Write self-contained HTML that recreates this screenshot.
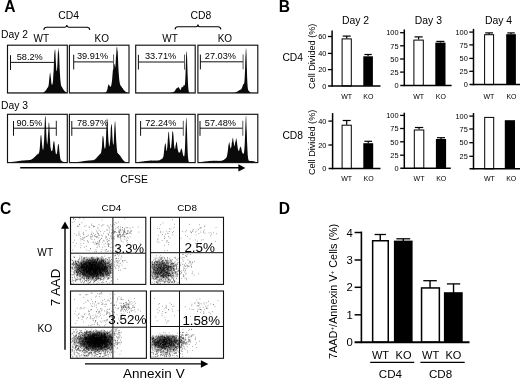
<!DOCTYPE html>
<html lang="en">
<head>
<meta charset="utf-8">
<title>Figure: CFSE proliferation and 7AAD / Annexin V staining of WT and KO CD4 and CD8 T cells</title>
<style>
html,body{margin:0;padding:0;background:#fff;}
body{width:520px;height:379px;overflow:hidden;}
svg{display:block;filter:blur(0.4px);}
svg text{font-family:"Liberation Sans", Arial, Helvetica, sans-serif;fill:#000;}
</style>
</head>
<body>
<svg width="520" height="379" viewBox="0 0 520 379">
<rect x="0" y="0" width="520" height="379" fill="#fff"/>
<text x="4.3" y="12" font-size="15.6" font-weight="bold">A</text>
<text x="58.2" y="18.9" font-size="10.4">CD4</text>
<text x="190.6" y="18.8" font-size="10.4">CD8</text>
<text x="1.1" y="38" font-size="10.3">Day 2</text>
<text x="1.1" y="108.5" font-size="10.3">Day 3</text>
<text x="33.6" y="41.6" font-size="10">WT</text>
<text x="94.5" y="41.6" font-size="10">KO</text>
<text x="162.3" y="41.5" font-size="10">WT</text>
<text x="217.7" y="41.5" font-size="10">KO</text>
<text x="120.2" y="182.6" font-size="10.4">CFSE</text>
<path d="M43.8 29.9 Q44.1 27.2 46.8 27.2 L65 27.2 Q66.5 27.2 66.8 25.2 Q67.1 27.2 68.6 27.2 L86.8 27.2 Q89.5 27.2 89.8 29.9" fill="none" stroke="#000" stroke-width="1.1"/>
<path d="M175 29.4 Q175.3 26.8 178 26.8 L196.15 26.8 Q197.65 26.8 197.95 24.5 Q198.25 26.8 199.75 26.8 L217.9 26.8 Q220.6 26.8 220.9 29.4" fill="none" stroke="#000" stroke-width="1.1"/>
<path d="M8.1 93L8.1 92.65L8.4 92.65L8.7 92.65L9 92.65L9.3 92.65L9.6 92.65L9.9 92.65L10.2 92.65L10.5 92.65L10.8 92.65L11.1 92.65L11.4 92.65L11.7 92.65L12 92.65L12.3 92.65L12.6 92.65L12.9 92.65L13.2 92.65L13.5 92.65L13.8 92.65L14.1 92.65L14.4 92.65L14.7 92.65L15 92.65L15.3 92.65L15.6 92.65L15.9 92.65L16.2 92.65L16.5 92.65L16.8 92.65L17.1 92.65L17.4 92.65L17.7 92.65L18 92.65L18.3 92.65L18.6 92.65L18.9 92.65L19.2 92.65L19.5 92.65L19.8 92.65L20.1 92.65L20.4 92.65L20.7 92.65L21 92.65L21.3 92.65L21.6 92.65L21.9 92.65L22.2 92.65L22.5 92.65L22.8 92.65L23.1 92.65L23.4 92.65L23.7 92.65L24 92.65L24.3 92.65L24.6 92.65L24.9 92.65L25.2 92.65L25.5 92.65L25.8 92.65L26.1 92.65L26.4 92.65L26.7 92.65L27 92.65L27.3 92.65L27.6 92.65L27.9 92.65L28.2 92.65L28.5 92.65L28.8 92.65L29.1 92.65L29.4 92.65L29.7 92.65L30 92.65L30.3 92.65L30.6 92.65L30.9 92.65L31.2 92.65L31.5 92.65L31.8 92.65L32.1 92.65L32.4 92.65L32.7 92.65L33 92.65L33.3 92.65L33.6 92.65L33.9 92.65L34.2 92.65L34.5 92.65L34.8 92.65L35.1 92.65L35.4 92.65L35.7 92.65L36 92.65L36.3 92.65L36.6 92.65L36.9 92.65L37.2 92.65L37.5 92.65L37.8 92.65L38.1 92.65L38.4 92.65L38.7 92.65L39 92.65L39.3 92.65L39.6 92.65L39.9 92.65L40.2 92.65L40.5 92.65L40.8 92.65L41.1 92.65L41.4 92.65L41.7 92.65L42 92.65L42.3 92.65L42.6 92.65L42.9 92.65L43.2 92.57L43.5 92.41L43.8 92.24L44.1 92.05L44.4 91.83L44.7 91.57L45 91.16L45.3 91L45.6 90.64L45.9 89.99L46.2 89.81L46.5 89.42L46.8 88.98L47.1 88.31L47.4 87.82L47.7 87.87L48 87.14L48.3 86.58L48.6 85.18L48.9 83.09L49.2 79.56L49.5 76.55L49.8 74.11L50.1 72.36L50.4 74.31L50.7 76.81L51 78.78L51.3 82.61L51.6 84.27L51.9 84.81L52.2 84.72L52.5 83.82L52.8 82.79L53.1 79.21L53.4 74.07L53.7 69.98L54 61.46L54.3 54.07L54.6 51.13L54.9 49.63L55.2 49.61L55.5 54.63L55.8 61.39L56.1 66.14L56.4 70.34L56.7 71.41L57 69.98L57.3 66.3L57.6 60.36L57.9 52.51L58.2 50.41L58.5 47.48L58.8 51.77L59.1 53.67L59.4 61.82L59.7 69.42L60 74.83L60.3 79.45L60.6 81.78L60.9 84.4L61.2 85.67L61.5 86.41L61.8 86.65L62.1 87.36L62.4 87.86L62.7 88.3L63 88.92L63.3 89.36L63.6 89.72L63.9 90.33L64.2 90.65L64.5 90.97L64.8 91.3L65.1 91.52L65.4 91.81L65.7 91.97L66 92.19L66.3 92.36L66.6 92.49L66.7 93Z" fill="#0a0a0a"/>
<rect x="7.5" y="45.2" width="59.8" height="47.8" fill="none" stroke="#111" stroke-width="1.15"/>
<line x1="10.5" y1="62.4" x2="54.5" y2="62.4" stroke="#111" stroke-width="1"/>
<line x1="10.5" y1="55.2" x2="10.5" y2="70" stroke="#111" stroke-width="1"/>
<text x="16.7" y="59.7" font-size="9.2" fill="#1a1a1a">58.2%</text>
<path d="M70 93L70 92.65L70.3 92.65L70.6 92.65L70.9 92.65L71.2 92.65L71.5 92.65L71.8 92.65L72.1 92.65L72.4 92.65L72.7 92.65L73 92.65L73.3 92.65L73.6 92.65L73.9 92.65L74.2 92.65L74.5 92.65L74.8 92.65L75.1 92.65L75.4 92.65L75.7 92.65L76 92.65L76.3 92.65L76.6 92.65L76.9 92.65L77.2 92.65L77.5 92.65L77.8 92.65L78.1 92.65L78.4 92.65L78.7 92.65L79 92.65L79.3 92.65L79.6 92.65L79.9 92.65L80.2 92.65L80.5 92.65L80.8 92.65L81.1 92.65L81.4 92.65L81.7 92.65L82 92.65L82.3 92.65L82.6 92.65L82.9 92.65L83.2 92.65L83.5 92.65L83.8 92.65L84.1 92.65L84.4 92.65L84.7 92.65L85 92.65L85.3 92.65L85.6 92.65L85.9 92.65L86.2 92.65L86.5 92.65L86.8 92.65L87.1 92.65L87.4 92.65L87.7 92.65L88 92.65L88.3 92.65L88.6 92.65L88.9 92.65L89.2 92.65L89.5 92.65L89.8 92.65L90.1 92.65L90.4 92.65L90.7 92.65L91 92.65L91.3 92.65L91.6 92.65L91.9 92.65L92.2 92.65L92.5 92.65L92.8 92.65L93.1 92.65L93.4 92.65L93.7 92.65L94 92.65L94.3 92.65L94.6 92.65L94.9 92.65L95.2 92.65L95.5 92.65L95.8 92.65L96.1 92.65L96.4 92.65L96.7 92.65L97 92.65L97.3 92.65L97.6 92.65L97.9 92.65L98.2 92.65L98.5 92.65L98.8 92.65L99.1 92.65L99.4 92.65L99.7 92.65L100 92.65L100.3 92.65L100.6 92.65L100.9 92.65L101.2 92.65L101.5 92.65L101.8 92.65L102.1 92.65L102.4 92.65L102.7 92.65L103 92.65L103.3 92.65L103.6 92.65L103.9 92.65L104.2 92.65L104.5 92.65L104.8 92.61L105.1 92.53L105.4 92.43L105.7 92.29L106 92.15L106.3 91.81L106.6 91.37L106.9 90.81L107.2 89.88L107.5 88.65L107.8 86.82L108.1 85.77L108.4 84.88L108.7 83.99L109 84.39L109.3 85.21L109.6 85.88L109.9 86.28L110.2 86.89L110.5 86.86L110.8 86.25L111.1 85.72L111.4 84.7L111.7 82.85L112 80.98L112.3 77.35L112.6 73.53L112.9 70.14L113.2 66.95L113.5 62.3L113.8 62.54L114.1 63.98L114.4 64.25L114.7 65.14L115 67.8L115.3 66.81L115.6 63.75L115.9 57.74L116.2 55.11L116.5 48.75L116.8 46.7L117.1 46.76L117.4 50.52L117.7 51.85L118 58.42L118.3 65.4L118.6 71.61L118.9 75.35L119.2 79.23L119.5 81.45L119.8 83.36L120.1 84.16L120.4 85.39L120.7 85.77L121 85.79L121.3 86.32L121.6 87.11L121.9 87.23L122.2 87.95L122.5 88.06L122.8 88.58L123.1 89.12L123.4 89.56L123.7 90L124 90.1L124.3 90.65L124.6 90.78L124.9 91.04L125.2 91.38L125.5 91.67L125.8 91.79L126.1 91.98L126.4 92.17L126.7 92.33L127 92.46L127.3 92.56L127.6 92.65L127.9 92.65L128.2 92.65L128.4 93Z" fill="#0a0a0a"/>
<rect x="69.4" y="45.2" width="59.6" height="47.8" fill="none" stroke="#111" stroke-width="1.15"/>
<line x1="73.7" y1="61.9" x2="113.6" y2="61.9" stroke="#111" stroke-width="1"/>
<line x1="73.7" y1="54.7" x2="73.7" y2="69.5" stroke="#111" stroke-width="1"/>
<line x1="113.6" y1="54.5" x2="113.6" y2="69.5" stroke="#5a5a5a" stroke-width="1"/>
<text x="76.9" y="59.2" font-size="9.2" fill="#1a1a1a">39.91%</text>
<path d="M136.3 93L136.3 92.65L136.6 92.65L136.9 92.65L137.2 92.65L137.5 92.65L137.8 92.65L138.1 92.65L138.4 92.65L138.7 92.65L139 92.65L139.3 92.65L139.6 92.65L139.9 92.65L140.2 92.65L140.5 92.65L140.8 92.65L141.1 92.65L141.4 92.65L141.7 92.65L142 92.65L142.3 92.65L142.6 92.65L142.9 92.65L143.2 92.65L143.5 92.65L143.8 92.65L144.1 92.65L144.4 92.65L144.7 92.65L145 92.65L145.3 92.65L145.6 92.65L145.9 92.65L146.2 92.65L146.5 92.65L146.8 92.65L147.1 92.65L147.4 92.65L147.7 92.65L148 92.65L148.3 92.65L148.6 92.65L148.9 92.65L149.2 92.65L149.5 92.65L149.8 92.65L150.1 92.65L150.4 92.65L150.7 92.65L151 92.65L151.3 92.65L151.6 92.65L151.9 92.65L152.2 92.65L152.5 92.65L152.8 92.65L153.1 92.65L153.4 92.65L153.7 92.65L154 92.65L154.3 92.65L154.6 92.65L154.9 92.65L155.2 92.65L155.5 92.65L155.8 92.65L156.1 92.65L156.4 92.65L156.7 92.65L157 92.65L157.3 92.65L157.6 92.65L157.9 92.65L158.2 92.65L158.5 92.65L158.8 92.65L159.1 92.65L159.4 92.65L159.7 92.65L160 92.65L160.3 92.65L160.6 92.65L160.9 92.65L161.2 92.65L161.5 92.65L161.8 92.65L162.1 92.65L162.4 92.65L162.7 92.65L163 92.65L163.3 92.65L163.6 92.65L163.9 92.65L164.2 92.65L164.5 92.65L164.8 92.65L165.1 92.65L165.4 92.65L165.7 92.65L166 92.65L166.3 92.65L166.6 92.65L166.9 92.65L167.2 92.65L167.5 92.65L167.8 92.65L168.1 92.65L168.4 92.65L168.7 92.65L169 92.65L169.3 92.65L169.6 92.65L169.9 92.65L170.2 92.65L170.5 92.63L170.8 92.6L171.1 92.51L171.4 92.49L171.7 92.45L172 92.37L172.3 92.29L172.6 92.21L172.9 92.19L173.2 92.09L173.5 92.03L173.8 91.87L174.1 91.67L174.4 91.45L174.7 91.1L175 90.7L175.3 90.15L175.6 89.62L175.9 89.16L176.2 88.81L176.5 88.3L176.8 88.27L177.1 88.23L177.4 87.89L177.7 87.4L178 87.52L178.3 87.05L178.6 87.16L178.9 87.38L179.2 88.12L179.5 88.41L179.8 89.35L180.1 89.7L180.4 89.94L180.7 89.86L181 89L181.3 88.19L181.6 87.23L181.9 86.65L182.2 86.6L182.5 87.13L182.8 87.23L183.1 87.16L183.4 86.08L183.7 85.16L184 84.65L184.3 85.45L184.6 85.53L184.9 84.77L185.2 81.09L185.5 74.59L185.8 65.33L186.1 56.54L186.4 52.28L186.7 50.71L187 54.97L187.3 65.02L187.6 73.97L187.9 81.23L188.2 86.96L188.5 89.89L188.8 91.59L189.1 92.27L189.4 92.53L189.7 92.64L190 92.65L190.3 92.65L190.6 92.65L190.9 92.65L191.2 92.65L191.5 92.65L191.8 92.65L192.1 92.65L192.4 92.65L192.7 92.65L193 92.65L193.3 92.65L193.6 92.65L193.9 92.65L194.2 92.65L194.5 92.65L194.6 93Z" fill="#0a0a0a"/>
<rect x="135.7" y="45.2" width="59.5" height="47.8" fill="none" stroke="#111" stroke-width="1.15"/>
<line x1="138.4" y1="62" x2="184.5" y2="62" stroke="#111" stroke-width="1"/>
<line x1="138.4" y1="54.8" x2="138.4" y2="69.6" stroke="#111" stroke-width="1"/>
<line x1="184.5" y1="54.6" x2="184.5" y2="69.6" stroke="#5a5a5a" stroke-width="1"/>
<text x="145" y="59.3" font-size="9.2" fill="#1a1a1a">33.71%</text>
<path d="M198.5 93L198.5 92.65L198.8 92.65L199.1 92.65L199.4 92.65L199.7 92.65L200 92.65L200.3 92.65L200.6 92.65L200.9 92.65L201.2 92.65L201.5 92.65L201.8 92.65L202.1 92.65L202.4 92.65L202.7 92.65L203 92.65L203.3 92.65L203.6 92.65L203.9 92.65L204.2 92.65L204.5 92.65L204.8 92.65L205.1 92.65L205.4 92.65L205.7 92.65L206 92.65L206.3 92.65L206.6 92.65L206.9 92.65L207.2 92.65L207.5 92.65L207.8 92.65L208.1 92.65L208.4 92.65L208.7 92.65L209 92.65L209.3 92.65L209.6 92.65L209.9 92.65L210.2 92.65L210.5 92.65L210.8 92.65L211.1 92.65L211.4 92.65L211.7 92.65L212 92.65L212.3 92.65L212.6 92.65L212.9 92.65L213.2 92.65L213.5 92.65L213.8 92.65L214.1 92.65L214.4 92.65L214.7 92.65L215 92.65L215.3 92.65L215.6 92.65L215.9 92.65L216.2 92.65L216.5 92.65L216.8 92.65L217.1 92.65L217.4 92.65L217.7 92.65L218 92.65L218.3 92.65L218.6 92.65L218.9 92.65L219.2 92.65L219.5 92.65L219.8 92.65L220.1 92.65L220.4 92.65L220.7 92.65L221 92.65L221.3 92.65L221.6 92.65L221.9 92.65L222.2 92.65L222.5 92.65L222.8 92.65L223.1 92.65L223.4 92.65L223.7 92.65L224 92.65L224.3 92.65L224.6 92.65L224.9 92.65L225.2 92.65L225.5 92.65L225.8 92.65L226.1 92.65L226.4 92.65L226.7 92.65L227 92.65L227.3 92.65L227.6 92.65L227.9 92.65L228.2 92.65L228.5 92.65L228.8 92.65L229.1 92.65L229.4 92.65L229.7 92.65L230 92.65L230.3 92.65L230.6 92.65L230.9 92.65L231.2 92.65L231.5 92.65L231.8 92.65L232.1 92.65L232.4 92.65L232.7 92.65L233 92.65L233.3 92.65L233.6 92.65L233.9 92.65L234.2 92.65L234.5 92.65L234.8 92.61L235.1 92.52L235.4 92.44L235.7 92.31L236 92.18L236.3 92.11L236.6 91.96L236.9 91.73L237.2 91.52L237.5 91.44L237.8 91.21L238.1 90.99L238.4 90.85L238.7 90.65L239 90.47L239.3 90.27L239.6 90.04L239.9 89.97L240.2 89.8L240.5 89.53L240.8 89.63L241.1 89.24L241.4 88.87L241.7 88.6L242 88.02L242.3 86.85L242.6 86.24L242.9 85.36L243.2 84.43L243.5 83.78L243.8 84.16L244.1 83.55L244.4 81.98L244.7 77.34L245 71.01L245.3 60.53L245.6 54.12L245.9 48.58L246.2 48.47L246.5 54.82L246.8 66.41L247.1 76.36L247.4 83.36L247.7 87.19L248 89.44L248.3 90.2L248.6 90.67L248.9 91.12L249.2 91.39L249.5 91.59L249.8 91.89L250.1 92.13L250.4 92.38L250.7 92.56L251 92.65L251.3 92.65L251.6 92.65L251.9 92.65L252.2 92.65L252.5 92.65L252.8 92.65L253.1 92.65L253.4 92.65L253.7 92.65L254 92.65L254.3 92.65L254.6 92.65L254.9 92.65L255.2 92.65L255.5 92.65L255.8 92.65L256.1 92.65L256.4 92.65L256.7 92.65L257 92.65L257.2 93Z" fill="#0a0a0a"/>
<rect x="197.9" y="45.2" width="59.9" height="47.8" fill="none" stroke="#111" stroke-width="1.15"/>
<line x1="200.4" y1="61.8" x2="243.1" y2="61.8" stroke="#111" stroke-width="1"/>
<line x1="200.4" y1="54.6" x2="200.4" y2="69.4" stroke="#111" stroke-width="1"/>
<line x1="243.1" y1="54.4" x2="243.1" y2="69.4" stroke="#5a5a5a" stroke-width="1"/>
<text x="204.8" y="59.1" font-size="9.2" fill="#1a1a1a">27.03%</text>
<path d="M8.1 162.6L8.1 162.25L8.4 162.25L8.7 162.22L9 162.22L9.3 162.17L9.6 162.14L9.9 162.13L10.2 162.12L10.5 162.08L10.8 162.06L11.1 162.04L11.4 161.97L11.7 161.93L12 161.96L12.3 161.88L12.6 161.86L12.9 161.84L13.2 161.81L13.5 161.75L13.8 161.73L14.1 161.67L14.4 161.63L14.7 161.65L15 161.54L15.3 161.48L15.6 161.44L15.9 161.43L16.2 161.46L16.5 161.42L16.8 161.37L17.1 161.22L17.4 161.26L17.7 161.21L18 161.09L18.3 161.13L18.6 161.05L18.9 161.02L19.2 161.04L19.5 160.91L19.8 160.83L20.1 160.9L20.4 160.85L20.7 160.78L21 160.81L21.3 160.68L21.6 160.58L21.9 160.58L22.2 160.56L22.5 160.46L22.8 160.58L23.1 160.46L23.4 160.47L23.7 160.39L24 160.47L24.3 160.3L24.6 160.42L24.9 160.39L25.2 160.22L25.5 160.16L25.8 160.27L26.1 160.25L26.4 160.28L26.7 160.25L27 160.16L27.3 160.25L27.6 160.25L27.9 160.15L28.2 160.2L28.5 160.06L28.8 159.99L29.1 159.97L29.4 160.01L29.7 160L30 159.92L30.3 159.98L30.6 159.7L30.9 159.72L31.2 159.62L31.5 159.57L31.8 159.3L32.1 159.09L32.4 158.97L32.7 158.58L33 158.42L33.3 158.36L33.6 157.97L33.9 157.49L34.2 157.38L34.5 157.03L34.8 157.02L35.1 156.45L35.4 156.15L35.7 155.88L36 155.56L36.3 155.14L36.6 154.9L36.9 154.67L37.2 154.69L37.5 154.24L37.8 153.58L38.1 153.86L38.4 153.97L38.7 153.67L39 152.53L39.3 151.86L39.6 149.76L39.9 146.65L40.2 142.05L40.5 136.73L40.8 135.22L41.1 134.74L41.4 136.61L41.7 139.89L42 143.84L42.3 146.61L42.6 148.52L42.9 149.7L43.2 149.79L43.5 147.9L43.8 144.09L44.1 140.22L44.4 132.95L44.7 123.83L45 117.21L45.3 115.8L45.6 117.35L45.9 122.41L46.2 131.28L46.5 137.27L46.8 141.73L47.1 144.67L47.4 143.06L47.7 139.97L48 134.23L48.3 131.02L48.6 123.38L48.9 122.2L49.2 123.44L49.5 128.43L49.8 136.64L50.1 141.34L50.4 146.48L50.7 148.37L51 149.39L51.3 150.96L51.6 151.01L51.9 151.24L52.2 150.64L52.5 149.63L52.8 148.19L53.1 144.58L53.4 142.46L53.7 141.65L54 140.58L54.3 141.67L54.6 144.17L54.9 147.05L55.2 149.37L55.5 151.66L55.8 153.42L56.1 154.17L56.4 154.22L56.7 153.87L57 153.17L57.3 150.87L57.6 147.94L57.9 145.22L58.2 143.63L58.5 144.24L58.8 144.78L59.1 147.94L59.4 151.19L59.7 154.11L60 156.52L60.3 158.19L60.6 159.39L60.9 160.16L61.2 160.49L61.5 160.83L61.8 161.06L62.1 161.29L62.4 161.44L62.7 161.61L63 161.71L63.3 161.86L63.6 161.97L63.9 162.06L64.2 162.15L64.5 162.21L64.8 162.25L65.1 162.25L65.4 162.25L65.7 162.25L66 162.25L66.3 162.25L66.6 162.25L66.7 162.6Z" fill="#0a0a0a"/>
<rect x="7.5" y="114.3" width="59.8" height="48.3" fill="none" stroke="#111" stroke-width="1.15"/>
<line x1="13.5" y1="128.2" x2="56.3" y2="128.2" stroke="#111" stroke-width="1"/>
<line x1="13.5" y1="121" x2="13.5" y2="135.8" stroke="#111" stroke-width="1"/>
<line x1="56.3" y1="120.8" x2="56.3" y2="135.8" stroke="#222" stroke-width="1"/>
<text x="16.4" y="125.5" font-size="9.2" fill="#1a1a1a">90.5%</text>
<path d="M70 162.6L70 162.25L70.3 162.25L70.6 162.25L70.9 162.25L71.2 162.25L71.5 162.25L71.8 162.25L72.1 162.25L72.4 162.25L72.7 162.25L73 162.25L73.3 162.25L73.6 162.25L73.9 162.25L74.2 162.25L74.5 162.25L74.8 162.23L75.1 162.21L75.4 162.19L75.7 162.17L76 162.16L76.3 162.14L76.6 162.09L76.9 162.09L77.2 162.05L77.5 162.01L77.8 162L78.1 161.93L78.4 161.9L78.7 161.84L79 161.82L79.3 161.78L79.6 161.75L79.9 161.69L80.2 161.67L80.5 161.65L80.8 161.54L81.1 161.49L81.4 161.46L81.7 161.43L82 161.44L82.3 161.4L82.6 161.35L82.9 161.34L83.2 161.2L83.5 161.21L83.8 161.1L84.1 161.12L84.4 160.99L84.7 160.96L85 161.06L85.3 160.98L85.6 160.82L85.9 160.86L86.2 160.73L86.5 160.79L86.8 160.82L87.1 160.68L87.4 160.61L87.7 160.68L88 160.69L88.3 160.61L88.6 160.45L88.9 160.46L89.2 160.57L89.5 160.52L89.8 160.53L90.1 160.52L90.4 160.34L90.7 160.46L91 160.35L91.3 160.36L91.6 160.4L91.9 160.25L92.2 160.36L92.5 160.2L92.8 160.29L93.1 160.16L93.4 160.15L93.7 160.05L94 159.76L94.3 159.68L94.6 159.67L94.9 159.32L95.2 159.33L95.5 159.03L95.8 158.58L96.1 158.36L96.4 158.27L96.7 157.49L97 157.51L97.3 157.11L97.6 156.42L97.9 156.31L98.2 155.96L98.5 155.78L98.8 155.45L99.1 154.79L99.4 154.8L99.7 154.29L100 154.28L100.3 154.02L100.6 153.31L100.9 153.25L101.2 152.21L101.5 150.09L101.8 148.17L102.1 144.53L102.4 138.79L102.7 135.55L103 135.68L103.3 136.82L103.6 138.37L103.9 141.8L104.2 146.56L104.5 147.71L104.8 148.83L105.1 148.83L105.4 147.24L105.7 144.23L106 139.02L106.3 129.41L106.6 124.95L106.9 118.24L107.2 119.2L107.5 119.85L107.8 126.72L108.1 134.28L108.4 140.08L108.7 142.75L109 146.01L109.3 146.4L109.6 145.36L109.9 143.04L110.2 140.16L110.5 136.19L110.8 128.58L111.1 126.05L111.4 124.26L111.7 124.08L112 127.43L112.3 134.36L112.6 139.55L112.9 143.18L113.2 144.6L113.5 144.65L113.8 141.05L114.1 134.53L114.4 127.96L114.7 123.72L115 120.83L115.3 122.13L115.6 127.97L115.9 134.29L116.2 140.56L116.5 144.21L116.8 148.54L117.1 150.67L117.4 152.99L117.7 153.07L118 153.62L118.3 153.7L118.6 154.33L118.9 154.06L119.2 155.11L119.5 155.08L119.8 155.32L120.1 155.61L120.4 156.14L120.7 156.6L121 157L121.3 157.4L121.6 158.12L121.9 158.41L122.2 158.76L122.5 159.2L122.8 159.73L123.1 160L123.4 160.33L123.7 160.7L124 160.97L124.3 161.26L124.6 161.45L124.9 161.64L125.2 161.85L125.5 161.95L125.8 162.06L126.1 162.17L126.4 162.25L126.7 162.25L127 162.25L127.3 162.25L127.6 162.25L127.9 162.25L128.2 162.25L128.4 162.6Z" fill="#0a0a0a"/>
<rect x="69.4" y="114.3" width="59.6" height="48.3" fill="none" stroke="#111" stroke-width="1.15"/>
<line x1="71.8" y1="128.2" x2="107" y2="128.2" stroke="#111" stroke-width="1"/>
<line x1="71.8" y1="121" x2="71.8" y2="135.8" stroke="#111" stroke-width="1"/>
<text x="76.9" y="125.5" font-size="9.2" fill="#1a1a1a">78.97%</text>
<path d="M136.3 162.6L136.3 162.16L136.6 162.13L136.9 162.1L137.2 162.1L137.5 162.08L137.8 162.03L138.1 162.01L138.4 161.94L138.7 161.92L139 161.89L139.3 161.86L139.6 161.81L139.9 161.82L140.2 161.76L140.5 161.75L140.8 161.64L141.1 161.68L141.4 161.57L141.7 161.61L142 161.5L142.3 161.5L142.6 161.45L142.9 161.36L143.2 161.42L143.5 161.38L143.8 161.22L144.1 161.24L144.4 161.26L144.7 161.09L145 161.06L145.3 161.14L145.6 161.06L145.9 161.07L146.2 161.01L146.5 160.92L146.8 160.96L147.1 160.84L147.4 160.92L147.7 160.87L148 160.73L148.3 160.78L148.6 160.75L148.9 160.7L149.2 160.7L149.5 160.69L149.8 160.75L150.1 160.59L150.4 160.53L150.7 160.52L151 160.57L151.3 160.62L151.6 160.62L151.9 160.54L152.2 160.54L152.5 160.66L152.8 160.63L153.1 160.6L153.4 160.58L153.7 160.52L154 160.58L154.3 160.68L154.6 160.52L154.9 160.6L155.2 160.59L155.5 160.65L155.8 160.6L156.1 160.61L156.4 160.52L156.7 160.64L157 160.54L157.3 160.59L157.6 160.46L157.9 160.56L158.2 160.47L158.5 160.4L158.8 160.28L159.1 160.35L159.4 160.17L159.7 160.14L160 160.02L160.3 159.84L160.6 159.57L160.9 159.56L161.2 159.24L161.5 159.32L161.8 158.85L162.1 158.83L162.4 158.64L162.7 158.05L163 157.41L163.3 157L163.6 155.37L163.9 152.64L164.2 150.09L164.5 147.04L164.8 144.88L165.1 143.63L165.4 142.98L165.7 144.26L166 146.81L166.3 149.62L166.6 151.23L166.9 150.49L167.2 147.86L167.5 144.13L167.8 139.79L168.1 136.21L168.4 132.14L168.7 131.53L169 133L169.3 137.72L169.6 140.41L169.9 144.26L170.2 147.85L170.5 148.78L170.8 148.03L171.1 147.88L171.4 144.59L171.7 141.86L172 137.02L172.3 132.59L172.6 131.22L172.9 130.63L173.2 132.99L173.5 135.95L173.8 140.66L174.1 145.66L174.4 147.06L174.7 148.99L175 149.27L175.3 148.04L175.6 145.47L175.9 144.21L176.2 142.54L176.5 141.43L176.8 142.15L177.1 144.4L177.4 147.23L177.7 149.05L178 150.24L178.3 151.38L178.6 152.16L178.9 152.66L179.2 152.74L179.5 152.33L179.8 152.28L180.1 152.41L180.4 150.96L180.7 149.85L181 149.14L181.3 148.46L181.6 148.45L181.9 149.58L182.2 150.43L182.5 152.34L182.8 154.03L183.1 155.07L183.4 156.07L183.7 156.32L184 156.61L184.3 155.98L184.6 153.67L184.9 149.78L185.2 142.01L185.5 132.25L185.8 124.1L186.1 118.7L186.4 117.26L186.7 122.66L187 130.42L187.3 141.86L187.6 150.22L187.9 155.79L188.2 159.08L188.5 160.86L188.8 161.68L189.1 162L189.4 162.19L189.7 162.25L190 162.25L190.3 162.25L190.6 162.25L190.9 162.25L191.2 162.25L191.5 162.25L191.8 162.25L192.1 162.25L192.4 162.25L192.7 162.25L193 162.25L193.3 162.25L193.6 162.25L193.9 162.25L194.2 162.25L194.5 162.25L194.6 162.6Z" fill="#0a0a0a"/>
<rect x="135.7" y="114.3" width="59.5" height="48.3" fill="none" stroke="#111" stroke-width="1.15"/>
<line x1="140.6" y1="128.2" x2="183.3" y2="128.2" stroke="#111" stroke-width="1"/>
<line x1="140.6" y1="121" x2="140.6" y2="135.8" stroke="#111" stroke-width="1"/>
<line x1="183.3" y1="120.8" x2="183.3" y2="135.8" stroke="#5a5a5a" stroke-width="1"/>
<text x="145.2" y="125.5" font-size="9.2" fill="#1a1a1a">72.24%</text>
<path d="M198.5 162.6L198.5 162.2L198.8 162.16L199.1 162.13L199.4 162.1L199.7 162.11L200 162.08L200.3 162.05L200.6 162.02L200.9 161.96L201.2 161.97L201.5 161.91L201.8 161.9L202.1 161.86L202.4 161.82L202.7 161.75L203 161.74L203.3 161.76L203.6 161.7L203.9 161.67L204.2 161.57L204.5 161.54L204.8 161.5L205.1 161.46L205.4 161.43L205.7 161.37L206 161.35L206.3 161.38L206.6 161.27L206.9 161.28L207.2 161.21L207.5 161.2L207.8 161.19L208.1 161.17L208.4 161.13L208.7 161.11L209 161.12L209.3 160.98L209.6 160.96L209.9 160.9L210.2 160.92L210.5 160.92L210.8 160.87L211.1 160.95L211.4 160.84L211.7 160.87L212 160.9L212.3 160.88L212.6 160.82L212.9 160.86L213.2 160.81L213.5 160.78L213.8 160.82L214.1 160.86L214.4 160.8L214.7 160.84L215 160.85L215.3 160.86L215.6 160.84L215.9 160.9L216.2 160.8L216.5 160.76L216.8 160.87L217.1 160.82L217.4 160.79L217.7 160.96L218 160.95L218.3 160.84L218.6 160.84L218.9 160.88L219.2 160.96L219.5 160.91L219.8 160.83L220.1 160.81L220.4 160.8L220.7 160.88L221 160.73L221.3 160.77L221.6 160.65L221.9 160.7L222.2 160.45L222.5 160.43L222.8 160.29L223.1 160.29L223.4 160.05L223.7 159.89L224 159.71L224.3 159.58L224.6 159.23L224.9 159.12L225.2 158.87L225.5 158.64L225.8 158.09L226.1 157.98L226.4 157.46L226.7 156.93L227 155.64L227.3 154.31L227.6 152.38L227.9 150.54L228.2 147.28L228.5 144.89L228.8 143.57L229.1 143.09L229.4 141.59L229.7 144.7L230 146.08L230.3 147.61L230.6 147.96L230.9 148.69L231.2 147.19L231.5 145.64L231.8 142.52L232.1 141.96L232.4 139.51L232.7 138.34L233 137.59L233.3 140.04L233.6 142L233.9 143.45L234.2 145.43L234.5 146.38L234.8 145.2L235.1 143.25L235.4 141.82L235.7 141.06L236 138.82L236.3 138.1L236.6 140.3L236.9 141.34L237.2 144.1L237.5 146.56L237.8 148.39L238.1 149.86L238.4 150.48L238.7 151.17L239 150.59L239.3 150.4L239.6 148.57L239.9 147.65L240.2 147.61L240.5 145.92L240.8 147.1L241.1 147.54L241.4 148.76L241.7 150.45L242 151.7L242.3 152.46L242.6 153.4L242.9 153.17L243.2 154.11L243.5 153.5L243.8 153.53L244.1 151.96L244.4 148.73L244.7 144.16L245 136.92L245.3 128.19L245.6 120.91L245.9 115.8L246.2 116.21L246.5 125.93L246.8 132.61L247.1 142.42L247.4 148.73L247.7 154.57L248 157.44L248.3 159.33L248.6 160.27L248.9 160.67L249.2 160.79L249.5 160.78L249.8 160.96L250.1 160.93L250.4 160.97L250.7 160.98L251 160.92L251.3 161.02L251.6 160.95L251.9 160.98L252.2 160.96L252.5 161.06L252.8 161.05L253.1 161.18L253.4 161.22L253.7 161.29L254 161.35L254.3 161.43L254.6 161.6L254.9 161.69L255.2 161.74L255.5 161.81L255.8 161.92L256.1 162.02L256.4 162.06L256.7 162.17L257 162.24L257.2 162.6Z" fill="#0a0a0a"/>
<rect x="197.9" y="114.3" width="59.9" height="48.3" fill="none" stroke="#111" stroke-width="1.15"/>
<line x1="200" y1="128.2" x2="242.8" y2="128.2" stroke="#111" stroke-width="1"/>
<line x1="200" y1="121" x2="200" y2="135.8" stroke="#111" stroke-width="1"/>
<line x1="242.8" y1="120.8" x2="242.8" y2="135.8" stroke="#5a5a5a" stroke-width="1"/>
<text x="204.8" y="125.5" font-size="9.2" fill="#1a1a1a">57.48%</text>
<line x1="20.2" y1="167.8" x2="239.5" y2="167.8" stroke="#000" stroke-width="1.4"/>
<path d="M245.4 167.9L238.4 164.3L238.4 171.6Z" fill="#000"/>
<text x="278.7" y="12" font-size="15.6" font-weight="bold">B</text>
<text x="342" y="23.5" font-size="10.4">Day 2</text>
<text x="414.8" y="23.5" font-size="10.4">Day 3</text>
<text x="485" y="23.5" font-size="10.4">Day 4</text>
<text x="282.4" y="61.3" font-size="10.3">CD4</text>
<text x="282.4" y="139.2" font-size="10.3">CD8</text>
<text x="314.7" y="89" font-size="8.8" transform="rotate(-90 314.7 89)" textLength="65.4" lengthAdjust="spacingAndGlyphs">Cell Divided (%)</text>
<text x="314.7" y="175.1" font-size="8.8" transform="rotate(-90 314.7 175.1)" textLength="65.4" lengthAdjust="spacingAndGlyphs">Cell Divided (%)</text>
<line x1="346.7" y1="36.1" x2="346.7" y2="38.4" stroke="#000" stroke-width="1.2"/>
<line x1="342.7" y1="36.1" x2="350.7" y2="36.1" stroke="#000" stroke-width="1.2"/>
<rect x="342.1" y="38.9" width="9.2" height="47" fill="#fff" stroke="#000" stroke-width="1"/>
<text x="341.2" y="98.6" font-size="7">WT</text>
<line x1="368.1" y1="54.5" x2="368.1" y2="56.3" stroke="#000" stroke-width="1.2"/>
<line x1="364.4" y1="54.5" x2="371.8" y2="54.5" stroke="#000" stroke-width="1.2"/>
<rect x="363.3" y="56.3" width="9.6" height="29.6" fill="#000" stroke="none" stroke-width="0"/>
<text x="363.3" y="98.6" font-size="7">KO</text>
<line x1="332.1" y1="30.4" x2="332.1" y2="86.6" stroke="#000" stroke-width="1.5"/>
<line x1="328.1" y1="85.9" x2="380.5" y2="85.9" stroke="#000" stroke-width="1.5"/>
<line x1="327.9" y1="36.5" x2="332.1" y2="36.5" stroke="#000" stroke-width="1.3"/>
<text x="326.4" y="39.2" font-size="7.4" text-anchor="end">60</text>
<line x1="327.9" y1="53.4" x2="332.1" y2="53.4" stroke="#000" stroke-width="1.3"/>
<text x="326.4" y="56.1" font-size="7.4" text-anchor="end">40</text>
<line x1="327.9" y1="69.6" x2="332.1" y2="69.6" stroke="#000" stroke-width="1.3"/>
<text x="326.4" y="72.3" font-size="7.4" text-anchor="end">20</text>
<text x="326.4" y="88.6" font-size="7.4" text-anchor="end">0</text>
<line x1="418.6" y1="36.9" x2="418.6" y2="39.6" stroke="#000" stroke-width="1.2"/>
<line x1="414.5" y1="36.9" x2="422.7" y2="36.9" stroke="#000" stroke-width="1.2"/>
<rect x="413.9" y="40.1" width="9.4" height="45.4" fill="#fff" stroke="#000" stroke-width="1"/>
<text x="413.2" y="98.6" font-size="7">WT</text>
<line x1="440.4" y1="41.4" x2="440.4" y2="42.6" stroke="#000" stroke-width="1.2"/>
<line x1="436.4" y1="41.4" x2="444.4" y2="41.4" stroke="#000" stroke-width="1.2"/>
<rect x="435.3" y="42.6" width="10.2" height="42.9" fill="#000" stroke="none" stroke-width="0"/>
<text x="435.8" y="98.6" font-size="7">KO</text>
<line x1="404.3" y1="29.5" x2="404.3" y2="86.2" stroke="#000" stroke-width="1.5"/>
<line x1="400.3" y1="85.5" x2="451.6" y2="85.5" stroke="#000" stroke-width="1.5"/>
<line x1="400.1" y1="32.7" x2="404.3" y2="32.7" stroke="#000" stroke-width="1.3"/>
<text x="398.6" y="35.4" font-size="7.4" text-anchor="end">100</text>
<line x1="400.1" y1="45.8" x2="404.3" y2="45.8" stroke="#000" stroke-width="1.3"/>
<text x="398.6" y="48.5" font-size="7.4" text-anchor="end">75</text>
<line x1="400.1" y1="59" x2="404.3" y2="59" stroke="#000" stroke-width="1.3"/>
<text x="398.6" y="61.7" font-size="7.4" text-anchor="end">50</text>
<line x1="400.1" y1="72.1" x2="404.3" y2="72.1" stroke="#000" stroke-width="1.3"/>
<text x="398.6" y="74.8" font-size="7.4" text-anchor="end">25</text>
<text x="398.6" y="88.2" font-size="7.4" text-anchor="end">0</text>
<line x1="489.1" y1="32.9" x2="489.1" y2="34.2" stroke="#000" stroke-width="1.2"/>
<line x1="485.2" y1="32.9" x2="493" y2="32.9" stroke="#000" stroke-width="1.2"/>
<rect x="484.6" y="34.7" width="9" height="49.9" fill="#fff" stroke="#000" stroke-width="1"/>
<text x="483.4" y="98.6" font-size="7">WT</text>
<line x1="511.05" y1="32.9" x2="511.05" y2="34.2" stroke="#000" stroke-width="1.2"/>
<line x1="507.3" y1="32.9" x2="514.8" y2="32.9" stroke="#000" stroke-width="1.2"/>
<rect x="506.2" y="34.2" width="9.7" height="50.4" fill="#000" stroke="none" stroke-width="0"/>
<text x="506.4" y="98.6" font-size="7">KO</text>
<line x1="473.5" y1="28.9" x2="473.5" y2="85.3" stroke="#000" stroke-width="1.5"/>
<line x1="469.5" y1="84.6" x2="520.5" y2="84.6" stroke="#000" stroke-width="1.5"/>
<line x1="469.3" y1="32.1" x2="473.5" y2="32.1" stroke="#000" stroke-width="1.3"/>
<text x="467.8" y="34.8" font-size="7.4" text-anchor="end">100</text>
<line x1="469.3" y1="44.9" x2="473.5" y2="44.9" stroke="#000" stroke-width="1.3"/>
<text x="467.8" y="47.6" font-size="7.4" text-anchor="end">75</text>
<line x1="469.3" y1="58.4" x2="473.5" y2="58.4" stroke="#000" stroke-width="1.3"/>
<text x="467.8" y="61.1" font-size="7.4" text-anchor="end">50</text>
<line x1="469.3" y1="71.3" x2="473.5" y2="71.3" stroke="#000" stroke-width="1.3"/>
<text x="467.8" y="74" font-size="7.4" text-anchor="end">25</text>
<text x="467.8" y="87.3" font-size="7.4" text-anchor="end">0</text>
<line x1="346.7" y1="120.5" x2="346.7" y2="124.7" stroke="#000" stroke-width="1.2"/>
<line x1="342.7" y1="120.5" x2="350.7" y2="120.5" stroke="#000" stroke-width="1.2"/>
<rect x="342.1" y="125.2" width="9.2" height="43.4" fill="#fff" stroke="#000" stroke-width="1"/>
<text x="341.2" y="181.1" font-size="7">WT</text>
<line x1="368.25" y1="141.3" x2="368.25" y2="143.2" stroke="#000" stroke-width="1.2"/>
<line x1="364.4" y1="141.3" x2="372.1" y2="141.3" stroke="#000" stroke-width="1.2"/>
<rect x="363.3" y="143.2" width="9.9" height="25.4" fill="#000" stroke="none" stroke-width="0"/>
<text x="363.6" y="181.1" font-size="7">KO</text>
<line x1="332.6" y1="113.1" x2="332.6" y2="169.3" stroke="#000" stroke-width="1.5"/>
<line x1="328.6" y1="168.6" x2="380.5" y2="168.6" stroke="#000" stroke-width="1.5"/>
<line x1="328.4" y1="121.1" x2="332.6" y2="121.1" stroke="#000" stroke-width="1.3"/>
<text x="326.4" y="123.8" font-size="7.4" text-anchor="end">40</text>
<line x1="328.4" y1="145" x2="332.6" y2="145" stroke="#000" stroke-width="1.3"/>
<text x="326.4" y="147.7" font-size="7.4" text-anchor="end">20</text>
<text x="326.4" y="171.3" font-size="7.4" text-anchor="end">0</text>
<line x1="419.05" y1="127.5" x2="419.05" y2="129.5" stroke="#000" stroke-width="1.2"/>
<line x1="414.9" y1="127.5" x2="423.2" y2="127.5" stroke="#000" stroke-width="1.2"/>
<rect x="414.3" y="130" width="9.5" height="38.3" fill="#fff" stroke="#000" stroke-width="1"/>
<text x="413.6" y="181.1" font-size="7">WT</text>
<line x1="441" y1="137.7" x2="441" y2="139" stroke="#000" stroke-width="1.2"/>
<line x1="437" y1="137.7" x2="445" y2="137.7" stroke="#000" stroke-width="1.2"/>
<rect x="435.9" y="139" width="10.2" height="29.3" fill="#000" stroke="none" stroke-width="0"/>
<text x="436.2" y="181.1" font-size="7">KO</text>
<line x1="404.3" y1="112.7" x2="404.3" y2="169" stroke="#000" stroke-width="1.5"/>
<line x1="400.3" y1="168.3" x2="450.8" y2="168.3" stroke="#000" stroke-width="1.5"/>
<line x1="400.1" y1="115.4" x2="404.3" y2="115.4" stroke="#000" stroke-width="1.3"/>
<text x="398.6" y="118.1" font-size="7.4" text-anchor="end">100</text>
<line x1="400.1" y1="128.5" x2="404.3" y2="128.5" stroke="#000" stroke-width="1.3"/>
<text x="398.6" y="131.2" font-size="7.4" text-anchor="end">75</text>
<line x1="400.1" y1="141.8" x2="404.3" y2="141.8" stroke="#000" stroke-width="1.3"/>
<text x="398.6" y="144.5" font-size="7.4" text-anchor="end">50</text>
<line x1="400.1" y1="155.2" x2="404.3" y2="155.2" stroke="#000" stroke-width="1.3"/>
<text x="398.6" y="157.9" font-size="7.4" text-anchor="end">25</text>
<text x="398.6" y="171" font-size="7.4" text-anchor="end">0</text>
<rect x="484.7" y="117.4" width="9" height="51.4" fill="#fff" stroke="#000" stroke-width="1"/>
<text x="484" y="181.1" font-size="7">WT</text>
<rect x="504.8" y="120.2" width="10.2" height="48.6" fill="#000" stroke="none" stroke-width="0"/>
<text x="506.2" y="181.1" font-size="7">KO</text>
<line x1="473.5" y1="113" x2="473.5" y2="169.5" stroke="#000" stroke-width="1.5"/>
<line x1="469.5" y1="168.8" x2="520.5" y2="168.8" stroke="#000" stroke-width="1.5"/>
<line x1="469.3" y1="116.1" x2="473.5" y2="116.1" stroke="#000" stroke-width="1.3"/>
<text x="467.8" y="118.8" font-size="7.4" text-anchor="end">100</text>
<line x1="469.3" y1="129" x2="473.5" y2="129" stroke="#000" stroke-width="1.3"/>
<text x="467.8" y="131.7" font-size="7.4" text-anchor="end">75</text>
<line x1="469.3" y1="142.7" x2="473.5" y2="142.7" stroke="#000" stroke-width="1.3"/>
<text x="467.8" y="145.4" font-size="7.4" text-anchor="end">50</text>
<line x1="469.3" y1="156.3" x2="473.5" y2="156.3" stroke="#000" stroke-width="1.3"/>
<text x="467.8" y="159" font-size="7.4" text-anchor="end">25</text>
<text x="-0.1" y="213.9" font-size="15.6" font-weight="bold">C</text>
<text x="101.5" y="210.6" font-size="9.9">CD4</text>
<text x="177.2" y="210.6" font-size="9.9">CD8</text>
<text x="37.3" y="255.5" font-size="10.2">WT</text>
<text x="37.5" y="331.8" font-size="10.2">KO</text>
<text x="59.9" y="306.2" font-size="13.2" transform="rotate(-90 59.9 306.2)">7 AAD</text>
<text x="123.1" y="378.3" font-size="13.5">Annexin V</text>
<line x1="65" y1="227.5" x2="65" y2="349.8" stroke="#000" stroke-width="1.4"/>
<path d="M65 221.4L61 228.8L69 228.8Z" fill="#000"/>
<line x1="85" y1="363.9" x2="202" y2="363.9" stroke="#000" stroke-width="1.4"/>
<path d="M208.4 363.9L200.9 360.2L200.9 367.7Z" fill="#000"/>
<defs><radialGradient id="g1"><stop offset="0" stop-color="#000" stop-opacity="0.7"/><stop offset="0.55" stop-color="#000" stop-opacity="0.59"/><stop offset="1" stop-color="#000" stop-opacity="0"/></radialGradient><clipPath id="cg1"><rect x="70.5" y="253.6" width="42.4" height="30.8"/></clipPath></defs>
<ellipse cx="93.5" cy="268.2" rx="21" ry="12" fill="url(#g1)" clip-path="url(#cg1)"/>
<path d="M81.4 270.3h.7M102.5 265.9h.7M80.4 268.1h.7M97.5 273.8h.7M81.4 262.1h.7M99.7 270.7h.7M107.6 273.2h.7M92.0 267.1h.7M85.5 262.8h.7M93.9 269.1h.7M89.7 268.1h.7M95.6 271.8h.7M103.4 269.4h.7M76.0 271.8h.7M79.5 267.6h.7M79.0 268.4h.7M85.6 269.4h.7M101.0 261.9h.7M90.3 271.6h.7M92.1 270.2h.7M94.0 263.5h.7M98.4 264.4h.7M110.8 265.9h.7M99.5 268.4h.7M102.0 265.4h.7M102.5 267.8h.7M105.0 271.5h.7M94.3 264.6h.7M100.3 270.7h.7M108.6 266.6h.7M98.3 270.9h.7M95.7 269.4h.7M94.7 265.5h.7M83.4 266.5h.7M98.6 275.8h.7M102.3 273.6h.7M100.4 271.8h.7M94.7 272.2h.7M109.8 266.8h.7M86.4 278.0h.7M95.3 273.2h.7M101.3 262.8h.7M94.7 272.1h.7M94.2 264.1h.7M91.9 270.2h.7M103.6 271.9h.7M93.6 275.0h.7M85.8 272.3h.7M103.6 267.0h.7M76.0 264.0h.7M95.3 271.0h.7M107.7 263.5h.7M93.0 271.6h.7M100.7 279.7h.7M102.5 263.9h.7M89.1 269.5h.7M94.1 276.0h.7M92.2 277.5h.7M86.5 266.1h.7M99.8 275.4h.7M99.2 269.9h.7M75.7 264.9h.7M87.2 265.8h.7M98.6 266.8h.7M100.5 268.8h.7M89.8 269.0h.7M97.1 272.6h.7M88.5 267.3h.7M80.0 276.3h.7M106.8 267.5h.7M88.5 262.3h.7M94.6 269.4h.7M106.4 269.3h.7M77.7 269.3h.7M103.6 271.2h.7M91.3 257.9h.7M91.8 260.8h.7M98.7 257.9h.7M84.4 274.4h.7M108.6 262.6h.7M78.4 272.7h.7M101.1 263.6h.7M86.4 265.0h.7M81.7 265.1h.7M104.9 271.8h.7M91.7 263.6h.7M91.8 262.0h.7M76.1 271.8h.7M106.7 272.5h.7M105.7 269.6h.7M86.2 268.8h.7M89.4 263.0h.7M76.9 261.1h.7M92.9 269.1h.7M88.5 275.4h.7M94.7 271.3h.7M104.6 264.4h.7M74.3 272.1h.7M86.5 274.8h.7M96.2 273.3h.7M100.3 258.2h.7M99.8 265.1h.7M85.8 266.3h.7M100.3 272.7h.7M102.6 260.3h.7M92.0 271.3h.7M85.7 269.6h.7M95.2 273.3h.7M85.2 264.3h.7M85.7 277.0h.7M103.4 267.8h.7M95.1 269.0h.7M94.9 267.4h.7M89.8 262.2h.7M86.9 276.5h.7M98.1 268.7h.7M91.0 268.7h.7M96.4 265.2h.7M94.9 269.6h.7M85.9 264.5h.7M83.5 263.2h.7M101.5 256.8h.7M90.5 265.4h.7M87.1 268.9h.7M103.7 268.8h.7M91.7 265.4h.7M91.8 272.9h.7M89.3 262.8h.7M81.0 263.0h.7M79.8 273.8h.7M96.4 267.2h.7M106.9 265.2h.7M100.2 272.3h.7M78.3 260.8h.7M84.2 272.8h.7M105.3 262.4h.7M103.0 266.5h.7M89.3 265.7h.7M89.9 259.5h.7M83.5 262.3h.7M97.7 278.6h.7M76.6 266.4h.7M84.1 278.1h.7M98.4 264.8h.7M101.9 271.0h.7M77.6 265.8h.7M90.7 268.5h.7M94.3 266.7h.7M94.8 265.5h.7M84.5 275.8h.7M96.4 270.5h.7M77.8 267.6h.7M100.8 262.1h.7M103.4 266.5h.7M96.8 267.7h.7M95.1 274.3h.7M89.2 276.1h.7M85.6 263.8h.7M99.8 263.2h.7M89.5 272.8h.7M104.5 259.7h.7M97.8 277.6h.7M104.4 267.2h.7M87.3 266.9h.7M82.0 267.1h.7M91.2 267.7h.7M104.2 267.3h.7M79.2 273.5h.7M82.8 266.2h.7M91.7 266.7h.7M83.5 267.2h.7M91.7 273.9h.7M100.1 272.1h.7M101.2 258.8h.7M84.8 269.0h.7M97.7 274.7h.7M97.5 267.2h.7M93.4 267.4h.7M95.3 271.7h.7M89.8 264.4h.7M84.9 273.8h.7M105.2 273.3h.7M101.1 272.5h.7M93.0 271.7h.7M83.0 267.4h.7M86.0 272.0h.7M87.5 267.9h.7M96.8 275.0h.7M85.5 263.8h.7M100.8 263.0h.7M97.3 265.6h.7M92.0 259.5h.7M99.8 265.9h.7M84.5 278.6h.7M96.9 266.7h.7M94.0 276.3h.7M92.7 270.6h.7M97.9 263.9h.7M94.2 265.9h.7M81.2 272.7h.7M99.3 268.8h.7M84.4 258.6h.7M97.6 267.9h.7M77.0 268.1h.7M78.5 268.3h.7M94.4 270.1h.7M95.1 269.2h.7M82.2 266.5h.7M88.1 267.2h.7M95.6 271.4h.7M96.8 267.4h.7M77.3 270.4h.7M88.1 273.3h.7M83.0 267.9h.7M91.8 267.9h.7M87.5 259.4h.7M97.4 273.3h.7M92.4 263.4h.7M94.9 271.2h.7M91.3 268.3h.7M106.4 262.9h.7M87.7 259.1h.7M86.4 264.8h.7M83.9 265.0h.7M110.1 267.4h.7M91.9 279.2h.7M92.4 259.9h.7M96.8 263.8h.7M108.6 262.3h.7M87.5 260.5h.7M93.9 263.4h.7M92.4 266.6h.7M87.2 273.0h.7M101.9 268.7h.7M84.4 263.2h.7M95.6 280.1h.7M88.7 264.6h.7M86.4 263.0h.7M83.8 267.4h.7M106.6 268.4h.7M88.1 260.5h.7M95.0 268.3h.7M81.3 263.1h.7M92.6 273.4h.7M99.0 269.4h.7M89.9 270.0h.7M92.9 279.0h.7M82.2 266.6h.7M105.0 267.1h.7M106.5 268.2h.7M94.4 266.6h.7M79.9 263.6h.7M98.8 273.1h.7M98.4 273.4h.7M90.5 267.3h.7M102.3 266.7h.7M80.4 267.3h.7M87.8 271.4h.7M86.2 263.2h.7M89.8 276.0h.7M92.5 269.2h.7M93.1 269.8h.7M101.8 275.2h.7M77.4 275.1h.7M93.0 266.8h.7M111.5 273.1h.7M83.2 270.8h.7M100.0 267.8h.7M91.2 263.0h.7M110.3 267.2h.7M89.3 266.9h.7M85.6 264.6h.7M93.9 269.9h.7M88.2 268.0h.7M79.8 271.0h.7M85.9 269.5h.7M84.4 265.9h.7M95.0 262.5h.7M92.3 264.8h.7M108.2 275.2h.7M95.8 261.7h.7M88.2 271.4h.7M88.1 262.6h.7M81.7 264.6h.7M93.1 265.2h.7M93.2 282.1h.7M109.8 263.3h.7M96.3 268.8h.7M91.7 273.5h.7M89.8 266.8h.7M89.4 267.9h.7M105.2 272.2h.7M80.3 266.2h.7M85.4 272.4h.7M95.1 272.8h.7M92.4 259.0h.7M97.3 269.5h.7M97.8 262.0h.7M93.8 265.0h.7M86.5 270.1h.7M96.3 264.0h.7M87.5 273.9h.7M92.5 257.4h.7M84.8 270.5h.7M108.9 274.1h.7M96.5 269.4h.7M82.9 266.2h.7M89.8 264.6h.7M93.6 266.5h.7M96.2 275.4h.7M100.0 270.4h.7M90.7 261.0h.7M91.9 271.1h.7M83.4 274.5h.7M89.8 270.2h.7M89.9 262.2h.7M101.7 265.7h.7M95.7 264.5h.7M89.0 272.9h.7M111.5 264.3h.7M93.1 273.0h.7M87.0 271.9h.7M85.5 271.4h.7M97.1 274.3h.7M96.5 262.6h.7M99.3 263.0h.7M100.1 275.8h.7M98.7 265.7h.7M104.3 269.2h.7M81.2 266.7h.7M106.5 266.9h.7M94.2 266.7h.7M77.0 265.9h.7M96.4 269.4h.7M91.3 257.9h.7M104.6 271.9h.7M102.7 274.8h.7M88.8 265.4h.7M96.0 276.6h.7M77.0 267.3h.7M86.2 271.1h.7M106.9 267.0h.7M81.2 268.6h.7M90.3 260.8h.7M101.4 265.8h.7M99.5 262.0h.7M103.4 261.3h.7M103.0 259.5h.7M106.1 266.6h.7M78.2 267.2h.7M96.2 263.5h.7M88.3 269.7h.7M88.9 270.5h.7M95.8 273.3h.7M86.4 280.9h.7M100.6 269.9h.7M103.3 273.1h.7M94.0 265.4h.7M102.7 270.5h.7M75.0 263.0h.7M97.4 268.9h.7M95.7 271.5h.7M94.4 276.2h.7M87.4 266.4h.7M96.1 272.1h.7M100.5 275.7h.7M88.5 274.1h.7M97.4 263.3h.7M91.7 278.6h.7M100.5 266.1h.7M86.3 268.8h.7M96.0 263.8h.7M81.7 267.4h.7M88.6 283.1h.7M89.2 265.4h.7M103.7 268.8h.7M81.3 274.7h.7M90.0 261.9h.7M96.1 270.8h.7M89.8 271.8h.7M100.8 264.1h.7M91.8 274.4h.7M102.5 275.2h.7M110.6 268.5h.7M103.0 260.9h.7M99.5 270.3h.7M92.1 266.2h.7M82.4 269.1h.7M105.1 266.6h.7M98.0 265.1h.7M95.4 263.5h.7M96.6 267.3h.7M96.0 265.4h.7M81.8 266.8h.7M102.8 276.1h.7M89.9 272.3h.7M100.2 270.3h.7M78.3 270.0h.7M83.8 274.2h.7M100.5 271.4h.7M99.6 262.1h.7M102.2 268.8h.7M91.3 264.9h.7M83.3 266.3h.7M95.0 265.2h.7M87.1 265.7h.7M84.6 272.7h.7M90.4 272.6h.7M82.0 273.0h.7M92.7 271.7h.7M92.0 264.0h.7M104.5 266.3h.7M91.6 264.1h.7M94.9 266.5h.7M95.7 270.1h.7M86.5 261.5h.7M97.1 272.9h.7M99.6 262.8h.7M98.7 270.3h.7M95.7 270.5h.7M89.9 269.5h.7M101.8 265.9h.7M79.3 267.9h.7M94.9 259.4h.7M86.6 271.3h.7M91.6 268.9h.7M81.0 272.8h.7M109.7 267.4h.7M86.0 262.7h.7M101.5 268.9h.7M85.5 274.3h.7M100.3 271.4h.7M76.3 267.9h.7M98.9 262.4h.7M101.8 275.4h.7M102.8 264.9h.7M86.3 273.0h.7M102.4 274.4h.7M104.4 267.9h.7M89.1 259.3h.7M100.4 279.6h.7M88.6 266.1h.7M99.2 270.2h.7M80.0 264.9h.7M82.6 278.3h.7M86.2 272.6h.7M111.2 277.7h.7M106.5 276.4h.7M81.3 266.7h.7M86.1 267.0h.7M98.3 262.3h.7M105.7 274.8h.7M88.1 278.5h.7M93.7 274.8h.7M96.0 265.7h.7M89.4 267.8h.7M98.9 269.0h.7M88.6 264.9h.7M85.6 261.3h.7M83.6 272.8h.7M93.6 267.6h.7M96.3 273.6h.7M98.8 272.2h.7M87.7 267.1h.7M85.6 267.9h.7M85.2 266.6h.7M91.3 267.3h.7M90.5 266.0h.7M105.4 266.7h.7M83.4 269.3h.7M82.7 263.1h.7M93.8 260.2h.7M102.8 260.2h.7M84.5 271.2h.7M74.1 264.1h.7M81.6 267.4h.7M74.3 272.8h.7M91.6 269.9h.7M89.9 258.0h.7M91.6 261.8h.7M93.1 264.2h.7M90.0 267.4h.7M100.3 272.2h.7M83.5 268.3h.7M106.9 270.8h.7M86.1 267.8h.7M89.7 273.0h.7M93.3 270.2h.7M83.4 259.9h.7M77.9 272.6h.7M95.8 276.4h.7M74.2 264.1h.7M106.7 273.4h.7M101.4 272.7h.7M93.3 268.3h.7M93.3 272.5h.7M91.5 270.0h.7M106.8 262.9h.7M85.9 271.2h.7M90.5 267.6h.7M89.0 273.8h.7M86.6 269.0h.7M87.0 279.0h.7M98.0 266.4h.7M97.7 264.5h.7M87.3 268.9h.7M97.0 275.0h.7M100.0 277.8h.7M97.3 269.1h.7M91.8 264.2h.7M108.5 262.6h.7M91.8 265.8h.7M85.5 257.5h.7M89.4 269.1h.7M94.4 272.5h.7M91.5 265.3h.7M95.9 271.7h.7M84.4 261.0h.7M83.3 273.6h.7M102.5 264.1h.7M94.1 272.5h.7M105.6 265.2h.7M90.7 275.3h.7M82.2 270.6h.7M90.2 268.1h.7M86.7 266.0h.7M92.9 277.2h.7M99.6 270.5h.7M93.3 264.7h.7M90.8 274.5h.7M100.9 278.0h.7M95.5 268.3h.7M77.6 270.3h.7M76.6 275.9h.7M87.0 268.4h.7M80.2 266.0h.7M84.2 273.9h.7M95.4 262.6h.7M74.7 268.1h.7M88.4 263.0h.7M98.6 267.5h.7M94.1 265.5h.7M87.6 266.1h.7M77.8 271.5h.7M96.8 260.0h.7M94.0 274.1h.7M95.2 274.7h.7M90.5 268.4h.7M80.7 264.0h.7M75.7 264.0h.7M95.3 270.9h.7M104.1 269.0h.7M83.6 270.5h.7M91.6 277.1h.7M111.6 273.1h.7M82.2 265.8h.7M94.8 264.9h.7M98.0 271.8h.7M101.0 269.5h.7M84.6 264.3h.7M91.8 274.9h.7M108.0 273.2h.7M96.4 271.7h.7M100.8 274.7h.7M101.1 260.9h.7M102.1 270.3h.7M88.6 271.0h.7M95.7 268.1h.7M77.0 268.9h.7M98.3 268.2h.7M77.9 270.6h.7M99.8 269.3h.7M97.0 266.7h.7M86.7 271.0h.7M89.6 269.3h.7M94.3 260.5h.7M93.9 272.1h.7M86.3 267.2h.7M71.6 271.1h.7M87.3 271.8h.7M106.0 267.6h.7M102.4 269.6h.7M91.1 267.0h.7M84.9 274.7h.7M101.4 263.5h.7M101.0 264.8h.7M78.7 274.3h.7M80.8 274.2h.7M94.9 272.8h.7M97.9 274.1h.7M96.3 271.2h.7M95.4 273.8h.7M89.3 273.4h.7M107.3 268.1h.7M97.2 265.9h.7M90.3 269.7h.7M89.8 264.1h.7M92.7 269.3h.7M96.1 271.9h.7M76.1 275.3h.7M91.4 264.6h.7M89.5 270.6h.7M101.3 266.6h.7M94.5 260.6h.7M94.6 267.9h.7M88.9 272.7h.7M110.0 273.5h.7M85.6 275.9h.7M89.8 268.2h.7M87.5 270.6h.7M98.3 269.1h.7M91.0 267.7h.7M89.2 273.2h.7M88.1 267.7h.7M91.0 264.7h.7M90.8 261.2h.7M96.9 271.0h.7M90.2 276.0h.7M85.2 271.1h.7M97.5 265.8h.7M90.7 272.8h.7M93.6 269.8h.7M106.2 269.5h.7M77.2 264.8h.7M100.9 267.8h.7M82.8 258.8h.7M96.1 275.7h.7M81.2 257.8h.7M97.7 265.8h.7M90.2 266.8h.7M84.5 270.5h.7M101.7 270.2h.7M87.7 273.5h.7M92.0 271.2h.7M84.2 271.6h.7M100.0 274.7h.7M93.3 270.6h.7M87.6 272.7h.7M100.3 273.7h.7M89.4 262.5h.7M92.4 267.4h.7M86.0 271.3h.7M101.9 270.3h.7M103.5 270.3h.7M83.8 265.6h.7M89.7 271.7h.7M101.7 269.1h.7M102.5 264.4h.7M91.9 275.7h.7M97.2 273.5h.7M75.3 260.3h.7M84.9 273.3h.7M108.3 265.4h.7M83.8 263.5h.7M84.7 271.1h.7M90.1 277.5h.7M99.8 265.1h.7M95.2 267.7h.7M100.4 272.8h.7M89.8 272.7h.7M98.4 268.0h.7M95.4 271.7h.7M90.0 265.2h.7M104.9 268.4h.7M87.5 270.6h.7M79.2 268.7h.7M80.3 266.4h.7M76.4 265.0h.7M101.4 267.5h.7M81.7 276.8h.7M87.2 275.6h.7M88.1 261.4h.7M110.3 266.3h.7M100.1 274.2h.7M80.8 268.8h.7M87.7 271.3h.7M92.9 262.3h.7M93.6 272.1h.7M90.3 271.1h.7M88.1 268.2h.7M96.3 269.1h.7M104.9 273.0h.7M100.9 271.9h.7M94.5 262.8h.7M103.0 276.8h.7M95.2 267.2h.7M92.7 274.2h.7M95.7 263.7h.7M91.5 264.8h.7M91.2 264.1h.7M84.9 275.5h.7M102.8 260.7h.7M84.0 266.3h.7M89.5 261.8h.7M101.3 260.7h.7M99.5 271.8h.7M89.7 265.3h.7M93.6 269.1h.7M73.6 262.4h.7M98.0 267.9h.7M89.2 263.7h.7M86.5 264.8h.7M107.3 270.7h.7M95.1 269.4h.7M89.5 276.1h.7M97.8 268.3h.7M91.9 269.4h.7M82.5 266.9h.7M87.3 271.4h.7M98.7 259.5h.7M91.0 273.2h.7M81.1 262.8h.7M102.4 267.8h.7M88.9 262.6h.7M94.7 265.8h.7M95.1 270.5h.7M99.6 266.9h.7M88.2 268.6h.7M92.2 269.3h.7M88.2 267.3h.7M87.6 265.6h.7M94.5 274.0h.7M88.1 271.2h.7M96.3 269.0h.7M99.4 265.8h.7M98.3 269.9h.7M98.6 277.8h.7M83.2 268.9h.7M96.3 263.8h.7M104.2 270.6h.7M85.7 262.7h.7M89.2 279.8h.7M76.1 271.6h.7M92.1 265.4h.7M98.7 268.9h.7M95.7 269.7h.7M82.9 274.8h.7M88.8 273.9h.7M99.5 268.6h.7M94.4 268.2h.7M75.9 266.9h.7M97.1 260.7h.7M79.2 273.6h.7M100.6 261.0h.7M97.4 268.2h.7M102.2 266.9h.7M91.0 264.8h.7M94.7 267.8h.7M87.0 266.8h.7M86.0 271.4h.7M83.4 260.9h.7M84.1 273.6h.7M88.3 271.5h.7M99.9 266.0h.7M100.1 270.9h.7M92.7 265.0h.7M92.5 262.2h.7M90.5 265.6h.7M97.2 270.1h.7M87.1 272.6h.7M104.2 268.7h.7M86.1 270.9h.7M98.5 278.1h.7M86.1 275.8h.7M94.8 273.3h.7M91.4 265.4h.7M90.9 275.7h.7M100.9 267.0h.7M96.6 272.6h.7M98.4 268.2h.7M86.9 264.8h.7M88.9 265.7h.7M78.2 261.6h.7M101.3 263.0h.7M80.7 268.2h.7M106.6 274.5h.7M89.1 263.4h.7M88.0 264.0h.7M87.9 270.7h.7M83.0 264.6h.7M90.6 268.3h.7M85.8 264.6h.7M82.4 264.8h.7M98.0 267.2h.7M92.4 264.2h.7M77.4 274.1h.7M86.1 268.6h.7M100.4 262.4h.7M109.5 264.9h.7M96.4 262.8h.7M96.5 268.3h.7M103.3 262.8h.7M92.9 277.3h.7M81.7 270.1h.7M97.2 266.0h.7M90.5 275.3h.7M103.8 271.2h.7M95.6 262.9h.7M93.9 277.2h.7M103.0 261.8h.7M73.3 265.2h.7M94.6 265.7h.7M90.1 270.1h.7M101.5 269.4h.7M104.9 261.4h.7M97.5 270.5h.7M78.9 274.5h.7M77.8 261.3h.7M96.6 275.0h.7M103.9 262.9h.7M97.6 275.3h.7M91.5 268.8h.7M88.6 272.0h.7M87.7 265.5h.7M81.3 263.8h.7M95.1 270.7h.7M89.3 263.2h.7M96.2 270.2h.7M105.2 266.0h.7M89.1 270.9h.7M107.6 268.2h.7M92.2 263.8h.7M89.4 273.1h.7M101.1 273.9h.7M77.3 272.5h.7M84.2 271.3h.7M84.6 274.7h.7M94.2 274.8h.7M88.8 278.1h.7M88.8 277.8h.7M88.3 263.6h.7M101.6 266.4h.7M92.5 261.8h.7M89.7 269.0h.7M86.3 270.3h.7M89.1 275.7h.7M89.7 265.2h.7M88.7 269.8h.7M98.7 266.1h.7M85.4 270.5h.7M100.9 259.8h.7M82.9 265.1h.7M109.4 274.5h.7M100.7 270.9h.7M82.3 274.0h.7M88.8 264.5h.7M111.6 261.2h.7M106.3 269.4h.7M84.2 269.3h.7M84.9 269.3h.7M86.8 262.5h.7M102.5 268.2h.7M99.5 262.2h.7M102.7 270.6h.7M81.7 272.6h.7M98.7 282.9h.7M95.3 273.0h.7M98.9 272.2h.7M92.8 266.4h.7M99.9 274.5h.7M81.8 262.8h.7M92.6 277.3h.7M91.0 260.0h.7M100.8 272.2h.7M111.7 269.4h.7M101.7 269.1h.7M81.6 267.0h.7M105.8 274.0h.7M89.4 273.9h.7M101.7 272.9h.7M95.8 269.9h.7M85.1 268.1h.7M94.2 264.8h.7M90.3 269.2h.7M95.1 273.7h.7M83.2 266.5h.7M95.6 266.5h.7M96.2 266.1h.7M104.4 267.3h.7M82.1 272.1h.7M109.1 258.9h.7M91.8 268.8h.7M103.0 275.8h.7M91.5 260.7h.7M99.5 273.4h.7M97.5 268.8h.7M85.2 280.5h.7M81.5 261.0h.7M102.4 269.9h.7M99.5 270.2h.7M109.3 275.5h.7M87.8 273.4h.7M81.8 260.0h.7M104.6 266.3h.7M72.4 268.3h.7M86.7 270.9h.7M92.5 264.6h.7M86.2 272.2h.7M84.1 269.1h.7M83.6 270.7h.7M110.2 271.3h.7M103.8 270.7h.7M83.8 266.9h.7M93.7 270.6h.7M87.3 271.5h.7M86.2 268.8h.7M93.0 262.7h.7M102.7 268.7h.7M94.1 268.3h.7M72.9 261.5h.7M84.5 273.3h.7M87.5 271.4h.7M83.2 264.3h.7M88.6 273.7h.7M77.2 267.6h.7M97.0 269.1h.7M92.9 272.3h.7M95.8 263.5h.7M99.1 264.6h.7M89.8 275.6h.7M97.2 264.6h.7M85.8 276.7h.7M96.2 261.6h.7M108.1 271.3h.7M105.7 270.4h.7M72.4 264.8h.7M91.7 267.6h.7M107.5 265.1h.7M92.1 268.2h.7M92.2 263.3h.7M96.2 267.4h.7M95.0 263.2h.7M93.1 263.6h.7M83.4 270.1h.7M99.2 271.3h.7M92.6 266.5h.7M106.4 274.6h.7M87.0 263.1h.7M96.6 270.0h.7M84.3 279.7h.7M73.0 264.3h.7M95.4 273.3h.7M75.3 266.3h.7M106.8 275.4h.7M90.6 268.6h.7M84.6 270.4h.7M83.0 258.4h.7M78.5 268.7h.7M80.4 273.9h.7M105.3 273.4h.7M99.3 274.0h.7M95.6 272.7h.7M97.5 272.3h.7M83.3 265.2h.7M83.5 272.5h.7M97.9 264.5h.7M83.6 265.6h.7M101.4 267.9h.7M90.8 265.0h.7M91.9 276.3h.7M86.5 266.7h.7M109.3 272.0h.7M82.2 273.8h.7M81.0 271.2h.7M101.8 265.5h.7M86.1 268.7h.7M93.1 266.1h.7M86.6 277.3h.7M107.4 270.1h.7M82.1 265.8h.7M90.3 270.8h.7M108.4 265.9h.7M94.5 266.3h.7M94.4 265.0h.7M96.7 274.2h.7M89.3 266.8h.7M94.2 262.0h.7M110.4 261.8h.7M89.6 264.1h.7M107.4 266.0h.7M88.2 277.8h.7M91.9 264.6h.7M93.0 269.4h.7M85.9 267.5h.7M91.1 272.0h.7M100.4 272.6h.7M91.9 272.4h.7M91.0 274.2h.7M96.9 266.3h.7M104.9 261.0h.7M83.8 264.5h.7M91.8 262.4h.7M81.6 259.1h.7M94.2 264.6h.7M82.1 274.9h.7M94.1 273.8h.7M82.5 274.2h.7M103.6 266.4h.7M84.9 266.6h.7M95.6 280.3h.7M110.4 275.8h.7M91.0 266.8h.7M96.6 267.1h.7M88.6 267.4h.7M101.2 268.1h.7M95.3 267.1h.7M91.2 266.8h.7M105.1 269.6h.7M107.4 267.6h.7M103.2 261.6h.7M89.2 268.1h.7M87.0 267.9h.7M84.2 267.6h.7M86.7 268.4h.7M90.2 263.5h.7M89.2 268.6h.7M80.9 268.9h.7M105.0 267.3h.7M98.3 271.5h.7M85.4 274.9h.7M107.0 259.5h.7M103.9 269.1h.7M80.8 264.4h.7M83.1 264.0h.7M96.7 267.6h.7M97.5 268.9h.7M109.2 259.4h.7M95.4 268.6h.7M100.0 261.8h.7M80.6 267.6h.7M93.8 259.5h.7M96.6 268.4h.7M97.9 264.1h.7M88.5 272.3h.7M109.2 269.2h.7M92.0 274.9h.7M84.5 267.7h.7M88.2 263.6h.7M94.9 278.5h.7M95.4 270.9h.7M92.8 274.0h.7M94.8 264.1h.7M94.0 275.5h.7M92.3 274.3h.7M92.4 278.4h.7M95.8 271.7h.7M90.3 272.6h.7M90.9 261.1h.7M96.0 262.5h.7M107.2 272.3h.7M93.2 271.8h.7M86.9 271.7h.7M89.1 270.1h.7M97.1 260.1h.7M84.2 275.8h.7M87.3 271.2h.7M80.0 263.9h.7M75.7 269.8h.7M104.1 268.9h.7M90.5 269.6h.7M97.5 267.0h.7M98.4 278.1h.7M81.0 277.9h.7M102.5 274.4h.7M98.9 267.3h.7M102.4 274.0h.7M104.3 263.1h.7M102.9 266.7h.7M89.7 270.2h.7M89.8 279.9h.7M98.5 269.8h.7M91.3 269.7h.7M90.9 271.3h.7M101.3 272.6h.7M81.1 266.8h.7M93.9 262.4h.7M96.7 267.7h.7M93.6 270.3h.7M87.1 276.1h.7M103.0 265.7h.7M97.5 272.1h.7M85.8 266.7h.7M80.5 270.1h.7M99.0 263.9h.7M101.3 279.4h.7M95.1 268.2h.7M93.8 263.5h.7M98.4 269.3h.7M100.2 275.5h.7M93.5 269.3h.7M96.2 277.0h.7M79.2 268.4h.7M87.1 269.1h.7M101.1 268.8h.7M100.1 269.4h.7M86.3 265.2h.7M79.9 269.6h.7M89.3 272.6h.7M102.3 264.1h.7M82.7 271.4h.7M84.7 269.5h.7M98.9 266.6h.7M110.1 264.6h.7M97.2 266.4h.7M91.6 271.3h.7M91.8 264.9h.7M88.2 267.0h.7M100.3 267.1h.7M104.9 272.7h.7M86.0 273.5h.7M71.5 268.6h.7M83.8 268.0h.7M104.1 268.5h.7M91.5 274.8h.7M85.8 264.4h.7M102.4 271.5h.7M79.5 269.2h.7M100.6 267.7h.7M89.3 269.1h.7M95.1 265.0h.7M101.1 260.7h.7M92.4 279.0h.7M83.0 268.3h.7M71.4 264.4h.7M82.1 268.8h.7M88.4 277.5h.7M84.3 268.3h.7M95.2 271.6h.7M101.6 260.8h.7M86.3 260.4h.7M88.9 259.7h.7M94.9 265.5h.7M96.2 264.6h.7M93.8 279.4h.7M104.3 269.2h.7M83.7 275.6h.7M76.9 261.5h.7M105.4 265.5h.7M106.0 271.3h.7M98.7 265.3h.7M98.7 275.3h.7M89.5 266.6h.7M92.5 266.7h.7M104.0 262.2h.7M97.3 258.7h.7M72.3 263.5h.7M85.9 264.0h.7M86.4 271.4h.7M98.6 268.8h.7M94.9 265.0h.7M83.7 261.4h.7M89.1 262.9h.7M89.9 272.0h.7M98.3 274.9h.7M84.2 257.6h.7M82.5 278.2h.7M99.7 266.3h.7M105.6 266.4h.7M108.9 266.4h.7M89.2 271.8h.7M82.1 267.6h.7M111.5 270.6h.7M82.5 267.2h.7M92.8 264.7h.7M96.9 274.5h.7M93.5 272.8h.7M95.8 269.1h.7M85.9 273.1h.7M105.9 266.2h.7M84.7 271.0h.7M94.0 273.9h.7M97.7 267.8h.7M79.8 271.4h.7M93.9 262.2h.7M78.8 259.4h.7M98.9 266.3h.7M86.9 267.8h.7M93.3 266.7h.7M100.0 273.4h.7M90.9 276.1h.7M91.8 264.1h.7M94.5 261.4h.7M90.1 263.2h.7M88.9 269.4h.7M95.5 267.3h.7M99.8 270.1h.7M89.5 263.5h.7M99.9 272.1h.7M78.9 264.8h.7M81.7 272.5h.7M87.5 262.2h.7M107.3 270.6h.7M95.2 269.6h.7M91.3 268.5h.7M101.5 270.6h.7M88.6 268.9h.7M110.8 265.7h.7M80.4 268.9h.7M82.1 281.3h.7M98.9 271.3h.7M96.5 278.1h.7M83.2 268.1h.7M77.0 274.5h.7M92.2 277.1h.7M90.3 263.2h.7M86.2 272.3h.7M85.1 269.6h.7M86.0 264.9h.7M87.6 276.4h.7M82.7 269.9h.7M100.6 264.7h.7M78.6 275.8h.7M109.5 267.1h.7M81.5 272.6h.7M92.5 264.3h.7M85.1 262.4h.7M80.3 271.2h.7M95.4 276.7h.7M84.8 274.9h.7M102.8 268.9h.7M93.8 264.6h.7M87.9 266.1h.7M99.9 278.6h.7M104.7 270.8h.7M100.8 260.0h.7M83.2 272.5h.7M89.2 260.3h.7M92.7 262.0h.7M92.9 276.1h.7M82.0 266.1h.7M98.1 268.2h.7M94.6 264.1h.7M91.1 274.7h.7M82.1 267.4h.7M99.6 274.4h.7M104.0 263.9h.7M88.8 277.0h.7M88.3 269.7h.7M84.7 265.0h.7M71.7 263.3h.7M83.4 275.0h.7M100.1 270.3h.7M87.8 261.4h.7M97.4 264.2h.7M91.7 273.0h.7M91.0 268.1h.7M83.2 273.5h.7M97.9 271.8h.7M108.4 260.2h.7M93.0 271.5h.7M96.0 269.8h.7M97.3 260.7h.7M92.0 274.1h.7M92.2 267.3h.7M100.9 259.6h.7M96.6 275.8h.7M90.3 264.2h.7M97.8 266.0h.7M84.9 269.1h.7M76.8 271.6h.7M81.2 265.5h.7M99.7 268.1h.7M95.3 275.1h.7M107.4 278.6h.7M87.5 272.8h.7M76.8 272.3h.7M105.3 264.7h.7M97.2 272.4h.7M91.2 265.1h.7M107.3 261.7h.7M94.3 273.0h.7M95.0 276.1h.7M107.0 270.6h.7M109.8 272.0h.7M80.9 266.7h.7M95.4 269.2h.7M76.4 279.7h.7M77.7 262.7h.7M97.1 269.3h.7M107.6 269.4h.7M96.4 271.9h.7M85.7 261.8h.7M88.3 273.3h.7M90.0 274.5h.7M87.5 272.0h.7M93.1 272.5h.7M92.9 269.3h.7M88.3 274.5h.7M92.5 270.8h.7M99.1 263.9h.7M84.8 268.1h.7M105.1 263.1h.7M83.0 263.4h.7M89.0 263.0h.7M84.9 270.9h.7M82.3 268.3h.7M81.5 267.3h.7M97.8 258.4h.7M93.3 269.4h.7M92.2 269.6h.7M96.8 261.9h.7M91.6 271.5h.7M105.3 261.6h.7M87.1 261.5h.7M92.6 263.0h.7M83.4 272.1h.7M108.6 263.8h.7M99.4 270.1h.7M104.7 267.3h.7M84.9 268.0h.7M100.4 263.9h.7M96.8 268.3h.7M94.6 268.4h.7M98.6 272.3h.7M90.1 266.6h.7M72.2 264.0h.7M78.2 271.7h.7M82.5 264.9h.7M97.9 273.2h.7M104.5 264.1h.7M95.1 273.6h.7M84.7 267.2h.7M81.1 265.1h.7M99.7 268.8h.7M89.3 265.6h.7M107.4 272.1h.7M81.0 279.1h.7M88.9 267.6h.7M88.2 265.5h.7M99.0 261.2h.7M93.2 266.7h.7M109.6 270.3h.7M97.0 270.9h.7M98.6 268.9h.7M89.8 271.8h.7M95.9 265.6h.7M84.3 263.3h.7M95.6 267.8h.7M84.4 266.5h.7M96.2 265.1h.7M91.7 265.3h.7M93.5 272.4h.7M105.4 264.8h.7M98.6 269.7h.7M93.6 272.4h.7M101.3 262.1h.7M107.0 267.5h.7M86.5 264.9h.7M90.7 262.8h.7M103.3 270.5h.7M84.3 272.4h.7M95.2 268.8h.7M102.1 267.9h.7M90.4 270.8h.7M75.4 262.4h.7M97.7 273.6h.7M76.8 268.4h.7M86.6 267.0h.7M98.6 275.7h.7M109.8 273.0h.7M99.0 269.1h.7M75.1 270.3h.7M81.5 262.9h.7M94.1 260.6h.7M109.8 271.3h.7M96.4 270.7h.7M95.2 268.7h.7M99.7 265.0h.7M95.5 269.2h.7M100.3 262.9h.7M95.3 267.7h.7M98.9 271.0h.7M94.7 270.6h.7M97.2 275.1h.7M95.8 271.0h.7M84.0 267.3h.7M100.3 273.5h.7M83.6 268.2h.7M90.3 268.6h.7M88.3 266.3h.7M92.3 269.0h.7M102.6 264.2h.7M83.8 272.2h.7M97.7 267.4h.7M81.9 273.5h.7M82.7 273.9h.7M95.3 267.6h.7M91.3 272.4h.7M93.0 259.8h.7M86.3 257.8h.7M96.7 272.9h.7M102.7 261.7h.7M91.9 258.6h.7M84.6 273.5h.7M75.3 263.6h.7M111.2 268.3h.7M79.5 258.1h.7M99.0 272.3h.7M88.4 267.4h.7M93.7 266.7h.7M87.7 265.5h.7M87.3 274.4h.7M96.7 273.4h.7M110.4 257.1h.7M92.3 273.1h.7M90.9 265.4h.7M96.7 265.8h.7M84.9 266.8h.7M93.4 268.4h.7M101.5 268.5h.7M88.4 283.3h.7M90.7 267.0h.7M91.5 264.9h.7M77.9 269.3h.7M106.8 259.4h.7M85.7 270.4h.7M86.4 270.9h.7M92.4 262.9h.7M90.8 265.8h.7M96.8 274.9h.7M94.3 269.5h.7M87.8 270.0h.7M91.5 262.1h.7M81.6 257.0h.7M97.0 269.2h.7M103.3 269.6h.7M99.5 261.8h.7M75.1 265.5h.7M89.8 270.1h.7M91.6 267.5h.7M93.3 269.6h.7M94.8 269.9h.7M88.1 267.9h.7M78.9 262.9h.7M90.3 270.5h.7M85.7 261.4h.7M102.0 264.3h.7M76.5 263.6h.7M89.2 276.6h.7M85.8 264.3h.7M103.8 268.8h.7M91.9 275.0h.7M81.7 268.1h.7M97.7 269.3h.7M81.7 263.8h.7M109.8 267.9h.7M90.4 273.6h.7M75.9 268.1h.7M76.1 275.2h.7M83.5 268.9h.7M84.1 269.0h.7M95.9 268.4h.7M89.9 269.6h.7M90.6 265.9h.7M98.9 272.5h.7M80.1 263.4h.7M85.5 269.8h.7M79.6 276.0h.7M93.3 269.1h.7M101.2 264.7h.7M96.5 270.4h.7M105.2 263.2h.7M106.1 271.3h.7M95.3 273.6h.7M90.6 267.4h.7M100.9 266.7h.7M103.2 275.1h.7M95.0 269.3h.7M86.8 263.9h.7M106.6 263.3h.7M93.8 269.8h.7M84.5 265.1h.7M86.3 278.8h.7M96.5 275.2h.7M105.5 266.2h.7M86.5 275.5h.7M106.9 263.4h.7M103.9 269.9h.7M100.6 273.1h.7M111.1 265.4h.7M93.1 274.6h.7M90.6 271.1h.7M92.4 260.1h.7M87.9 272.8h.7M87.9 260.9h.7M88.4 269.0h.7M97.8 270.1h.7M98.1 263.3h.7M87.4 264.7h.7M89.0 270.6h.7M105.8 267.3h.7M103.2 273.9h.7M82.3 264.5h.7M94.6 261.7h.7M110.9 259.3h.7M81.6 272.3h.7M86.1 272.0h.7M83.9 273.7h.7M87.7 272.0h.7M102.7 261.2h.7M84.8 260.0h.7M82.7 273.0h.7M92.9 272.7h.7M106.7 273.6h.7M100.1 266.4h.7M89.6 270.1h.7M101.5 273.8h.7M96.1 267.1h.7M92.5 276.7h.7M95.9 278.3h.7M86.5 272.8h.7M95.4 272.3h.7M86.2 270.2h.7M92.7 267.2h.7M82.0 261.6h.7M90.1 271.2h.7M95.8 269.7h.7M96.4 262.0h.7M103.4 268.9h.7M86.2 265.9h.7M102.7 269.5h.7M77.6 278.8h.7M79.3 277.0h.7M101.4 263.7h.7M105.1 274.7h.7M103.2 271.8h.7M96.4 269.6h.7M88.3 269.9h.7M105.5 268.1h.7M93.7 261.3h.7M76.8 269.8h.7M90.3 265.9h.7M83.4 267.5h.7M78.1 267.6h.7M88.4 262.5h.7M97.3 259.5h.7M97.4 269.9h.7M98.4 269.2h.7M100.9 267.3h.7M83.1 270.5h.7M85.9 266.8h.7M94.5 264.1h.7M102.7 261.1h.7M105.0 268.4h.7M109.4 274.0h.7M99.8 270.0h.7M94.5 261.9h.7M88.1 264.0h.7M86.6 268.0h.7M85.9 269.3h.7M91.0 266.3h.7M97.1 270.9h.7M80.7 267.1h.7M97.7 264.3h.7M102.6 276.1h.7M98.9 268.0h.7M93.7 259.4h.7M99.0 267.1h.7M97.1 270.4h.7M95.4 278.8h.7M102.1 265.4h.7M99.2 271.7h.7M93.8 275.5h.7M89.9 260.1h.7M83.3 270.5h.7M84.1 269.3h.7M79.1 270.5h.7M91.0 264.2h.7M88.1 267.3h.7M102.0 269.8h.7M91.5 269.4h.7M101.8 270.9h.7M109.9 265.1h.7M101.1 269.2h.7M87.4 271.5h.7M101.3 273.4h.7M97.9 264.3h.7M95.0 270.5h.7M109.1 269.2h.7M94.8 276.2h.7M94.0 266.4h.7M96.1 272.4h.7M94.8 260.4h.7M89.6 273.5h.7M86.4 272.8h.7M95.0 264.7h.7M100.9 258.2h.7M73.7 261.1h.7M98.4 267.3h.7M99.3 268.2h.7M94.6 266.1h.7M89.7 273.4h.7M100.6 262.1h.7M98.8 278.4h.7M100.5 264.0h.7M100.4 269.7h.7M90.4 273.3h.7M105.0 266.1h.7M94.5 266.7h.7M93.4 276.3h.7M89.3 271.4h.7M95.8 269.0h.7M82.8 271.6h.7M83.1 272.1h.7M92.6 269.3h.7M89.1 264.5h.7M83.8 268.7h.7M92.6 270.0h.7M90.7 272.3h.7M94.7 269.2h.7M91.1 268.5h.7M99.5 265.2h.7M82.1 270.5h.7M97.3 268.7h.7M95.7 262.3h.7M84.3 268.6h.7M93.1 262.6h.7M97.7 259.4h.7M105.0 263.5h.7M88.1 263.6h.7M80.8 267.1h.7M75.7 267.0h.7M95.0 267.2h.7M93.2 261.6h.7M76.1 262.2h.7M103.3 270.1h.7M76.6 276.8h.7M99.2 273.8h.7M102.8 274.9h.7M77.5 268.9h.7M86.1 277.9h.7M99.8 268.6h.7M91.0 258.4h.7M94.3 264.5h.7M106.0 272.2h.7M92.6 266.7h.7M103.7 266.0h.7M103.6 269.6h.7M90.7 270.4h.7M109.7 260.8h.7M100.3 272.1h.7M90.9 275.6h.7M99.6 271.2h.7M83.9 271.4h.7M81.3 271.0h.7M107.9 263.3h.7M94.0 272.0h.7M79.8 270.2h.7M86.1 265.6h.7M101.2 268.2h.7M97.1 268.7h.7M96.9 276.1h.7M94.5 267.2h.7M93.6 272.0h.7M97.6 258.2h.7M92.6 270.7h.7M90.8 263.0h.7M92.7 260.0h.7M85.5 268.2h.7M79.2 267.3h.7M86.9 274.6h.7M108.3 278.8h.7M94.6 271.8h.7M109.3 264.1h.7M103.2 261.0h.7M89.6 267.6h.7M90.9 259.1h.7M94.5 267.2h.7M107.3 271.4h.7M72.9 269.2h.7M103.3 268.1h.7M86.7 261.9h.7M89.8 264.0h.7M90.7 267.0h.7M105.3 263.8h.7M96.4 263.2h.7M95.9 273.6h.7M87.9 262.8h.7M93.6 268.7h.7M87.3 270.6h.7M94.0 271.8h.7M80.4 272.2h.7M105.2 264.6h.7M81.1 263.4h.7M86.3 265.4h.7M91.1 270.0h.7M91.4 267.0h.7M84.2 258.6h.7M86.6 262.6h.7M101.6 256.8h.7M91.4 268.6h.7M82.8 263.8h.7M101.5 263.3h.7M92.4 268.8h.7M99.5 262.4h.7M105.7 267.8h.7M102.8 261.7h.7M103.6 268.1h.7M100.6 265.4h.7M101.4 268.7h.7M75.4 280.7h.7M87.0 270.8h.7M91.4 266.3h.7M89.7 273.0h.7M102.1 273.1h.7M77.9 272.5h.7M79.1 279.8h.7M96.9 274.1h.7M93.2 269.2h.7M86.6 278.3h.7M90.2 273.9h.7M85.6 267.8h.7M89.6 268.0h.7M88.5 271.7h.7M99.5 260.7h.7M89.1 262.1h.7M103.4 262.4h.7M97.7 269.3h.7M92.8 259.0h.7M109.4 267.8h.7M99.7 273.7h.7M83.8 263.7h.7M109.6 278.0h.7M85.5 268.1h.7M102.3 267.8h.7M105.8 271.5h.7M92.6 271.8h.7M88.8 274.7h.7M87.0 275.0h.7M109.4 261.3h.7M92.6 277.5h.7M103.6 271.9h.7M96.9 269.4h.7M97.7 267.6h.7M90.6 262.5h.7M109.9 268.5h.7M111.4 272.2h.7M97.6 263.2h.7M90.9 268.8h.7M92.2 267.1h.7M71.6 266.6h.7M90.9 266.2h.7M90.3 260.9h.7M85.2 275.8h.7M84.4 266.0h.7M85.5 267.8h.7M88.4 278.4h.7M83.4 275.2h.7M88.9 270.8h.7M90.1 267.5h.7M94.6 269.7h.7M82.9 264.0h.7M100.7 267.3h.7M93.7 271.8h.7M94.4 269.3h.7M83.1 268.6h.7M77.2 277.3h.7M86.1 276.9h.7M88.7 267.9h.7M105.8 269.6h.7M95.1 267.3h.7M90.9 265.0h.7M86.1 259.8h.7M92.0 264.8h.7M106.8 279.0h.7M111.6 262.8h.7M90.0 268.0h.7M78.8 276.3h.7M100.3 270.1h.7M90.6 270.0h.7M89.0 271.0h.7M81.0 271.2h.7M90.7 266.6h.7M89.8 268.0h.7M76.9 271.6h.7M91.6 277.5h.7M93.4 273.3h.7M93.2 268.0h.7M81.9 266.4h.7M90.7 265.1h.7M96.4 273.7h.7M90.6 274.5h.7M105.4 272.4h.7M90.4 269.2h.7M109.1 276.3h.7M104.4 260.2h.7M71.9 277.4h.7M100.4 275.3h.7M99.1 267.2h.7M97.9 268.5h.7M107.8 272.8h.7M84.5 265.0h.7M103.2 273.0h.7M96.3 270.4h.7M81.7 264.5h.7M98.6 259.7h.7M98.3 271.6h.7M99.8 272.9h.7M85.8 260.3h.7M72.1 269.2h.7M102.1 260.5h.7M95.3 265.2h.7M91.2 269.8h.7M94.0 262.9h.7M100.8 268.1h.7M75.7 272.5h.7M108.7 266.8h.7M108.9 260.9h.7M91.2 275.1h.7M106.2 271.3h.7M103.8 266.7h.7M100.5 273.4h.7M102.7 270.6h.7M101.7 270.9h.7M99.4 261.1h.7M99.4 264.1h.7M90.0 269.0h.7M96.0 262.2h.7M88.5 269.9h.7M89.7 268.9h.7M95.8 269.8h.7M88.4 269.6h.7M99.1 262.5h.7M101.1 263.8h.7M97.1 271.7h.7M99.7 262.9h.7M84.8 262.9h.7M99.1 269.4h.7M76.4 272.3h.7M104.9 266.1h.7M92.8 269.9h.7M83.9 266.6h.7M98.9 267.0h.7M93.5 269.2h.7M110.0 270.0h.7M96.8 266.4h.7M105.4 269.0h.7M93.3 275.2h.7M106.4 264.1h.7M90.6 275.0h.7M89.1 276.4h.7M92.0 278.3h.7M84.3 259.1h.7M79.7 278.4h.7M86.6 266.5h.7M88.1 265.0h.7M95.0 269.3h.7M87.6 266.1h.7M106.3 273.4h.7M103.0 274.8h.7M91.7 273.0h.7M109.3 264.6h.7M75.3 261.5h.7M84.0 263.9h.7M88.8 272.7h.7M86.5 266.8h.7M81.1 260.8h.7M91.7 265.0h.7M101.9 269.2h.7M76.2 272.2h.7M82.0 266.7h.7M83.5 264.6h.7M87.7 262.8h.7M86.4 267.2h.7M100.3 272.1h.7M110.4 260.6h.7M89.7 274.6h.7M82.6 267.8h.7M100.3 276.2h.7M98.9 270.2h.7M91.9 271.6h.7M94.3 270.3h.7M87.2 268.0h.7M85.0 263.2h.7M85.3 264.4h.7M87.0 265.7h.7M78.9 270.1h.7M96.3 276.2h.7M84.1 264.3h.7M93.9 264.4h.7M86.0 272.1h.7M91.5 260.6h.7M102.3 279.6h.7M104.0 267.8h.7M106.2 268.2h.7M90.0 269.8h.7M105.6 269.1h.7M90.4 261.8h.7M95.1 263.3h.7M92.4 261.7h.7M85.0 263.8h.7M86.9 263.0h.7M105.0 272.4h.7M90.1 263.4h.7M103.7 267.3h.7M98.7 273.5h.7M89.4 270.7h.7M97.5 266.4h.7M91.6 265.5h.7M109.0 273.5h.7M103.8 266.3h.7M80.9 264.6h.7M97.8 276.1h.7M104.1 276.2h.7M73.5 272.1h.7M96.0 261.4h.7M81.9 267.3h.7M110.4 273.4h.7M79.5 271.0h.7M96.5 274.8h.7M77.5 273.3h.7M82.1 267.2h.7M79.4 265.1h.7M98.1 258.4h.7M78.9 268.7h.7M90.4 281.6h.7M71.4 274.6h.7M77.9 273.2h.7M76.0 266.5h.7M73.9 267.8h.7M95.6 270.7h.7M95.7 265.4h.7M99.6 271.3h.7M99.4 271.0h.7M95.6 270.7h.7M84.5 278.0h.7M110.8 268.5h.7M102.4 263.1h.7M108.7 264.9h.7M91.9 277.2h.7M84.3 270.9h.7M105.3 266.8h.7M96.0 278.2h.7M94.8 265.2h.7M85.8 268.9h.7M91.5 275.0h.7M94.0 281.1h.7M103.6 270.3h.7M106.4 270.3h.7M82.3 270.2h.7M108.4 275.6h.7M94.0 271.6h.7M106.1 274.9h.7M94.6 275.7h.7M92.6 262.9h.7M103.7 278.9h.7M110.5 270.2h.7M74.6 273.4h.7M83.2 257.7h.7M93.3 265.3h.7M92.2 267.3h.7M102.5 276.5h.7M98.2 278.7h.7M105.5 267.9h.7M92.9 262.4h.7M85.2 272.6h.7M73.8 257.2h.7M86.3 264.8h.7M78.0 269.5h.7M72.3 278.1h.7M107.0 270.8h.7M83.1 270.2h.7M89.8 265.2h.7M82.3 273.5h.7M78.8 266.2h.7M85.0 263.8h.7M94.7 261.8h.7M103.9 275.5h.7M90.8 276.4h.7M106.2 267.9h.7M90.4 266.4h.7M86.2 267.9h.7M92.3 274.1h.7M104.1 269.0h.7M88.8 268.7h.7M91.5 267.9h.7M93.6 282.6h.7M92.1 265.4h.7M77.4 265.3h.7M93.1 272.9h.7M97.5 278.4h.7M78.2 266.1h.7M79.2 263.7h.7M82.2 264.8h.7M100.4 263.3h.7M102.3 259.9h.7M84.5 262.2h.7M91.1 273.8h.7M85.4 266.0h.7M77.5 264.8h.7M79.4 265.9h.7M91.8 276.4h.7M81.4 256.7h.7M85.9 276.0h.7M77.0 272.9h.7M75.2 261.8h.7M93.8 257.8h.7M76.6 272.9h.7M83.9 265.6h.7M98.0 264.1h.7M75.1 267.5h.7M89.7 271.3h.7M88.2 278.3h.7M98.2 269.4h.7M93.9 265.0h.7M101.7 273.0h.7M110.4 266.6h.7M102.9 258.6h.7M98.2 278.0h.7M102.3 274.3h.7M85.9 280.6h.7M97.8 274.7h.7M108.2 273.8h.7M72.0 264.8h.7M87.9 261.6h.7M97.2 267.4h.7M86.4 279.1h.7M89.1 268.5h.7M105.8 267.8h.7M97.5 281.9h.7M72.0 260.6h.7M80.8 268.8h.7M75.6 271.9h.7M80.0 277.9h.7M97.3 274.8h.7M93.4 271.6h.7M75.1 264.0h.7M75.4 281.5h.7M87.4 266.5h.7M90.1 266.5h.7M80.7 275.0h.7M84.3 276.2h.7M98.5 276.5h.7M111.8 277.4h.7M77.6 279.3h.7M106.9 263.0h.7M107.8 257.5h.7M104.1 267.4h.7M86.6 269.0h.7M82.8 275.2h.7M89.8 269.9h.7M91.1 267.7h.7M76.7 274.3h.7M101.8 262.2h.7M103.4 278.8h.7M92.8 280.2h.7M80.4 272.3h.7M84.9 274.8h.7M96.3 269.5h.7M80.3 280.3h.7M88.2 267.8h.7M99.3 271.9h.7M88.0 274.7h.7M89.4 273.9h.7M107.8 271.9h.7M91.4 266.4h.7M109.8 276.8h.7M97.8 272.3h.7M79.3 270.8h.7M94.6 262.4h.7M77.6 269.5h.7M102.7 275.1h.7M83.1 269.5h.7M78.2 265.8h.7M100.5 279.3h.7M102.3 272.0h.7M109.0 278.2h.7M79.6 271.3h.7M94.3 262.2h.7M87.5 277.3h.7M95.9 270.5h.7M103.7 264.4h.7M107.2 267.3h.7M88.3 267.5h.7M73.3 274.2h.7M73.9 276.0h.7M79.7 279.0h.7M95.2 278.3h.7M75.6 274.2h.7M100.8 272.3h.7M89.2 266.4h.7M73.4 263.3h.7M80.3 275.1h.7M91.1 268.9h.7M80.1 271.6h.7M101.7 264.1h.7M89.0 267.8h.7M73.7 256.9h.7M78.8 265.1h.7M76.6 270.0h.7M95.0 274.7h.7M95.7 262.4h.7M109.8 272.8h.7M100.9 261.6h.7M97.9 278.1h.7M82.8 271.5h.7M90.0 275.0h.7M93.0 272.3h.7M78.3 262.3h.7M77.3 274.1h.7M109.2 266.0h.7M90.3 264.5h.7M111.6 275.3h.7M90.8 261.0h.7M108.1 278.3h.7M102.3 281.7h.7M76.6 263.6h.7M102.9 273.5h.7M90.3 267.1h.7M105.0 272.2h.7M102.9 262.6h.7M91.7 273.4h.7M105.0 259.0h.7M88.1 266.0h.7M91.0 269.5h.7M96.8 275.9h.7M94.6 270.0h.7M103.1 280.1h.7M91.9 265.0h.7M85.6 269.3h.7M89.7 260.4h.7M102.6 260.2h.7M76.2 272.3h.7M74.9 261.1h.7M100.3 266.0h.7M109.7 272.2h.7M91.5 266.3h.7M83.5 264.0h.7M93.4 276.0h.7M76.2 279.2h.7M79.3 268.5h.7M91.6 257.2h.7M92.1 268.0h.7M88.0 278.2h.7M83.4 283.0h.7M91.7 271.6h.7M86.7 271.2h.7M109.8 272.2h.7M77.1 265.2h.7M107.2 274.3h.7M79.2 269.6h.7M92.4 274.5h.7M77.7 271.2h.7M73.0 265.1h.7M87.9 279.9h.7M89.8 282.1h.7M96.4 279.5h.7M88.8 258.0h.7M84.0 274.8h.7M85.9 267.9h.7M93.8 273.3h.7M82.9 264.9h.7M78.5 269.2h.7M89.0 272.6h.7M90.5 271.4h.7M104.6 269.6h.7M93.4 262.9h.7M96.6 269.9h.7M79.9 279.5h.7M96.0 271.8h.7M85.0 269.9h.7M93.8 262.3h.7M95.0 260.8h.7M83.2 268.8h.7M94.6 272.8h.7M80.5 272.9h.7M95.2 269.9h.7M91.4 267.0h.7M94.6 279.7h.7M78.8 266.9h.7M86.5 273.6h.7M86.5 264.1h.7M104.1 273.9h.7M71.4 283.5h.7M84.3 267.3h.7M88.7 270.8h.7M85.7 270.3h.7M101.8 276.9h.7M81.6 269.4h.7M80.5 267.5h.7M89.7 268.3h.7M99.3 264.1h.7M96.4 275.6h.7M86.7 268.2h.7M99.4 267.9h.7M86.4 271.9h.7M94.4 274.5h.7M71.8 267.6h.7M97.1 274.4h.7M82.8 267.3h.7M108.2 261.2h.7M96.9 266.7h.7M84.0 279.3h.7M76.3 264.0h.7M81.3 268.8h.7M91.4 273.4h.7M108.3 273.8h.7M98.6 269.5h.7M110.1 268.4h.7M104.8 270.7h.7M83.3 275.1h.7M100.5 272.6h.7M106.2 271.3h.7M80.9 271.1h.7M76.8 279.8h.7M93.3 264.1h.7M90.2 264.0h.7M97.8 277.0h.7M107.8 277.8h.7M90.8 278.7h.7M97.8 261.7h.7M109.9 264.4h.7M82.9 259.7h.7M79.6 255.9h.7M73.9 264.7h.7M74.5 267.8h.7M102.0 268.4h.7M97.1 278.2h.7M82.6 280.8h.7M90.4 270.2h.7M96.0 279.9h.7M74.2 276.9h.7M84.3 271.1h.7M107.2 275.8h.7M76.4 264.2h.7M74.4 270.2h.7M78.5 259.5h.7M96.4 270.5h.7M93.4 275.4h.7M104.3 256.1h.7M93.4 278.5h.7M108.2 263.3h.7M96.4 269.1h.7M102.4 269.3h.7M73.4 262.8h.7M87.7 276.3h.7M111.5 263.6h.7M97.1 270.0h.7M74.9 262.3h.7M89.8 273.7h.7M96.0 275.3h.7M79.8 267.8h.7M94.5 272.9h.7M80.9 258.7h.7M103.0 276.4h.7M104.1 269.7h.7M94.5 259.2h.7M82.0 277.3h.7M95.6 269.6h.7M108.4 275.4h.7M98.6 269.3h.7M96.9 277.7h.7M95.4 261.8h.7M88.5 268.6h.7M96.8 279.3h.7M90.0 267.5h.7M101.2 273.8h.7M80.2 273.7h.7M93.6 272.9h.7M104.5 277.4h.7M73.1 280.7h.7M75.3 264.9h.7M100.8 276.2h.7M106.4 275.1h.7M94.5 281.2h.7M89.9 271.2h.7M96.6 268.1h.7M89.0 278.9h.7M89.5 267.1h.7M85.7 268.0h.7M84.9 269.9h.7M88.0 278.0h.7M71.4 267.7h.7M102.3 267.7h.7M85.4 274.4h.7M90.0 263.8h.7M93.2 274.9h.7M72.8 272.1h.7M90.5 277.7h.7M90.1 267.6h.7M80.8 272.0h.7M87.8 276.7h.7M96.9 279.2h.7M101.0 271.8h.7M90.2 274.9h.7M101.8 261.3h.7M96.7 268.1h.7M95.6 276.1h.7M105.1 258.5h.7M94.3 270.7h.7M83.3 276.8h.7M104.0 270.8h.7M110.8 280.7h.7M94.0 276.4h.7M103.4 282.6h.7M102.5 275.4h.7M92.9 275.7h.7M89.9 264.0h.7M84.4 266.7h.7M107.7 273.1h.7M88.0 269.2h.7M97.5 259.5h.7M89.4 269.2h.7M101.9 268.2h.7M93.4 261.9h.7M73.9 271.1h.7M96.9 276.3h.7M89.1 272.5h.7M90.3 270.8h.7M86.0 270.8h.7M89.0 282.5h.7M89.3 273.5h.7M74.5 274.6h.7M100.5 275.4h.7M90.2 282.2h.7M82.7 269.3h.7M102.5 257.2h.7M110.8 281.1h.7M103.7 268.8h.7M96.6 259.7h.7M78.3 267.7h.7M81.1 282.4h.7M107.5 274.3h.7M88.3 265.8h.7M95.3 259.6h.7M83.5 277.0h.7M93.4 267.6h.7M87.3 259.7h.7M71.3 259.8h.7M95.9 277.2h.7M86.7 278.4h.7M90.5 267.5h.7M77.4 275.0h.7M83.7 274.2h.7M106.1 274.8h.7M81.1 265.0h.7M93.4 272.4h.7M83.7 261.6h.7M74.4 270.8h.7M100.5 272.2h.7M94.3 264.6h.7M83.7 277.0h.7M84.3 281.8h.7M105.7 275.5h.7M88.2 264.2h.7M89.3 264.0h.7M86.3 268.2h.7M83.6 278.7h.7M79.0 265.5h.7M108.0 272.5h.7M98.4 266.3h.7M96.1 279.9h.7M91.7 273.7h.7M108.5 274.9h.7M108.7 262.4h.7M97.4 266.0h.7M109.7 267.0h.7M82.2 265.8h.7M101.5 273.9h.7M93.4 280.3h.7M79.9 262.3h.7M91.4 270.4h.7M92.8 273.6h.7M96.4 276.5h.7M94.5 264.9h.7M88.7 261.1h.7M89.1 269.1h.7M83.0 274.5h.7M109.7 270.5h.7M85.7 262.9h.7M81.1 265.6h.7M89.2 276.2h.7M94.1 281.2h.7M97.0 272.3h.7M95.1 260.3h.7M90.5 265.7h.7M88.4 270.4h.7M87.4 270.3h.7M96.3 272.9h.7M82.0 277.1h.7M92.1 273.3h.7M97.1 274.1h.7M92.8 269.6h.7M103.0 278.6h.7M97.8 265.4h.7M92.9 258.2h.7M86.6 263.5h.7M88.1 269.8h.7M86.9 262.7h.7M94.5 281.2h.7M92.1 269.9h.7M104.7 267.6h.7M92.3 269.6h.7M85.9 275.9h.7M95.1 280.5h.7M96.8 260.8h.7M96.8 268.7h.7M87.8 277.4h.7M97.1 259.5h.7M98.1 262.8h.7M79.2 258.1h.7M95.0 266.9h.7M94.6 266.3h.7M104.9 261.0h.7M95.2 274.0h.7M80.3 262.3h.7M107.4 283.4h.7M96.7 283.4h.7M97.7 269.3h.7M85.6 262.1h.7M104.1 266.7h.7M82.3 273.2h.7M98.0 265.4h.7M94.1 269.5h.7M93.1 269.6h.7M82.9 278.9h.7M86.6 271.8h.7M99.7 263.6h.7M92.2 268.7h.7M96.3 274.8h.7M92.2 269.1h.7M104.5 271.5h.7M97.5 266.5h.7M90.3 263.9h.7M93.1 260.3h.7M105.3 273.9h.7M77.2 274.1h.7M77.1 275.4h.7M100.9 261.1h.7M93.7 274.1h.7M75.3 279.0h.7M83.1 261.4h.7M98.9 278.7h.7M72.0 275.1h.7M92.4 265.8h.7M83.6 274.4h.7M106.8 268.6h.7M96.6 256.9h.7M83.7 270.4h.7M86.9 272.6h.7M78.6 275.0h.7M82.7 269.6h.7M100.1 280.0h.7M76.7 269.8h.7M76.6 270.8h.7M82.8 262.1h.7M106.6 273.0h.7M91.0 279.8h.7M78.7 264.9h.7M108.2 277.9h.7M95.5 277.0h.7M81.5 267.7h.7M102.5 263.8h.7M93.9 270.2h.7M78.9 271.9h.7M73.0 265.9h.7M78.5 272.9h.7M91.0 261.6h.7M91.8 273.2h.7M106.8 260.3h.7M78.1 265.1h.7M88.9 274.6h.7M96.4 262.2h.7M78.8 266.6h.7M85.2 264.6h.7M90.5 263.2h.7M85.3 262.7h.7M103.4 265.4h.7M74.2 277.7h.7M87.9 267.8h.7M79.7 270.2h.7M85.9 267.1h.7M87.8 275.6h.7M87.6 279.4h.7M104.1 262.9h.7M76.6 261.1h.7M79.5 275.2h.7M85.5 266.6h.7M94.8 268.8h.7M99.6 268.0h.7M104.3 277.6h.7M86.0 274.1h.7M77.5 265.0h.7M74.7 268.6h.7M73.0 262.4h.7M87.0 259.7h.7M98.4 263.5h.7M86.6 267.9h.7M104.4 274.3h.7M86.7 265.9h.7M102.2 269.0h.7M75.3 270.9h.7M99.0 269.8h.7M90.8 280.4h.7M82.7 275.4h.7M73.8 273.8h.7M108.0 277.2h.7M106.8 274.0h.7M101.1 271.4h.7M104.4 269.9h.7M73.0 263.9h.7M86.0 270.9h.7M86.8 265.0h.7M90.5 269.4h.7M78.8 270.7h.7M94.6 272.1h.7M101.1 269.0h.7M80.0 281.9h.7M76.2 265.0h.7M88.2 267.9h.7M79.9 279.7h.7M83.6 271.4h.7M95.9 260.4h.7M88.7 260.5h.7M93.2 276.3h.7M105.7 281.8h.7M76.0 269.1h.7M98.2 266.9h.7M109.3 270.1h.7M106.3 258.8h.7M87.0 275.4h.7M105.0 270.1h.7M105.8 277.1h.7M88.0 275.7h.7M92.2 260.0h.7M107.5 279.3h.7M107.2 263.2h.7M102.6 258.0h.7M91.5 265.0h.7M91.7 267.1h.7M93.5 268.5h.7M101.9 274.4h.7M82.6 262.2h.7M81.0 265.6h.7M88.5 270.3h.7M102.1 282.9h.7M81.9 264.8h.7M92.2 257.2h.7M96.9 258.0h.7M95.3 272.5h.7M86.8 283.2h.7M84.0 257.5h.7M75.8 263.3h.7M101.0 276.5h.7M85.7 280.3h.7M78.0 263.0h.7M94.3 271.1h.7M103.1 265.2h.7M107.6 273.7h.7M99.1 272.2h.7M80.0 271.9h.7M109.2 257.4h.7M84.7 265.1h.7M81.7 277.4h.7M97.4 260.5h.7M99.7 280.2h.7M74.1 257.5h.7M95.6 280.3h.7M93.5 270.4h.7M87.8 272.0h.7M108.0 272.8h.7M101.3 269.3h.7M106.8 277.3h.7M91.8 265.0h.7M83.5 282.8h.7M97.1 258.9h.7M92.3 268.3h.7M95.4 264.5h.7M107.7 269.7h.7M104.6 263.9h.7M107.0 271.4h.7M93.3 268.5h.7M109.2 271.9h.7M92.9 266.6h.7M89.8 264.1h.7M89.3 264.0h.7M74.6 266.6h.7M72.6 274.5h.7M75.3 280.9h.7M84.2 264.2h.7M93.5 264.7h.7M100.4 265.0h.7M108.3 258.1h.7M73.8 280.3h.7M99.0 264.0h.7M97.2 266.5h.7M91.8 264.3h.7M93.1 274.1h.7M105.3 263.8h.7M94.3 272.0h.7M106.5 269.7h.7M106.1 281.4h.7M87.8 267.7h.7M110.3 272.3h.7M92.7 277.5h.7M95.7 270.7h.7M97.8 263.9h.7M86.6 257.2h.7M100.3 278.7h.7M100.9 282.6h.7M101.7 259.8h.7M84.4 281.3h.7M75.8 280.2h.7M103.4 260.9h.7M79.9 276.3h.7M97.6 257.8h.7M92.7 262.0h.7M105.8 271.1h.7M72.0 267.4h.7M71.9 280.9h.7M107.0 276.0h.7M71.6 281.8h.7M82.1 274.2h.7M102.0 271.8h.7M76.1 263.5h.7M100.7 260.3h.7M86.6 281.6h.7M87.9 261.0h.7M97.5 266.2h.7M103.1 266.6h.7M104.7 278.8h.7M78.6 271.4h.7M89.3 260.2h.7M108.0 266.0h.7M96.0 258.6h.7M109.5 282.9h.7M98.9 260.4h.7M98.0 269.4h.7M90.4 262.8h.7M77.6 279.3h.7M95.7 276.7h.7M101.1 267.6h.7M93.5 265.0h.7M97.7 268.4h.7M102.9 264.7h.7M86.8 259.2h.7M73.1 262.7h.7M72.2 268.2h.7M86.7 280.3h.7M73.2 283.0h.7M75.3 278.9h.7M85.8 263.5h.7M95.9 266.4h.7M72.1 260.4h.7M98.7 276.0h.7M111.2 263.7h.7M102.3 266.0h.7M92.1 264.4h.7M88.0 281.1h.7M81.6 268.2h.7M107.8 268.9h.7M104.0 271.1h.7M85.5 276.0h.7M97.6 267.0h.7M111.4 259.4h.7M105.5 276.0h.7M99.9 269.5h.7M101.5 258.2h.7M98.3 279.9h.7M87.8 276.5h.7M99.3 270.2h.7M102.3 269.8h.7M76.3 270.8h.7M101.6 261.3h.7M90.0 279.0h.7M72.0 279.8h.7M85.5 266.6h.7M99.4 272.1h.7M83.0 261.1h.7M88.3 280.5h.7M129.5 232.3h.7M118.0 228.2h.7M123.6 231.6h.7M127.3 237.1h.7M127.4 233.0h.7M110.7 236.3h.7M118.0 231.0h.7M126.5 233.8h.7M115.0 231.4h.7M119.1 232.0h.7M114.2 236.9h.7M119.9 234.4h.7M126.4 238.9h.7M124.6 230.3h.7M118.3 235.0h.7M129.7 228.1h.7M131.2 230.8h.7M119.6 231.1h.7M123.9 231.9h.7M120.5 229.7h.7M128.6 233.5h.7M120.4 238.8h.7M124.2 236.5h.7M119.2 232.9h.7M119.9 235.0h.7M122.3 227.4h.7M123.8 231.8h.7M122.1 235.3h.7M119.2 234.3h.7M120.8 232.2h.7M117.9 232.1h.7M119.0 234.8h.7M108.2 234.2h.7M120.3 229.3h.7M125.0 232.4h.7M123.8 236.4h.7M121.9 227.7h.7M112.0 232.3h.7M114.1 238.8h.7M120.2 227.1h.7M108.9 230.8h.7M107.5 233.9h.7M108.1 235.1h.7M118.1 235.8h.7M114.3 231.1h.7M126.7 227.7h.7M124.4 236.8h.7M115.3 232.0h.7M129.8 236.9h.7M129.6 232.2h.7M118.7 232.0h.7M118.7 234.9h.7M125.4 234.0h.7M117.0 234.8h.7M123.5 233.2h.7M127.5 231.4h.7M121.4 235.8h.7M116.7 235.1h.7M124.8 236.9h.7M127.9 230.8h.7M130.6 231.1h.7M114.3 231.7h.7M118.9 229.8h.7M126.2 234.0h.7M124.2 228.4h.7M130.8 233.9h.7M127.2 233.6h.7M122.8 234.8h.7M121.7 236.6h.7M118.0 226.5h.7M118.9 232.5h.7M123.1 232.8h.7M123.2 233.8h.7M119.9 234.1h.7M123.9 230.2h.7M111.2 233.2h.7M123.5 235.7h.7M126.9 233.4h.7M127.2 230.8h.7M118.3 236.5h.7M114.3 232.5h.7M115.1 228.9h.7M132.5 227.3h.7M130.5 231.2h.7M116.8 227.6h.7M122.1 234.4h.7M124.0 229.8h.7M129.8 233.1h.7M123.7 234.3h.7M123.9 231.6h.7M122.8 230.4h.7M122.3 229.7h.7M113.1 230.8h.7M120.0 230.5h.7M119.2 230.9h.7M100.9 251.7h.7M109.5 244.2h.7M116.0 244.4h.7M106.8 244.2h.7M117.2 235.8h.7M95.9 237.0h.7M99.4 241.0h.7M93.2 233.6h.7M103.9 241.2h.7M98.6 224.7h.7M96.4 244.1h.7M96.7 247.6h.7M92.3 235.1h.7M112.8 246.8h.7M95.6 249.4h.7M103.3 240.4h.7M128.6 244.1h.7M96.9 236.6h.7M86.0 246.4h.7M119.5 237.3h.7M90.8 234.5h.7M120.0 236.1h.7M118.3 247.4h.7M123.8 239.3h.7M111.6 226.6h.7M105.8 237.4h.7M115.0 222.6h.7M103.0 233.3h.7M102.0 236.1h.7M95.1 242.2h.7M104.7 246.7h.7M139.8 243.3h.7M106.0 249.5h.7M82.6 233.3h.7M101.3 226.1h.7M90.6 238.6h.7M106.9 225.6h.7M74.3 240.1h.7M107.8 243.9h.7M91.6 232.2h.7M84.4 226.3h.7M96.3 251.5h.7M111.4 229.8h.7M78.6 232.0h.7M100.0 239.6h.7M108.1 246.4h.7M79.4 224.3h.7M98.9 242.1h.7M91.6 239.5h.7M99.0 246.8h.7M97.0 233.3h.7M108.3 245.5h.7M90.1 236.3h.7M89.0 227.7h.7M138.6 232.1h.7M95.2 234.4h.7M87.4 236.1h.7M98.9 240.3h.7M91.5 225.4h.7M98.2 243.1h.7M120.3 236.5h.7M96.1 231.0h.7M123.8 232.2h.7M92.2 236.8h.7M96.7 237.7h.7M106.9 251.4h.7M108.3 240.7h.7M108.5 244.6h.7M95.2 236.5h.7M94.4 235.7h.7M94.0 243.8h.7M117.2 236.8h.7M95.7 244.2h.7M97.1 241.8h.7M90.1 248.9h.7M93.1 241.9h.7M127.3 240.6h.7M96.2 243.4h.7M124.4 218.7h.7M94.2 236.0h.7M114.0 224.6h.7M113.1 237.8h.7M109.3 228.7h.7M102.4 242.2h.7M99.1 235.4h.7M111.0 237.8h.7M79.4 218.5h.7M117.8 245.4h.7M98.2 235.1h.7M111.4 232.8h.7M80.0 247.7h.7M78.4 233.8h.7M120.9 241.2h.7M117.6 249.8h.7M103.5 224.8h.7M73.2 218.6h.7M112.1 225.2h.7M98.4 238.0h.7M105.8 237.0h.7M120.7 240.1h.7M117.3 236.6h.7M100.8 238.6h.7M108.0 243.8h.7M92.6 242.5h.7M110.5 236.2h.7M96.9 232.2h.7M81.7 239.4h.7M88.8 250.6h.7M105.5 252.0h.7M102.3 225.1h.7M107.2 239.0h.7M101.6 249.6h.7M101.6 219.9h.7M107.1 241.3h.7M122.7 242.0h.7M84.4 247.2h.7M111.6 247.4h.7M97.6 246.0h.7M110.1 250.9h.7M109.5 238.6h.7M97.8 233.7h.7M118.1 222.0h.7M104.8 250.1h.7M73.8 218.1h.7M84.7 237.2h.7M109.1 232.4h.7M113.0 232.8h.7M74.6 245.9h.7M100.4 231.6h.7M83.4 243.4h.7M85.8 225.7h.7M87.9 242.3h.7M109.9 247.7h.7M86.4 250.1h.7M126.0 240.9h.7M117.2 251.5h.7M106.6 229.8h.7M108.9 240.4h.7M101.2 235.2h.7M120.4 237.6h.7M80.5 240.0h.7M116.5 223.4h.7M82.6 239.4h.7M106.9 242.1h.7M105.1 243.4h.7M88.1 235.2h.7M99.1 241.1h.7M131.9 244.9h.7M83.7 240.5h.7M127.9 238.2h.7M112.7 238.9h.7M82.4 237.8h.7M94.1 226.4h.7M98.2 234.0h.7M96.6 243.6h.7M83.4 238.0h.7M106.5 239.8h.7M105.0 238.1h.7M75.2 219.5h.7M91.2 233.9h.7M85.7 230.6h.7M94.0 252.0h.7M98.9 244.2h.7M111.4 238.8h.7M116.2 232.5h.7M97.6 227.2h.7M98.6 244.9h.7M86.3 236.6h.7M96.4 236.8h.7M94.0 239.7h.7M80.5 238.4h.7M127.5 227.8h.7M113.6 231.3h.7M111.5 242.7h.7M127.1 242.9h.7M111.9 251.9h.7M93.5 226.9h.7M72.8 242.3h.7M113.7 233.3h.7M83.5 234.8h.7M125.6 227.3h.7M87.6 241.8h.7M90.3 248.5h.7M88.7 226.8h.7M76.3 235.3h.7M118.2 237.4h.7M91.0 224.1h.7M104.5 231.4h.7M137.8 227.0h.7M78.4 226.2h.7M79.3 224.6h.7M80.1 236.3h.7M106.8 230.1h.7M108.4 246.3h.7M73.3 219.3h.7M110.9 235.1h.7M102.3 247.3h.7M83.5 218.8h.7M105.7 249.7h.7M87.3 240.6h.7M72.0 250.0h.7M95.6 251.3h.7M98.7 230.4h.7M78.6 235.6h.7M105.6 236.3h.7M92.8 225.7h.7M77.3 226.3h.7M83.5 234.2h.7M108.7 227.5h.7M80.5 243.3h.7M108.5 226.2h.7M83.3 232.3h.7M73.9 221.4h.7M93.3 226.6h.7M80.7 245.4h.7M90.5 237.3h.7M97.4 243.3h.7M107.9 251.0h.7M75.9 243.3h.7M72.5 222.3h.7M81.6 222.7h.7M77.5 226.2h.7M103.6 244.8h.7M91.3 236.8h.7M101.0 238.2h.7M74.5 233.8h.7M79.5 234.2h.7M110.1 224.9h.7M84.2 237.9h.7M97.5 228.6h.7M114.3 266.3h.7M118.5 261.2h.7M120.9 257.1h.7M120.5 259.0h.7M117.1 260.9h.7M118.4 270.6h.7M115.5 268.4h.7M122.0 261.2h.7M115.3 255.2h.7M117.4 279.5h.7M116.9 262.9h.7M114.3 264.8h.7M118.5 268.1h.7M125.0 268.3h.7M114.6 261.4h.7M120.3 270.0h.7M123.9 260.6h.7M120.3 263.3h.7M122.7 262.1h.7M121.5 256.0h.7M115.2 255.6h.7M117.0 254.5h.7M118.1 258.7h.7M121.6 265.2h.7M118.8 260.7h.7M114.4 255.8h.7M115.0 258.7h.7M118.8 254.8h.7M117.5 262.2h.7M118.6 263.7h.7M116.1 261.9h.7M114.9 267.3h.7M117.3 265.2h.7M115.9 260.6h.7M119.2 266.0h.7M118.0 266.4h.7M122.0 260.5h.7M116.1 258.2h.7M124.8 260.6h.7M126.7 262.3h.7M116.0 258.5h.7M114.6 262.8h.7M118.0 256.0h.7M123.8 268.5h.7M116.4 265.2h.7" stroke="#000" stroke-width="0.7" stroke-opacity="0.66" fill="none"/>
<rect x="70.5" y="217.3" width="75.3" height="67.1" fill="none" stroke="#111" stroke-width="1.1"/>
<line x1="112.9" y1="217.3" x2="112.9" y2="284.4" stroke="#111" stroke-width="1"/>
<line x1="70.5" y1="253.2" x2="145.8" y2="253.2" stroke="#111" stroke-width="1"/>
<text x="114.4" y="252.8" font-size="13.6" textLength="29.6" lengthAdjust="spacingAndGlyphs">3.3%</text>
<defs><radialGradient id="g2"><stop offset="0" stop-color="#000" stop-opacity="0.3"/><stop offset="0.55" stop-color="#000" stop-opacity="0.26"/><stop offset="1" stop-color="#000" stop-opacity="0"/></radialGradient><clipPath id="cg2"><rect x="150.5" y="253.2" width="29" height="31.2"/></clipPath></defs>
<ellipse cx="161" cy="269.5" rx="15" ry="11" fill="url(#g2)" clip-path="url(#cg2)"/>
<path d="M159.4 266.7h.7M168.8 269.9h.7M159.4 280.0h.7M157.7 262.2h.7M166.5 274.4h.7M170.2 280.2h.7M174.6 273.4h.7M171.8 273.5h.7M157.5 274.5h.7M162.3 268.6h.7M177.2 274.3h.7M158.2 269.4h.7M167.6 273.5h.7M165.8 273.3h.7M158.2 267.1h.7M160.7 267.7h.7M168.1 278.9h.7M155.1 273.0h.7M154.4 265.8h.7M160.1 270.5h.7M172.6 268.2h.7M157.0 273.8h.7M157.3 261.4h.7M165.7 272.3h.7M155.6 274.8h.7M164.8 263.2h.7M175.4 271.4h.7M153.2 272.5h.7M162.9 275.5h.7M151.5 275.9h.7M169.2 273.9h.7M166.6 277.6h.7M167.5 270.6h.7M155.5 276.4h.7M169.5 271.6h.7M163.1 274.1h.7M170.0 280.9h.7M158.3 272.3h.7M167.5 269.7h.7M162.4 264.2h.7M161.6 270.3h.7M171.7 271.5h.7M159.8 269.5h.7M155.6 278.7h.7M166.8 262.3h.7M162.7 276.5h.7M160.0 283.5h.7M165.1 267.4h.7M157.5 280.9h.7M158.3 283.2h.7M160.0 265.6h.7M160.2 273.8h.7M156.7 261.3h.7M172.2 278.4h.7M156.5 271.6h.7M151.6 266.5h.7M178.5 262.3h.7M162.0 263.5h.7M163.9 262.1h.7M157.3 274.1h.7M160.6 262.1h.7M173.4 270.5h.7M172.7 263.6h.7M174.9 261.8h.7M159.0 271.3h.7M157.5 273.5h.7M172.1 265.9h.7M168.2 274.6h.7M159.2 264.0h.7M161.7 275.4h.7M156.3 277.4h.7M163.6 271.5h.7M157.0 277.8h.7M162.2 261.0h.7M168.1 267.3h.7M170.1 270.7h.7M157.0 270.8h.7M158.1 264.9h.7M162.0 274.7h.7M162.4 269.3h.7M157.6 273.1h.7M163.9 275.4h.7M164.7 282.3h.7M165.9 275.0h.7M161.5 275.9h.7M170.3 260.8h.7M162.8 276.6h.7M162.0 263.7h.7M156.3 261.9h.7M171.0 268.2h.7M158.5 264.6h.7M160.8 264.4h.7M154.3 269.5h.7M160.1 272.4h.7M163.0 276.7h.7M161.5 271.3h.7M163.6 265.0h.7M171.0 266.4h.7M166.8 266.4h.7M169.2 275.4h.7M167.2 262.9h.7M163.2 263.7h.7M157.1 266.4h.7M155.3 272.6h.7M155.8 273.4h.7M163.1 266.2h.7M163.1 273.8h.7M170.6 268.2h.7M175.1 273.1h.7M171.4 261.8h.7M153.7 276.8h.7M160.1 272.5h.7M171.0 261.3h.7M165.3 281.1h.7M167.9 270.3h.7M166.1 269.8h.7M167.8 277.4h.7M160.1 273.1h.7M164.1 274.1h.7M168.2 263.5h.7M170.7 274.8h.7M153.4 268.1h.7M164.3 263.0h.7M155.9 264.6h.7M156.5 265.2h.7M153.6 273.1h.7M160.2 264.9h.7M169.4 266.4h.7M168.7 262.5h.7M172.6 267.1h.7M154.5 272.1h.7M151.6 263.4h.7M163.6 266.9h.7M164.9 270.6h.7M163.7 270.5h.7M167.3 269.7h.7M170.3 275.3h.7M173.7 267.1h.7M163.2 269.1h.7M163.9 282.6h.7M156.4 270.1h.7M161.8 263.4h.7M155.1 268.1h.7M161.7 272.0h.7M174.4 268.7h.7M168.1 267.3h.7M156.4 282.1h.7M152.4 264.4h.7M167.0 269.8h.7M167.4 260.8h.7M157.5 274.3h.7M156.5 269.9h.7M154.8 264.4h.7M157.9 272.7h.7M153.6 274.8h.7M168.1 274.7h.7M173.5 266.7h.7M161.4 275.5h.7M171.4 275.2h.7M158.3 266.9h.7M151.7 267.2h.7M154.9 266.9h.7M158.9 274.6h.7M168.3 269.4h.7M153.1 269.4h.7M165.1 274.7h.7M163.4 274.4h.7M156.8 273.5h.7M167.4 267.6h.7M156.0 276.9h.7M154.2 273.7h.7M159.7 267.7h.7M159.8 267.1h.7M161.5 280.1h.7M172.9 268.9h.7M165.4 275.0h.7M158.5 280.4h.7M162.0 273.3h.7M154.5 263.2h.7M154.2 266.0h.7M169.6 267.9h.7M168.5 267.3h.7M154.5 270.7h.7M158.7 260.1h.7M162.1 276.6h.7M160.2 262.7h.7M156.0 262.7h.7M159.9 264.2h.7M160.9 270.7h.7M171.9 263.0h.7M165.1 267.6h.7M165.6 264.3h.7M159.2 273.6h.7M159.4 270.5h.7M165.1 270.4h.7M159.9 272.7h.7M171.8 277.1h.7M155.1 274.1h.7M164.8 272.8h.7M172.2 259.7h.7M170.0 266.5h.7M158.2 272.3h.7M172.5 264.2h.7M160.9 276.6h.7M164.5 268.0h.7M157.9 267.0h.7M169.1 260.1h.7M156.5 264.6h.7M170.3 270.4h.7M156.6 274.0h.7M176.6 275.6h.7M151.8 268.5h.7M170.4 259.2h.7M152.4 267.3h.7M165.7 264.9h.7M162.9 268.7h.7M164.2 262.7h.7M163.0 275.3h.7M165.4 260.4h.7M154.7 259.0h.7M157.3 265.0h.7M160.8 271.8h.7M163.1 270.7h.7M165.6 269.0h.7M158.2 267.6h.7M170.7 268.0h.7M167.8 279.2h.7M174.9 257.2h.7M162.8 275.3h.7M158.2 265.5h.7M161.6 258.7h.7M161.5 264.7h.7M161.8 263.3h.7M162.3 270.5h.7M156.4 265.7h.7M168.8 273.2h.7M155.7 272.1h.7M152.9 266.6h.7M166.8 266.7h.7M166.1 265.9h.7M163.9 268.7h.7M154.2 281.7h.7M155.2 261.8h.7M162.6 272.3h.7M164.2 269.0h.7M165.1 275.0h.7M166.3 261.6h.7M174.7 269.4h.7M160.5 271.2h.7M176.7 266.5h.7M156.9 263.9h.7M163.0 273.4h.7M164.6 270.6h.7M169.8 266.6h.7M157.6 263.7h.7M163.4 260.5h.7M176.1 268.4h.7M157.1 262.5h.7M165.7 275.2h.7M157.3 270.6h.7M163.8 275.2h.7M166.3 276.7h.7M157.8 263.1h.7M154.6 271.8h.7M170.9 265.2h.7M159.0 266.9h.7M157.1 268.6h.7M157.0 276.4h.7M164.2 273.2h.7M160.4 262.9h.7M164.9 267.3h.7M176.7 276.7h.7M152.4 263.9h.7M157.5 268.4h.7M170.3 268.6h.7M165.1 267.7h.7M160.0 276.7h.7M161.7 281.0h.7M161.3 271.8h.7M164.6 273.4h.7M176.3 265.7h.7M157.6 264.1h.7M175.4 272.3h.7M165.1 272.3h.7M162.6 271.4h.7M162.3 269.1h.7M161.1 266.3h.7M159.9 273.3h.7M166.5 263.4h.7M165.5 271.4h.7M157.7 279.4h.7M163.0 268.8h.7M151.8 282.2h.7M163.3 271.4h.7M159.9 281.6h.7M160.5 278.7h.7M169.7 275.3h.7M166.5 276.3h.7M160.8 257.6h.7M166.3 272.4h.7M156.2 258.1h.7M160.9 279.4h.7M160.8 269.6h.7M162.3 269.9h.7M163.9 282.9h.7M155.0 259.1h.7M168.1 266.6h.7M157.8 261.5h.7M160.3 267.1h.7M164.9 267.3h.7M161.0 258.7h.7M159.1 274.0h.7M161.2 267.7h.7M166.1 265.9h.7M156.4 272.6h.7M160.4 266.0h.7M163.4 271.1h.7M168.7 275.4h.7M162.3 269.5h.7M154.6 270.8h.7M158.9 274.4h.7M167.7 273.3h.7M161.2 271.5h.7M173.0 279.5h.7M166.4 260.8h.7M162.0 272.3h.7M173.0 268.6h.7M160.8 266.3h.7M163.9 262.6h.7M165.9 271.6h.7M171.9 267.9h.7M164.1 270.8h.7M161.5 264.1h.7M157.4 269.9h.7M165.4 275.6h.7M157.1 271.1h.7M166.3 274.6h.7M163.6 270.9h.7M159.1 269.8h.7M160.2 259.6h.7M165.5 274.7h.7M159.0 270.6h.7M162.9 268.2h.7M172.8 268.6h.7M164.2 269.3h.7M176.9 260.2h.7M163.3 262.0h.7M156.3 264.2h.7M167.5 263.4h.7M154.1 267.8h.7M154.5 263.9h.7M173.7 265.8h.7M155.7 277.6h.7M162.4 276.1h.7M165.3 270.9h.7M165.8 276.9h.7M166.2 276.0h.7M167.4 265.4h.7M163.2 277.2h.7M154.6 272.8h.7M166.5 277.4h.7M178.8 271.3h.7M176.3 278.1h.7M162.9 265.2h.7M159.4 262.2h.7M151.3 271.9h.7M161.2 268.9h.7M153.9 262.5h.7M167.8 264.2h.7M157.4 268.7h.7M166.9 281.1h.7M176.6 274.2h.7M166.8 273.5h.7M160.2 268.5h.7M158.0 271.9h.7M178.7 274.7h.7M170.5 274.8h.7M157.5 265.9h.7M163.0 273.7h.7M166.1 267.7h.7M153.2 270.0h.7M164.1 258.2h.7M162.4 261.4h.7M158.3 268.9h.7M154.3 266.7h.7M161.8 263.9h.7M166.9 273.5h.7M165.8 263.6h.7M160.2 267.8h.7M162.6 274.0h.7M157.7 269.8h.7M167.9 267.8h.7M167.1 269.5h.7M162.8 267.2h.7M176.2 267.4h.7M160.0 272.6h.7M167.9 265.5h.7M154.6 265.6h.7M160.2 267.0h.7M161.6 265.9h.7M152.6 265.1h.7M167.6 263.0h.7M167.6 279.1h.7M154.6 274.8h.7M168.1 273.4h.7M155.7 279.8h.7M163.6 263.7h.7M162.5 260.8h.7M166.2 272.8h.7M170.9 277.8h.7M156.4 272.5h.7M168.9 276.4h.7M163.3 279.7h.7M161.2 259.6h.7M158.1 268.0h.7M163.7 267.2h.7M160.5 276.1h.7M156.6 262.0h.7M158.0 274.9h.7M171.1 263.9h.7M166.8 277.3h.7M167.7 263.2h.7M166.2 266.7h.7M157.8 280.8h.7M161.3 272.5h.7M170.9 279.1h.7M163.7 266.0h.7M161.2 265.7h.7M160.7 268.9h.7M167.7 273.8h.7M163.0 264.0h.7M161.1 261.7h.7M165.9 260.6h.7M156.7 279.6h.7M164.8 263.9h.7M160.0 263.6h.7M155.5 267.1h.7M155.2 270.7h.7M169.8 264.6h.7M154.5 264.9h.7M156.9 270.3h.7M156.5 264.5h.7M156.4 275.3h.7M169.0 275.6h.7M163.0 264.1h.7M172.0 282.4h.7M156.6 266.0h.7M169.9 273.6h.7M164.6 281.7h.7M160.2 264.9h.7M158.8 270.9h.7M163.0 276.8h.7M167.4 265.4h.7M167.2 268.5h.7M173.1 276.2h.7M157.1 272.8h.7M151.7 272.2h.7M162.2 272.2h.7M152.4 264.6h.7M157.3 268.2h.7M166.7 264.8h.7M167.4 274.6h.7M151.9 273.3h.7M162.4 273.8h.7M162.9 276.8h.7M156.1 282.1h.7M169.9 262.7h.7M165.2 268.7h.7M162.7 257.0h.7M155.7 272.5h.7M177.4 271.9h.7M161.8 270.2h.7M169.3 273.2h.7M154.7 258.0h.7M159.7 267.2h.7M175.4 264.5h.7M167.2 257.8h.7M167.4 261.9h.7M161.7 268.3h.7M162.2 269.5h.7M152.7 272.9h.7M154.6 269.2h.7M154.9 269.2h.7M160.5 268.3h.7M155.3 276.5h.7M160.0 269.8h.7M151.7 261.9h.7M177.7 268.6h.7M167.6 266.5h.7M153.0 279.9h.7M166.2 262.6h.7M160.4 269.2h.7M159.0 268.8h.7M156.2 268.8h.7M158.0 267.4h.7M155.4 278.3h.7M157.9 268.0h.7M163.1 269.4h.7M151.9 265.4h.7M164.3 268.0h.7M155.7 269.3h.7M154.6 265.7h.7M152.1 261.9h.7M153.5 269.4h.7M157.2 268.3h.7M168.0 266.5h.7M159.1 262.6h.7M160.7 268.9h.7M152.5 278.0h.7M160.7 257.4h.7M158.6 277.7h.7M155.1 267.5h.7M160.5 271.9h.7M164.6 265.5h.7M158.2 273.2h.7M153.2 267.1h.7M163.6 267.7h.7M153.5 278.7h.7M162.3 267.5h.7M168.1 268.8h.7M161.2 264.3h.7M176.4 274.4h.7M178.2 282.3h.7M161.4 265.9h.7M166.1 270.0h.7M158.6 267.8h.7M168.2 272.0h.7M167.6 271.1h.7M157.8 266.5h.7M163.0 265.1h.7M156.4 273.9h.7M162.9 268.0h.7M162.8 267.1h.7M171.0 268.1h.7M161.5 262.5h.7M155.9 261.7h.7M164.5 272.5h.7M166.0 267.3h.7M161.6 271.4h.7M158.4 259.6h.7M176.2 272.2h.7M168.2 274.0h.7M155.7 269.1h.7M157.5 275.5h.7M162.7 265.2h.7M161.2 272.2h.7M177.3 264.0h.7M163.6 276.4h.7M166.2 265.8h.7M161.1 270.0h.7M168.6 275.3h.7M155.8 271.1h.7M158.2 271.5h.7M165.5 276.5h.7M173.2 269.4h.7M157.0 277.1h.7M164.3 271.3h.7M165.8 261.0h.7M154.6 264.3h.7M152.9 278.4h.7M160.8 264.3h.7M164.3 264.6h.7M171.6 267.1h.7M162.9 272.8h.7M164.7 265.1h.7M167.6 275.6h.7M165.4 275.8h.7M166.0 268.5h.7M155.7 273.2h.7M164.4 271.9h.7M157.7 276.2h.7M168.5 275.7h.7M157.0 273.0h.7M168.9 261.8h.7M156.0 271.0h.7M162.2 261.0h.7M166.0 269.5h.7M171.1 269.3h.7M157.8 269.3h.7M164.7 258.9h.7M159.3 273.8h.7M167.3 271.7h.7M153.3 269.0h.7M164.9 269.6h.7M162.8 280.4h.7M176.3 267.0h.7M154.3 269.7h.7M171.6 263.6h.7M154.3 262.3h.7M170.1 266.8h.7M161.1 278.9h.7M166.4 267.7h.7M151.9 276.0h.7M162.3 267.7h.7M163.5 265.4h.7M163.2 270.8h.7M153.4 271.0h.7M166.2 277.9h.7M168.4 281.7h.7M168.3 269.5h.7M164.4 269.8h.7M154.6 268.3h.7M162.9 263.6h.7M161.3 272.9h.7M174.4 269.0h.7M159.2 265.8h.7M157.8 265.8h.7M153.3 278.1h.7M171.8 272.3h.7M159.0 262.8h.7M155.8 278.1h.7M159.4 260.1h.7M172.2 273.2h.7M158.7 271.7h.7M166.5 267.0h.7M155.1 270.6h.7M166.3 272.6h.7M153.3 264.1h.7M161.4 266.2h.7M159.4 280.3h.7M153.8 270.9h.7M175.8 271.8h.7M171.5 264.3h.7M163.8 277.5h.7M158.9 265.2h.7M160.7 277.4h.7M163.1 269.9h.7M167.7 270.8h.7M170.5 266.2h.7M157.2 269.8h.7M157.8 268.4h.7M167.8 271.6h.7M160.9 279.6h.7M151.5 266.2h.7M160.2 275.2h.7M166.2 272.6h.7M172.8 269.1h.7M156.0 276.5h.7M173.3 263.9h.7M157.1 269.0h.7M164.3 270.2h.7M167.2 260.4h.7M157.8 260.7h.7M167.9 275.4h.7M163.4 269.6h.7M160.8 269.0h.7M155.4 272.3h.7M166.3 265.6h.7M164.7 277.9h.7M173.5 282.8h.7M158.0 267.0h.7M165.1 278.3h.7M164.0 276.8h.7M165.3 265.7h.7M163.6 266.7h.7M160.4 268.0h.7M161.6 271.7h.7M164.5 276.2h.7M166.8 259.7h.7M166.4 267.2h.7M168.9 267.2h.7M155.4 261.5h.7M160.6 274.2h.7M155.1 271.6h.7M159.5 258.0h.7M160.2 267.9h.7M165.3 260.0h.7M166.4 269.1h.7M168.5 267.1h.7M156.7 268.2h.7M161.4 275.6h.7M156.1 267.8h.7M153.9 267.5h.7M163.6 277.7h.7M160.6 270.9h.7M161.9 275.6h.7M159.4 268.0h.7M163.9 268.0h.7M163.2 269.0h.7M159.1 274.4h.7M160.0 267.3h.7M165.2 279.9h.7M163.7 268.5h.7M167.1 272.6h.7M154.1 276.2h.7M171.6 266.6h.7M158.8 273.1h.7M164.1 270.3h.7M171.4 260.7h.7M157.8 272.5h.7M165.1 266.3h.7M168.5 270.3h.7M164.1 275.5h.7M179.1 263.7h.7M161.8 258.3h.7M152.6 276.2h.7M159.4 257.0h.7M151.8 278.0h.7M165.2 276.6h.7M173.4 266.4h.7M161.7 265.8h.7M154.7 274.9h.7M163.4 265.5h.7M159.3 265.4h.7M167.3 272.7h.7M164.9 276.5h.7M159.2 269.2h.7M177.0 264.5h.7M163.6 273.8h.7M163.4 269.1h.7M165.4 274.2h.7M163.0 267.8h.7M155.8 265.0h.7M154.5 262.1h.7M155.5 270.0h.7M152.2 261.8h.7M170.4 274.3h.7M157.6 271.2h.7M160.1 271.4h.7M165.8 262.8h.7M165.1 264.4h.7M171.4 271.1h.7M162.6 277.4h.7M172.5 275.6h.7M164.4 266.6h.7M162.9 267.2h.7M167.6 275.4h.7M162.0 275.3h.7M152.7 276.7h.7M164.0 257.6h.7M161.9 274.0h.7M165.3 264.4h.7M168.3 274.0h.7M162.3 277.7h.7M157.8 271.4h.7M161.6 257.3h.7M164.5 272.8h.7M157.0 269.5h.7M169.4 268.0h.7M166.0 271.2h.7M162.7 273.8h.7M153.9 273.9h.7M170.1 267.7h.7M158.1 264.1h.7M163.8 265.5h.7M166.0 272.0h.7M154.1 279.4h.7M161.4 271.8h.7M172.1 276.1h.7M159.4 272.3h.7M171.9 281.6h.7M176.0 268.4h.7M181.4 278.4h.7M174.7 264.8h.7M163.7 272.1h.7M175.8 268.9h.7M154.0 283.3h.7M173.9 266.8h.7M153.2 270.1h.7M170.0 269.6h.7M163.0 266.5h.7M157.2 281.9h.7M184.7 278.2h.7M160.5 255.3h.7M172.7 263.3h.7M161.3 272.8h.7M179.8 264.6h.7M161.5 276.2h.7M173.7 269.7h.7M168.4 275.5h.7M160.2 258.7h.7M163.3 281.5h.7M153.0 265.0h.7M174.1 281.4h.7M168.8 273.0h.7M157.7 258.2h.7M174.1 262.8h.7M167.9 267.6h.7M162.4 278.4h.7M154.3 268.7h.7M176.1 264.6h.7M172.9 272.5h.7M169.6 270.7h.7M160.5 273.9h.7M159.4 264.3h.7M182.6 257.5h.7M171.4 267.0h.7M155.5 274.5h.7M178.0 270.4h.7M177.8 271.6h.7M166.9 272.4h.7M177.1 262.9h.7M165.6 273.2h.7M175.8 273.8h.7M164.3 281.3h.7M176.2 269.5h.7M167.5 268.0h.7M163.8 266.3h.7M172.8 264.1h.7M158.7 276.4h.7M167.0 282.1h.7M159.5 271.3h.7M163.2 277.7h.7M163.9 275.1h.7M180.3 271.3h.7M168.8 278.8h.7M168.0 265.6h.7M167.3 268.5h.7M164.8 271.4h.7M173.6 279.9h.7M180.3 265.6h.7M167.7 280.4h.7M159.6 266.8h.7M183.3 276.5h.7M173.3 268.3h.7M179.1 278.7h.7M166.1 273.1h.7M171.7 270.7h.7M166.0 281.2h.7M162.3 261.1h.7M160.4 274.5h.7M166.8 266.1h.7M158.1 273.5h.7M155.8 273.0h.7M161.5 269.9h.7M166.6 274.4h.7M168.5 275.9h.7M172.4 272.6h.7M177.2 274.8h.7M174.5 265.1h.7M151.6 278.9h.7M152.1 264.6h.7M163.8 265.6h.7M172.6 273.6h.7M169.2 282.1h.7M167.0 268.9h.7M154.0 266.9h.7M158.0 272.7h.7M182.9 270.6h.7M167.2 258.0h.7M183.7 264.3h.7M168.0 260.8h.7M173.7 272.1h.7M156.4 281.5h.7M180.8 273.2h.7M160.9 272.5h.7M159.3 274.9h.7M161.3 266.2h.7M171.3 276.1h.7M168.4 275.7h.7M163.1 273.2h.7M169.3 266.0h.7M161.0 281.2h.7M177.3 270.9h.7M157.8 270.6h.7M173.6 273.6h.7M167.9 279.5h.7M170.2 275.0h.7M164.7 272.6h.7M167.7 264.7h.7M160.7 260.1h.7M162.7 262.7h.7M169.5 280.1h.7M160.9 275.7h.7M175.3 258.4h.7M177.8 258.7h.7M167.1 275.2h.7M173.4 274.9h.7M177.9 270.1h.7M161.9 280.8h.7M159.2 279.6h.7M163.0 260.0h.7M156.2 267.3h.7M166.9 273.7h.7M172.6 274.9h.7M176.4 259.4h.7M170.4 281.7h.7M158.4 276.0h.7M175.8 265.6h.7M163.0 276.7h.7M171.3 274.8h.7M164.1 268.5h.7M159.2 270.9h.7M161.8 270.9h.7M158.8 264.4h.7M169.8 267.1h.7M172.9 278.4h.7M153.0 260.0h.7M152.7 264.4h.7M164.9 279.5h.7M168.5 281.0h.7M151.8 264.5h.7M166.0 265.7h.7M158.8 261.2h.7M160.5 275.9h.7M169.6 272.8h.7M160.5 275.6h.7M167.8 277.7h.7M172.9 275.6h.7M171.0 272.9h.7M173.3 263.7h.7M156.4 264.9h.7M160.3 268.6h.7M177.4 273.3h.7M165.3 272.2h.7M173.5 263.4h.7M165.4 265.2h.7M171.1 282.2h.7M168.2 276.3h.7M179.0 267.7h.7M169.1 258.3h.7M168.8 273.2h.7M168.8 269.0h.7M161.7 270.6h.7M157.6 272.8h.7M171.6 282.2h.7M162.6 270.8h.7M166.0 273.9h.7M159.6 272.1h.7M160.4 273.3h.7M181.4 270.9h.7M180.2 273.8h.7M178.8 278.7h.7M154.5 278.2h.7M164.3 274.8h.7M156.1 255.8h.7M159.6 267.7h.7M166.7 275.7h.7M155.7 273.2h.7M159.9 279.8h.7M158.6 272.6h.7M177.1 276.1h.7M173.4 278.9h.7M172.6 275.5h.7M156.9 283.5h.7M176.8 283.0h.7M162.0 275.4h.7M159.4 269.0h.7M171.1 269.2h.7M170.6 260.0h.7M155.9 262.7h.7M174.0 257.8h.7M157.0 282.6h.7M152.5 266.9h.7M155.7 278.0h.7M158.3 273.0h.7M159.4 267.7h.7M163.9 268.0h.7M169.2 270.2h.7M165.4 272.8h.7M172.5 267.1h.7M153.4 267.9h.7M167.2 267.5h.7M152.1 268.4h.7M167.1 278.0h.7M174.2 281.9h.7M164.7 265.7h.7M159.7 280.8h.7M167.0 273.2h.7M170.9 269.0h.7M161.3 273.5h.7M155.3 278.8h.7M170.2 266.9h.7M167.9 268.2h.7M155.5 260.6h.7M159.4 268.0h.7M171.8 273.5h.7M174.4 277.1h.7M158.4 270.1h.7M172.9 265.6h.7M155.7 264.6h.7M168.6 282.8h.7M173.0 280.3h.7M158.1 281.8h.7M160.1 267.8h.7M159.5 281.4h.7M159.5 278.8h.7M157.5 277.4h.7M174.2 271.1h.7M168.3 279.4h.7M157.2 274.8h.7M158.9 261.6h.7M153.4 272.8h.7M154.2 270.0h.7M167.3 268.8h.7M170.1 264.8h.7M170.3 276.2h.7M156.5 270.5h.7M151.7 275.2h.7M156.4 282.4h.7M152.7 274.3h.7M161.5 269.6h.7M171.5 270.0h.7M168.5 280.1h.7M172.6 277.5h.7M175.6 281.4h.7M162.5 263.0h.7M154.5 263.5h.7M167.8 272.3h.7M163.5 263.7h.7M161.3 266.4h.7M152.9 271.4h.7M156.5 267.8h.7M162.1 269.5h.7M156.8 277.5h.7M174.9 274.3h.7M174.1 280.9h.7M152.2 276.7h.7M175.6 266.3h.7M169.4 273.3h.7M175.4 271.9h.7M173.0 270.7h.7M152.9 272.2h.7M161.0 261.5h.7M159.0 264.5h.7M173.6 280.9h.7M164.7 281.2h.7M161.3 275.4h.7M168.2 282.8h.7M168.6 266.6h.7M164.5 278.7h.7M170.7 265.8h.7M174.8 272.4h.7M171.5 282.2h.7M171.9 263.9h.7M162.5 262.4h.7M156.8 262.4h.7M157.5 262.3h.7M169.2 282.5h.7M169.1 279.9h.7M167.0 271.5h.7M162.4 260.7h.7M169.9 263.2h.7M173.3 266.1h.7M163.0 274.6h.7M162.5 270.2h.7M175.9 278.9h.7M155.4 275.5h.7M169.6 266.8h.7M154.3 272.7h.7M161.0 270.1h.7M167.6 262.1h.7M165.8 279.8h.7M171.1 276.7h.7M155.8 267.4h.7M159.5 283.0h.7M172.4 273.1h.7M157.1 276.4h.7M174.2 282.6h.7M173.7 265.8h.7M175.6 276.5h.7M171.1 263.5h.7M174.4 281.1h.7M168.2 275.9h.7M165.4 268.0h.7M171.4 277.0h.7M168.7 273.7h.7M171.4 270.4h.7M170.4 276.5h.7M173.9 269.8h.7M174.8 265.1h.7M164.2 271.8h.7M174.7 275.6h.7M159.4 263.9h.7M163.4 268.8h.7M159.7 268.9h.7M166.7 276.0h.7M154.1 262.6h.7M169.6 270.6h.7M171.5 264.0h.7M172.8 276.9h.7M166.8 281.8h.7M155.6 273.7h.7M175.7 263.3h.7M157.6 277.3h.7M157.7 277.4h.7M151.5 262.6h.7M166.6 267.0h.7M169.8 275.5h.7M165.2 261.0h.7M161.6 262.5h.7M162.2 267.2h.7M156.6 266.5h.7M174.7 265.9h.7M171.8 262.5h.7M167.3 269.7h.7M161.4 263.9h.7M168.4 266.8h.7M161.3 267.7h.7M164.1 264.9h.7M155.8 278.9h.7M166.9 278.3h.7M169.4 266.8h.7M174.8 272.9h.7M151.5 274.4h.7M170.1 261.0h.7M168.2 268.9h.7M156.0 271.5h.7M169.5 279.2h.7M174.3 270.7h.7M191.8 273.5h.7M180.7 263.0h.7M180.6 258.0h.7M192.1 262.8h.7M181.2 272.6h.7M190.5 265.2h.7M187.9 266.2h.7M183.4 267.0h.7M185.2 274.0h.7M186.2 256.4h.7M184.0 272.0h.7M198.2 273.9h.7M190.4 262.9h.7M194.3 261.5h.7M186.9 254.5h.7M183.7 257.7h.7M185.8 273.2h.7M182.8 274.7h.7M186.1 279.8h.7M184.3 268.4h.7M183.0 261.2h.7M187.6 267.0h.7M193.7 275.1h.7M191.1 267.2h.7M185.9 278.3h.7M183.1 269.1h.7M187.4 265.9h.7M192.2 271.9h.7M189.5 262.1h.7M184.9 270.0h.7M185.4 266.4h.7M183.3 275.3h.7M183.7 276.2h.7M191.2 264.2h.7M187.1 265.9h.7M185.8 268.6h.7M187.6 259.8h.7M185.1 270.7h.7M186.0 265.1h.7M185.4 263.2h.7M192.3 261.9h.7M184.6 266.3h.7M191.1 266.6h.7M185.1 255.6h.7M182.3 264.4h.7M186.5 256.2h.7M188.6 263.3h.7M182.8 254.4h.7M182.4 259.8h.7M184.0 265.3h.7M182.4 254.4h.7M189.1 261.2h.7M190.2 261.7h.7M190.1 254.5h.7M188.8 266.3h.7M213.2 232.9h.7M208.7 232.9h.7M210.6 232.7h.7M201.2 240.1h.7M215.7 227.6h.7M195.4 232.0h.7M200.4 244.4h.7M203.1 232.4h.7M210.3 235.9h.7M196.6 230.9h.7M182.4 231.6h.7M216.0 233.7h.7M185.0 235.4h.7M180.7 238.3h.7M200.4 232.1h.7M201.1 227.6h.7M191.1 232.7h.7M195.4 243.3h.7M200.0 227.8h.7M192.8 229.5h.7M199.1 224.8h.7M203.9 230.0h.7M202.7 239.7h.7M204.0 226.7h.7M189.3 224.4h.7M190.3 231.3h.7M204.7 233.3h.7M198.3 229.4h.7M184.9 231.7h.7M186.2 230.3h.7M189.7 238.8h.7M190.7 244.8h.7M203.0 231.2h.7M197.2 241.3h.7M211.2 234.4h.7M198.4 233.6h.7M204.6 225.8h.7M195.1 239.9h.7M199.6 228.3h.7M192.0 231.2h.7M215.0 241.4h.7M190.8 232.4h.7M195.6 235.0h.7M192.7 231.0h.7M187.3 236.5h.7M172.6 234.9h.7M164.1 245.3h.7M162.1 234.6h.7M166.9 233.2h.7M157.6 238.8h.7M169.1 228.7h.7M164.3 236.2h.7M168.0 236.6h.7M157.0 228.6h.7M166.5 240.4h.7M160.3 232.7h.7M161.8 240.6h.7M174.2 224.2h.7M170.6 229.0h.7M156.8 241.8h.7M167.2 250.4h.7M162.7 232.0h.7M173.7 227.3h.7M166.4 242.1h.7M172.0 219.6h.7M157.5 239.8h.7M159.4 228.5h.7M167.8 233.5h.7M164.5 237.9h.7M164.2 238.5h.7M173.2 231.4h.7M168.4 242.5h.7M160.2 231.3h.7M169.7 237.8h.7M158.0 235.4h.7M158.6 242.4h.7M168.9 231.5h.7M168.1 244.7h.7M160.4 224.8h.7M164.0 250.8h.7M166.9 241.1h.7M172.3 232.6h.7M166.4 231.2h.7M162.6 222.8h.7M165.1 234.1h.7" stroke="#000" stroke-width="0.7" stroke-opacity="0.66" fill="none"/>
<rect x="150.5" y="217.3" width="73" height="67.1" fill="none" stroke="#111" stroke-width="1.1"/>
<line x1="179.5" y1="217.3" x2="179.5" y2="284.4" stroke="#111" stroke-width="1"/>
<line x1="150.5" y1="252.7" x2="223.5" y2="252.7" stroke="#111" stroke-width="1"/>
<text x="184.4" y="251.6" font-size="13.6" textLength="30.6" lengthAdjust="spacingAndGlyphs">2.5%</text>
<defs><radialGradient id="g3"><stop offset="0" stop-color="#000" stop-opacity="0.7"/><stop offset="0.55" stop-color="#000" stop-opacity="0.59"/><stop offset="1" stop-color="#000" stop-opacity="0"/></radialGradient><clipPath id="cg3"><rect x="70.5" y="327.6" width="42.4" height="30.7"/></clipPath></defs>
<ellipse cx="97.5" cy="340.8" rx="21" ry="11.5" fill="url(#g3)" clip-path="url(#cg3)"/>
<path d="M96.2 348.1h.7M89.6 332.3h.7M99.7 344.0h.7M101.1 343.5h.7M96.5 338.3h.7M90.5 340.1h.7M94.2 345.7h.7M103.8 335.2h.7M104.6 341.1h.7M108.6 348.5h.7M103.3 332.7h.7M104.2 333.8h.7M96.2 350.1h.7M81.1 341.5h.7M87.7 338.8h.7M90.4 344.6h.7M95.1 343.0h.7M104.2 333.0h.7M111.5 340.1h.7M82.1 338.1h.7M106.5 346.2h.7M91.4 341.8h.7M100.4 346.4h.7M96.8 346.1h.7M89.5 337.8h.7M104.5 344.9h.7M97.6 344.3h.7M100.1 345.1h.7M109.4 343.9h.7M106.0 339.4h.7M102.1 341.5h.7M103.3 332.2h.7M93.4 338.6h.7M80.6 345.8h.7M109.9 335.1h.7M102.4 349.8h.7M86.4 346.2h.7M84.9 336.1h.7M100.1 347.3h.7M85.9 337.7h.7M87.3 346.8h.7M92.7 344.2h.7M104.4 347.1h.7M102.2 343.0h.7M109.4 343.7h.7M85.8 338.7h.7M106.9 342.0h.7M94.7 342.6h.7M102.8 343.6h.7M95.5 347.2h.7M106.5 343.3h.7M84.9 347.6h.7M105.6 341.0h.7M71.9 341.1h.7M86.3 340.2h.7M93.1 337.3h.7M108.0 341.9h.7M110.2 336.6h.7M96.2 348.1h.7M101.3 337.8h.7M89.4 338.4h.7M97.3 344.7h.7M99.5 345.1h.7M106.3 341.9h.7M110.7 345.0h.7M96.3 340.5h.7M97.9 337.7h.7M85.0 341.5h.7M93.1 344.2h.7M92.3 341.8h.7M100.0 339.0h.7M100.0 337.8h.7M93.9 345.3h.7M101.9 341.3h.7M90.4 344.8h.7M108.3 342.4h.7M108.8 347.1h.7M88.1 349.9h.7M92.3 340.1h.7M104.2 340.9h.7M100.7 338.8h.7M87.9 341.4h.7M87.4 347.9h.7M100.4 348.2h.7M85.9 331.1h.7M75.8 339.5h.7M85.5 343.1h.7M83.8 334.5h.7M100.8 339.4h.7M104.6 345.3h.7M101.5 335.3h.7M89.6 352.5h.7M95.8 342.8h.7M99.2 341.2h.7M96.3 338.5h.7M93.0 331.4h.7M85.2 343.9h.7M104.5 334.2h.7M93.0 348.7h.7M103.3 343.4h.7M107.7 340.7h.7M95.1 349.2h.7M96.2 340.9h.7M104.2 341.5h.7M86.0 350.6h.7M97.3 350.1h.7M103.0 336.8h.7M89.6 341.2h.7M77.1 343.3h.7M90.9 340.1h.7M89.3 344.6h.7M101.5 346.6h.7M98.9 342.8h.7M90.1 338.6h.7M105.4 337.1h.7M79.1 339.6h.7M100.5 348.5h.7M91.0 336.7h.7M98.9 340.5h.7M100.4 338.8h.7M99.9 338.5h.7M107.6 342.7h.7M103.5 339.1h.7M84.0 341.4h.7M97.5 346.7h.7M107.4 341.1h.7M97.5 336.4h.7M97.6 342.3h.7M93.9 336.0h.7M110.4 336.7h.7M104.0 334.5h.7M94.4 333.8h.7M90.8 338.8h.7M107.2 346.5h.7M94.3 339.9h.7M88.8 335.7h.7M80.6 340.2h.7M103.6 337.5h.7M101.4 335.6h.7M88.2 338.6h.7M106.4 338.7h.7M105.2 339.5h.7M87.2 331.4h.7M93.3 336.5h.7M106.6 343.4h.7M82.0 345.3h.7M87.8 342.4h.7M82.5 337.7h.7M102.8 342.4h.7M102.1 344.2h.7M89.3 352.8h.7M102.8 351.6h.7M95.2 343.9h.7M101.1 340.5h.7M100.8 342.4h.7M105.6 342.7h.7M98.3 343.5h.7M111.6 341.5h.7M103.6 341.9h.7M78.9 336.8h.7M89.0 334.4h.7M91.8 332.6h.7M100.3 338.6h.7M109.5 343.0h.7M85.6 340.1h.7M98.2 337.9h.7M94.3 335.9h.7M90.7 342.5h.7M94.5 347.0h.7M77.5 337.3h.7M94.2 348.3h.7M108.3 344.8h.7M107.0 348.8h.7M104.1 340.0h.7M99.4 337.6h.7M95.5 342.9h.7M92.8 341.6h.7M93.5 334.8h.7M83.9 344.4h.7M97.9 345.1h.7M96.6 341.0h.7M100.1 339.5h.7M110.7 345.9h.7M101.3 336.0h.7M92.4 342.0h.7M108.5 340.8h.7M97.2 343.5h.7M98.6 340.3h.7M86.7 346.9h.7M96.9 338.5h.7M96.4 334.6h.7M81.4 332.4h.7M100.9 334.6h.7M98.4 335.3h.7M80.4 338.0h.7M90.2 337.6h.7M91.6 345.1h.7M94.2 346.7h.7M82.4 346.1h.7M86.9 337.4h.7M99.1 335.7h.7M81.6 339.0h.7M94.3 333.0h.7M106.4 336.9h.7M91.2 339.7h.7M97.6 345.9h.7M76.6 340.9h.7M105.5 342.0h.7M96.3 335.5h.7M100.2 338.5h.7M98.3 335.7h.7M94.0 340.1h.7M83.0 345.8h.7M95.9 334.6h.7M94.6 341.4h.7M93.8 335.8h.7M94.9 334.3h.7M81.2 346.4h.7M88.2 338.1h.7M107.5 338.5h.7M93.7 340.7h.7M101.0 334.3h.7M97.3 343.2h.7M77.5 346.2h.7M104.3 336.9h.7M101.6 348.2h.7M72.5 340.8h.7M107.1 347.6h.7M96.7 339.9h.7M89.7 339.2h.7M91.4 336.0h.7M91.3 338.6h.7M92.4 341.3h.7M96.4 339.1h.7M91.1 340.3h.7M94.0 340.2h.7M110.1 342.0h.7M93.2 330.9h.7M105.3 346.1h.7M93.1 338.5h.7M101.5 343.5h.7M80.5 339.6h.7M94.0 334.7h.7M110.4 344.4h.7M91.2 340.6h.7M91.7 338.4h.7M93.2 345.7h.7M97.0 338.5h.7M90.5 342.0h.7M88.7 333.0h.7M95.7 348.4h.7M90.5 341.6h.7M95.1 346.7h.7M101.5 334.7h.7M88.3 338.4h.7M97.6 346.0h.7M94.3 337.2h.7M109.6 348.3h.7M93.6 341.5h.7M100.5 339.3h.7M88.3 345.8h.7M86.6 332.0h.7M102.5 346.4h.7M104.7 337.1h.7M94.7 335.6h.7M88.7 347.4h.7M85.8 349.1h.7M98.6 331.4h.7M106.0 336.2h.7M102.3 339.9h.7M93.7 340.0h.7M84.5 337.1h.7M93.2 349.4h.7M91.5 342.4h.7M101.3 346.7h.7M94.8 341.8h.7M88.2 353.0h.7M82.8 342.1h.7M93.7 341.6h.7M92.0 338.7h.7M106.5 345.4h.7M96.4 340.2h.7M98.8 340.5h.7M101.3 344.5h.7M101.6 333.2h.7M96.6 335.7h.7M101.3 339.4h.7M100.0 340.4h.7M106.0 347.4h.7M98.8 333.7h.7M97.2 350.4h.7M90.6 340.5h.7M103.3 342.0h.7M84.5 348.8h.7M105.9 332.7h.7M96.0 340.3h.7M96.5 337.7h.7M111.1 343.9h.7M97.2 343.1h.7M104.3 337.1h.7M93.6 346.7h.7M106.2 342.8h.7M85.8 333.1h.7M111.4 347.9h.7M102.1 342.8h.7M94.1 343.3h.7M108.7 344.6h.7M92.0 342.6h.7M92.1 340.6h.7M87.3 341.8h.7M89.7 343.5h.7M91.9 342.4h.7M92.8 347.8h.7M93.5 341.0h.7M108.1 348.1h.7M86.2 348.0h.7M87.1 336.3h.7M89.3 345.8h.7M87.1 343.7h.7M101.3 340.0h.7M101.7 350.9h.7M99.8 339.1h.7M96.0 338.4h.7M102.5 336.9h.7M85.5 341.2h.7M100.4 346.8h.7M103.7 336.8h.7M88.6 342.5h.7M99.8 344.5h.7M91.5 343.6h.7M87.1 349.0h.7M96.5 343.8h.7M95.4 342.7h.7M101.2 343.6h.7M84.3 331.8h.7M96.6 344.8h.7M95.0 340.2h.7M107.5 344.1h.7M88.4 341.8h.7M95.4 341.3h.7M96.6 343.8h.7M97.3 342.6h.7M97.7 340.0h.7M92.0 342.3h.7M101.6 348.6h.7M91.2 346.0h.7M93.5 341.6h.7M85.4 343.9h.7M83.6 345.8h.7M89.5 342.1h.7M106.8 337.0h.7M96.3 351.2h.7M84.2 341.6h.7M78.6 342.7h.7M95.8 335.6h.7M86.2 347.0h.7M103.7 335.2h.7M105.1 336.6h.7M89.9 342.9h.7M96.3 343.5h.7M107.7 338.0h.7M102.6 342.4h.7M81.7 344.8h.7M106.9 334.4h.7M94.3 345.7h.7M105.9 339.3h.7M95.2 339.6h.7M85.8 341.5h.7M97.1 336.5h.7M111.7 333.1h.7M105.9 343.1h.7M89.3 339.5h.7M98.0 349.2h.7M100.0 346.7h.7M107.5 341.5h.7M97.8 340.7h.7M106.7 337.9h.7M94.8 344.7h.7M95.7 334.5h.7M83.3 343.2h.7M104.7 343.6h.7M80.5 341.5h.7M105.6 336.9h.7M99.8 342.6h.7M92.9 336.9h.7M94.2 340.6h.7M104.3 339.5h.7M88.2 335.8h.7M93.0 343.4h.7M89.2 339.2h.7M102.2 342.2h.7M103.2 351.1h.7M79.5 332.6h.7M89.8 341.5h.7M108.4 344.2h.7M92.2 334.0h.7M100.6 339.6h.7M87.9 334.9h.7M103.7 339.5h.7M99.0 340.3h.7M89.8 338.5h.7M91.2 340.5h.7M90.4 343.7h.7M87.6 341.9h.7M98.1 343.7h.7M100.1 338.6h.7M93.4 338.8h.7M82.7 354.9h.7M94.7 342.7h.7M85.3 338.4h.7M74.0 340.0h.7M88.0 340.4h.7M100.2 346.9h.7M96.6 335.1h.7M91.4 343.1h.7M84.1 336.9h.7M94.5 343.3h.7M109.3 343.1h.7M109.6 337.1h.7M88.2 332.4h.7M88.4 343.5h.7M95.8 349.8h.7M92.8 335.4h.7M103.4 341.8h.7M82.3 342.3h.7M97.5 346.0h.7M92.9 337.4h.7M95.4 339.3h.7M85.4 344.4h.7M104.4 336.5h.7M89.8 334.7h.7M90.8 336.6h.7M95.0 343.1h.7M109.5 335.4h.7M87.8 334.3h.7M94.7 343.6h.7M86.6 339.7h.7M85.5 333.0h.7M89.8 343.7h.7M91.5 331.3h.7M85.3 338.2h.7M107.0 344.2h.7M97.3 342.2h.7M107.1 339.4h.7M87.3 342.1h.7M96.6 342.0h.7M90.8 339.6h.7M105.1 340.4h.7M94.5 342.9h.7M92.3 338.9h.7M111.8 348.4h.7M78.4 337.2h.7M98.3 343.7h.7M84.1 337.3h.7M101.9 345.9h.7M86.7 338.7h.7M92.9 345.6h.7M100.3 342.2h.7M97.0 348.0h.7M111.8 347.4h.7M76.7 338.7h.7M98.2 340.3h.7M103.8 341.9h.7M105.8 346.5h.7M110.9 338.3h.7M110.7 340.6h.7M77.4 349.1h.7M99.5 346.8h.7M86.7 343.9h.7M89.9 352.4h.7M111.7 340.4h.7M73.7 341.0h.7M99.8 340.3h.7M100.4 339.3h.7M103.0 342.8h.7M89.5 344.8h.7M102.2 340.0h.7M90.2 336.3h.7M104.6 338.6h.7M104.1 337.0h.7M86.9 331.0h.7M91.2 337.3h.7M107.1 342.5h.7M90.3 339.0h.7M95.5 340.4h.7M96.8 346.3h.7M82.2 341.6h.7M97.9 344.7h.7M96.2 336.9h.7M104.8 346.2h.7M89.6 346.0h.7M99.4 336.4h.7M101.5 339.8h.7M99.9 346.3h.7M106.2 345.4h.7M90.8 339.9h.7M96.8 338.8h.7M89.4 341.1h.7M101.9 339.8h.7M86.0 346.0h.7M91.2 349.3h.7M99.9 342.0h.7M109.1 341.3h.7M85.3 341.6h.7M77.8 342.5h.7M98.1 343.4h.7M97.2 349.9h.7M98.7 338.6h.7M104.5 340.0h.7M94.1 340.5h.7M91.2 340.6h.7M94.7 338.3h.7M89.2 339.1h.7M73.9 342.1h.7M71.5 338.9h.7M95.7 337.4h.7M96.7 349.6h.7M97.9 338.2h.7M99.9 337.0h.7M78.7 336.7h.7M102.1 339.3h.7M101.7 343.8h.7M77.6 333.1h.7M87.8 334.1h.7M101.7 335.9h.7M84.9 346.8h.7M82.7 333.9h.7M107.6 340.7h.7M94.2 342.9h.7M89.9 338.7h.7M92.5 346.0h.7M95.1 333.6h.7M83.6 342.5h.7M82.4 333.2h.7M89.5 332.3h.7M98.1 350.2h.7M110.0 341.4h.7M96.1 343.6h.7M96.8 338.2h.7M95.3 339.0h.7M99.5 345.5h.7M84.4 337.8h.7M84.9 348.2h.7M103.1 341.4h.7M86.8 344.9h.7M85.8 332.5h.7M89.0 346.4h.7M94.9 338.2h.7M90.1 344.6h.7M87.6 337.3h.7M101.1 343.3h.7M95.1 342.6h.7M96.3 337.4h.7M94.9 340.2h.7M98.8 344.4h.7M86.7 337.1h.7M91.6 340.1h.7M81.2 340.7h.7M103.4 337.5h.7M78.8 343.9h.7M109.4 342.6h.7M110.7 346.0h.7M95.4 339.1h.7M92.6 346.7h.7M88.8 338.5h.7M109.4 345.3h.7M91.9 345.2h.7M95.1 345.0h.7M98.6 335.6h.7M104.2 337.9h.7M104.3 342.1h.7M107.0 337.0h.7M94.5 338.1h.7M95.3 341.3h.7M93.6 343.7h.7M102.1 339.7h.7M95.8 341.7h.7M105.4 346.9h.7M87.7 344.0h.7M103.3 334.1h.7M100.7 348.5h.7M91.9 334.9h.7M75.9 340.7h.7M94.3 339.8h.7M104.4 334.8h.7M95.3 349.0h.7M111.0 337.5h.7M79.4 342.1h.7M99.7 341.6h.7M87.5 344.1h.7M88.3 335.3h.7M87.9 340.3h.7M95.7 334.7h.7M100.3 346.9h.7M80.7 343.0h.7M98.0 335.1h.7M93.2 337.3h.7M104.3 344.3h.7M83.4 344.0h.7M102.3 347.6h.7M109.0 344.2h.7M96.9 334.7h.7M95.9 345.3h.7M105.2 337.5h.7M75.1 336.2h.7M79.7 341.7h.7M82.5 335.5h.7M93.4 339.0h.7M98.1 344.6h.7M99.3 347.1h.7M89.1 343.1h.7M90.5 341.1h.7M94.8 339.0h.7M110.8 349.9h.7M92.5 336.9h.7M107.2 346.5h.7M97.5 345.1h.7M94.5 347.4h.7M97.1 342.4h.7M103.8 336.0h.7M99.4 342.0h.7M106.6 337.8h.7M77.6 337.6h.7M101.5 341.1h.7M100.9 348.0h.7M106.2 344.8h.7M99.6 336.1h.7M95.6 339.6h.7M87.9 341.3h.7M92.7 336.5h.7M86.2 332.1h.7M95.3 341.2h.7M100.0 336.5h.7M85.2 350.9h.7M92.9 342.3h.7M97.6 340.6h.7M111.0 343.2h.7M104.1 347.6h.7M104.9 340.9h.7M86.4 344.9h.7M96.5 333.6h.7M103.4 349.6h.7M106.6 342.5h.7M86.9 341.7h.7M103.5 339.4h.7M88.7 334.7h.7M111.7 344.4h.7M88.7 347.3h.7M97.2 336.5h.7M89.3 343.8h.7M106.9 344.5h.7M85.8 342.9h.7M86.7 334.5h.7M85.8 342.9h.7M102.6 345.8h.7M88.1 340.5h.7M100.4 337.1h.7M80.6 336.2h.7M87.2 344.8h.7M105.0 351.5h.7M87.7 338.5h.7M101.8 337.8h.7M87.4 339.8h.7M105.9 337.4h.7M106.6 344.9h.7M91.5 341.0h.7M109.5 334.6h.7M107.8 339.8h.7M105.5 346.3h.7M101.0 337.6h.7M97.6 335.3h.7M76.5 349.8h.7M99.8 331.9h.7M100.7 348.5h.7M110.2 345.6h.7M93.4 336.3h.7M75.8 334.7h.7M93.8 337.1h.7M93.8 345.5h.7M91.3 345.1h.7M101.9 336.8h.7M104.6 339.4h.7M92.1 344.0h.7M98.1 338.6h.7M106.5 348.1h.7M96.8 338.0h.7M94.1 341.6h.7M107.9 332.7h.7M97.5 354.5h.7M110.1 350.3h.7M93.6 346.7h.7M80.9 338.2h.7M87.0 347.5h.7M101.3 334.1h.7M106.8 342.5h.7M102.8 356.3h.7M79.8 345.6h.7M90.6 342.6h.7M102.5 347.9h.7M105.7 344.0h.7M73.8 338.6h.7M98.8 339.2h.7M90.7 344.8h.7M97.7 338.6h.7M94.3 337.1h.7M89.9 338.0h.7M105.9 349.1h.7M101.8 337.0h.7M92.5 343.2h.7M91.2 344.8h.7M90.1 342.1h.7M96.6 343.6h.7M87.3 341.6h.7M99.3 336.7h.7M98.3 343.7h.7M95.6 338.1h.7M99.3 342.4h.7M88.8 339.6h.7M96.7 336.2h.7M101.0 337.8h.7M85.1 346.5h.7M108.7 334.4h.7M92.3 335.8h.7M77.6 345.7h.7M92.0 345.1h.7M92.3 335.3h.7M104.1 338.4h.7M104.3 333.8h.7M110.7 348.9h.7M77.7 339.3h.7M77.2 338.5h.7M99.0 337.8h.7M101.2 338.9h.7M88.3 340.5h.7M89.8 342.2h.7M91.7 348.2h.7M87.8 344.2h.7M100.3 343.1h.7M93.5 336.2h.7M78.0 336.5h.7M103.2 342.8h.7M105.1 334.7h.7M98.8 338.2h.7M80.2 344.8h.7M111.7 339.3h.7M105.5 339.9h.7M86.0 331.1h.7M103.8 346.4h.7M92.4 346.2h.7M104.4 337.3h.7M105.2 344.8h.7M90.5 338.8h.7M99.7 337.0h.7M85.0 341.7h.7M91.6 338.0h.7M110.9 336.6h.7M87.8 337.6h.7M94.5 337.6h.7M95.0 341.1h.7M109.1 343.0h.7M78.9 339.1h.7M86.9 334.8h.7M92.4 336.6h.7M96.2 337.8h.7M109.9 339.5h.7M83.8 343.5h.7M89.5 342.3h.7M80.3 331.6h.7M80.1 335.5h.7M78.4 348.4h.7M111.4 337.2h.7M87.3 338.7h.7M102.1 335.0h.7M103.0 335.4h.7M107.2 350.9h.7M99.2 346.5h.7M97.5 342.6h.7M87.3 340.9h.7M111.1 346.4h.7M85.1 338.3h.7M101.9 344.5h.7M96.2 334.2h.7M90.3 343.5h.7M106.0 337.7h.7M100.5 347.8h.7M87.5 335.0h.7M95.7 346.1h.7M95.4 342.0h.7M83.5 341.7h.7M76.4 340.8h.7M92.3 347.8h.7M103.5 333.8h.7M110.7 351.4h.7M98.0 342.0h.7M90.4 338.6h.7M94.2 343.2h.7M97.9 339.6h.7M84.6 353.9h.7M107.3 346.1h.7M91.0 337.4h.7M93.0 338.8h.7M105.9 332.7h.7M96.1 339.6h.7M94.4 343.3h.7M98.6 340.7h.7M103.1 339.3h.7M100.5 339.1h.7M82.6 344.0h.7M90.6 342.0h.7M89.8 337.7h.7M106.9 333.4h.7M98.5 344.0h.7M79.2 336.3h.7M91.0 338.8h.7M83.1 340.2h.7M103.5 343.5h.7M98.0 333.9h.7M101.6 341.9h.7M101.9 340.4h.7M108.4 335.4h.7M95.0 344.5h.7M93.3 342.5h.7M107.7 354.3h.7M78.9 340.9h.7M98.9 337.6h.7M96.6 332.0h.7M104.7 343.0h.7M87.7 344.7h.7M87.2 338.9h.7M77.4 342.5h.7M98.8 351.3h.7M111.6 343.0h.7M84.6 337.0h.7M93.0 347.5h.7M90.5 341.7h.7M84.1 343.6h.7M93.4 335.7h.7M94.7 337.5h.7M85.2 347.4h.7M95.5 342.3h.7M99.3 341.2h.7M96.4 339.2h.7M101.4 336.1h.7M87.8 340.4h.7M96.9 333.0h.7M90.2 335.8h.7M95.6 346.9h.7M86.4 342.8h.7M108.8 339.7h.7M101.3 335.8h.7M79.6 345.0h.7M97.6 349.0h.7M95.9 337.3h.7M105.6 349.5h.7M105.6 337.8h.7M99.5 343.8h.7M90.6 339.4h.7M109.9 343.2h.7M99.9 339.6h.7M99.4 340.3h.7M98.4 343.3h.7M89.1 341.7h.7M90.4 341.1h.7M82.1 340.2h.7M92.7 343.3h.7M93.1 333.5h.7M89.4 345.9h.7M88.6 338.3h.7M87.3 342.4h.7M89.0 344.0h.7M100.1 334.2h.7M94.2 344.1h.7M76.5 339.1h.7M103.1 344.3h.7M92.7 340.9h.7M109.6 333.9h.7M89.7 348.4h.7M98.2 343.1h.7M91.6 337.5h.7M84.8 347.1h.7M97.4 333.9h.7M102.7 337.7h.7M107.2 333.6h.7M90.3 339.2h.7M81.2 343.1h.7M104.6 339.1h.7M85.1 332.3h.7M102.3 339.7h.7M91.0 341.2h.7M99.7 332.7h.7M106.1 338.8h.7M96.5 339.7h.7M98.9 346.1h.7M86.1 339.3h.7M85.8 338.3h.7M95.5 339.5h.7M97.8 339.5h.7M109.8 341.4h.7M88.5 345.0h.7M108.3 336.8h.7M97.8 337.5h.7M88.7 343.0h.7M98.9 345.9h.7M91.1 344.4h.7M108.2 341.5h.7M92.0 343.4h.7M106.0 335.1h.7M99.0 350.4h.7M98.0 339.2h.7M100.3 341.7h.7M110.1 336.9h.7M84.2 338.7h.7M108.3 339.8h.7M103.3 341.5h.7M97.4 347.4h.7M95.1 347.6h.7M100.9 342.9h.7M97.1 340.0h.7M107.1 344.8h.7M97.3 340.6h.7M105.4 345.9h.7M92.2 348.9h.7M93.8 344.3h.7M95.8 339.8h.7M101.7 338.9h.7M95.2 331.6h.7M104.0 335.3h.7M104.9 343.7h.7M102.8 347.8h.7M102.8 341.0h.7M92.2 334.6h.7M106.6 334.2h.7M104.7 336.4h.7M81.2 346.0h.7M98.7 341.9h.7M94.1 351.0h.7M91.2 343.5h.7M104.1 348.1h.7M97.1 343.9h.7M93.0 333.5h.7M93.1 348.9h.7M91.8 336.2h.7M109.6 337.7h.7M99.2 341.3h.7M93.8 334.4h.7M111.8 346.8h.7M100.8 342.7h.7M94.2 347.4h.7M96.8 342.1h.7M99.3 343.5h.7M102.5 336.8h.7M87.2 343.7h.7M100.6 339.5h.7M92.3 343.1h.7M98.8 351.3h.7M104.0 343.5h.7M93.9 336.3h.7M82.7 341.0h.7M79.5 333.4h.7M87.4 343.3h.7M108.5 333.2h.7M102.2 334.9h.7M107.9 342.7h.7M98.0 335.4h.7M82.8 335.6h.7M96.3 346.7h.7M98.3 340.3h.7M86.3 335.7h.7M106.6 332.2h.7M87.2 341.4h.7M96.8 331.3h.7M92.4 343.7h.7M89.8 347.0h.7M97.0 341.0h.7M88.9 342.5h.7M86.8 338.5h.7M102.3 340.7h.7M91.0 335.9h.7M85.9 351.9h.7M76.4 341.8h.7M93.6 339.1h.7M88.0 341.1h.7M93.1 342.2h.7M89.4 342.1h.7M96.8 349.5h.7M93.0 345.6h.7M100.7 342.8h.7M99.9 340.5h.7M92.6 339.0h.7M81.5 338.2h.7M84.6 336.8h.7M74.4 339.3h.7M89.9 342.2h.7M91.0 350.7h.7M93.9 333.0h.7M89.9 334.7h.7M92.8 350.9h.7M104.9 335.2h.7M109.6 349.6h.7M89.2 331.6h.7M94.8 341.0h.7M91.6 347.0h.7M98.8 341.8h.7M104.7 339.5h.7M93.3 338.0h.7M101.7 349.0h.7M97.8 346.9h.7M88.9 342.1h.7M90.1 338.2h.7M111.5 343.7h.7M102.0 344.1h.7M99.3 332.8h.7M101.2 347.1h.7M89.3 339.4h.7M111.1 337.1h.7M99.7 341.7h.7M90.1 338.3h.7M83.1 336.6h.7M83.1 340.6h.7M111.4 337.5h.7M83.1 343.5h.7M108.1 340.5h.7M99.7 335.1h.7M110.2 344.7h.7M109.9 349.3h.7M104.5 334.8h.7M99.7 340.5h.7M95.1 345.5h.7M111.4 343.5h.7M110.7 341.6h.7M83.0 339.6h.7M88.3 331.8h.7M106.8 343.8h.7M92.9 350.4h.7M77.7 336.7h.7M91.4 343.9h.7M105.0 335.6h.7M89.4 335.5h.7M100.9 336.7h.7M94.5 339.6h.7M89.1 339.5h.7M96.5 332.2h.7M104.3 335.7h.7M94.1 336.0h.7M101.5 343.7h.7M74.7 337.4h.7M107.1 345.0h.7M102.6 337.0h.7M82.2 344.1h.7M96.3 341.1h.7M95.5 342.2h.7M106.2 338.9h.7M100.7 338.9h.7M87.8 346.5h.7M103.9 344.4h.7M95.3 341.2h.7M85.1 352.2h.7M93.5 341.4h.7M93.6 336.8h.7M78.5 343.0h.7M98.9 342.9h.7M89.4 345.0h.7M86.9 340.8h.7M109.6 335.4h.7M100.3 333.1h.7M89.2 344.8h.7M88.3 342.7h.7M97.7 336.6h.7M92.9 342.2h.7M99.1 345.6h.7M102.3 338.4h.7M90.0 336.3h.7M99.5 340.9h.7M90.1 347.1h.7M100.6 342.7h.7M98.4 345.9h.7M111.8 344.3h.7M79.9 344.4h.7M86.7 342.1h.7M97.4 340.0h.7M90.6 348.9h.7M95.8 340.6h.7M104.3 342.6h.7M86.1 331.7h.7M97.0 339.5h.7M88.6 336.8h.7M88.7 342.1h.7M104.2 335.0h.7M102.9 340.1h.7M93.7 342.9h.7M97.8 343.6h.7M92.3 337.3h.7M101.6 334.3h.7M102.1 344.6h.7M104.6 333.8h.7M76.1 345.7h.7M85.2 336.3h.7M94.5 343.4h.7M96.8 335.9h.7M84.3 342.7h.7M101.0 339.3h.7M100.6 342.4h.7M84.9 334.8h.7M107.7 342.2h.7M101.9 340.0h.7M92.6 342.1h.7M96.4 341.1h.7M99.2 337.9h.7M103.2 340.0h.7M88.4 340.5h.7M95.0 342.7h.7M92.9 338.9h.7M104.6 340.3h.7M90.1 337.6h.7M98.8 345.7h.7M105.9 343.3h.7M106.4 342.0h.7M109.5 346.6h.7M96.7 342.8h.7M111.6 333.4h.7M93.7 341.3h.7M94.7 340.1h.7M106.9 351.9h.7M85.8 341.4h.7M85.3 338.8h.7M89.7 337.5h.7M106.4 341.4h.7M86.9 347.6h.7M80.7 350.8h.7M104.2 345.8h.7M110.5 338.7h.7M107.1 341.3h.7M102.3 339.2h.7M95.5 350.5h.7M99.0 337.0h.7M92.3 335.6h.7M98.8 339.9h.7M103.4 336.7h.7M95.9 340.0h.7M92.9 343.2h.7M101.1 346.1h.7M99.2 339.4h.7M95.7 338.1h.7M88.7 336.1h.7M94.6 341.4h.7M81.6 346.4h.7M103.4 347.7h.7M102.4 337.3h.7M104.1 342.7h.7M92.3 335.2h.7M92.6 339.2h.7M87.9 346.7h.7M92.0 337.0h.7M96.2 342.1h.7M101.4 346.0h.7M94.7 343.8h.7M104.5 337.5h.7M98.7 345.0h.7M104.3 338.5h.7M106.6 340.9h.7M89.9 337.1h.7M100.0 346.2h.7M93.3 344.3h.7M101.9 342.8h.7M106.1 346.9h.7M90.0 347.1h.7M91.6 346.0h.7M97.4 333.3h.7M105.6 340.6h.7M83.0 342.9h.7M102.3 348.4h.7M104.9 337.1h.7M100.0 345.3h.7M93.0 337.2h.7M97.6 338.0h.7M93.6 346.3h.7M90.7 337.2h.7M97.4 334.6h.7M98.3 339.3h.7M87.7 341.7h.7M83.0 346.7h.7M93.3 337.6h.7M91.1 339.4h.7M102.6 340.6h.7M99.4 342.2h.7M100.3 343.9h.7M108.3 342.0h.7M102.4 350.6h.7M91.9 340.5h.7M80.6 347.2h.7M108.5 339.2h.7M106.8 335.6h.7M91.8 340.3h.7M94.4 344.4h.7M95.7 333.1h.7M97.6 336.4h.7M91.1 346.1h.7M94.5 339.4h.7M107.3 330.9h.7M101.8 344.5h.7M82.7 344.0h.7M104.4 335.3h.7M95.4 351.1h.7M98.5 339.3h.7M107.9 338.3h.7M91.9 337.5h.7M74.4 344.5h.7M97.0 335.3h.7M104.9 350.6h.7M111.5 331.2h.7M105.9 346.6h.7M107.6 340.4h.7M107.8 337.2h.7M92.3 335.9h.7M80.2 342.1h.7M84.5 334.5h.7M97.8 343.2h.7M99.1 339.9h.7M101.5 345.6h.7M98.0 339.3h.7M95.0 347.2h.7M105.2 338.9h.7M102.1 345.5h.7M98.4 345.3h.7M104.3 339.4h.7M98.9 341.1h.7M92.8 341.5h.7M99.7 333.4h.7M79.7 338.3h.7M89.8 340.1h.7M88.3 335.1h.7M100.0 342.9h.7M96.2 342.1h.7M82.3 342.6h.7M97.5 339.5h.7M104.7 338.4h.7M103.3 338.4h.7M94.3 344.4h.7M96.1 341.2h.7M105.7 344.6h.7M95.1 337.3h.7M104.7 340.8h.7M100.3 354.9h.7M95.5 337.2h.7M99.1 339.9h.7M102.0 340.9h.7M85.9 345.8h.7M88.0 338.2h.7M101.3 334.3h.7M110.3 343.4h.7M110.2 342.7h.7M86.1 342.8h.7M85.8 339.0h.7M100.8 344.9h.7M96.4 341.8h.7M85.2 333.4h.7M98.9 337.6h.7M84.8 335.5h.7M91.4 339.6h.7M94.7 339.8h.7M85.5 337.7h.7M102.7 347.9h.7M108.9 336.9h.7M104.4 342.0h.7M90.8 340.7h.7M100.4 348.4h.7M91.3 334.9h.7M111.7 338.6h.7M87.3 349.1h.7M90.2 343.2h.7M94.3 343.6h.7M107.6 346.4h.7M86.8 339.8h.7M88.9 339.8h.7M90.5 335.5h.7M109.3 336.9h.7M88.0 337.1h.7M97.1 345.3h.7M96.3 342.4h.7M91.0 350.4h.7M94.2 344.7h.7M100.9 343.2h.7M93.7 339.4h.7M111.0 344.6h.7M85.8 338.8h.7M93.7 344.3h.7M98.8 342.8h.7M91.4 337.5h.7M83.7 352.2h.7M97.3 343.4h.7M100.9 331.8h.7M99.1 342.7h.7M98.4 341.6h.7M96.8 346.7h.7M104.5 331.4h.7M105.1 341.6h.7M89.1 345.8h.7M103.9 335.6h.7M88.7 339.7h.7M97.5 339.0h.7M88.4 335.6h.7M99.8 341.4h.7M104.2 349.3h.7M92.9 339.8h.7M103.2 338.9h.7M103.9 340.2h.7M100.5 332.0h.7M104.7 342.2h.7M97.5 343.5h.7M109.9 340.6h.7M97.7 344.0h.7M110.4 346.1h.7M97.7 337.6h.7M97.5 345.2h.7M102.3 347.3h.7M84.8 342.6h.7M103.8 339.7h.7M101.0 345.6h.7M92.6 336.9h.7M89.4 338.2h.7M94.0 340.9h.7M85.4 339.6h.7M111.0 342.1h.7M102.8 340.4h.7M96.9 347.3h.7M111.1 338.8h.7M88.0 341.6h.7M85.6 339.8h.7M107.8 348.5h.7M100.2 337.5h.7M90.6 335.5h.7M95.7 337.4h.7M96.3 343.9h.7M82.6 340.8h.7M94.7 338.5h.7M82.6 338.7h.7M88.0 344.7h.7M109.8 339.6h.7M100.2 341.3h.7M104.9 341.3h.7M85.0 337.1h.7M105.7 338.0h.7M74.8 344.9h.7M88.8 339.9h.7M92.8 345.2h.7M90.2 333.0h.7M101.5 347.7h.7M105.5 339.7h.7M97.5 343.8h.7M97.0 343.0h.7M87.3 333.8h.7M102.9 345.1h.7M108.8 339.6h.7M89.3 334.9h.7M102.5 341.8h.7M100.4 343.2h.7M97.4 349.8h.7M81.8 345.1h.7M84.4 338.5h.7M105.6 355.1h.7M105.0 336.9h.7M98.1 348.5h.7M87.3 339.2h.7M80.3 337.8h.7M102.2 350.3h.7M89.7 330.9h.7M97.8 342.6h.7M92.5 340.3h.7M107.3 334.8h.7M107.5 348.6h.7M87.8 342.7h.7M91.0 336.8h.7M87.8 338.1h.7M103.4 337.3h.7M87.2 343.6h.7M87.4 341.6h.7M100.0 343.7h.7M99.6 351.4h.7M99.3 338.5h.7M96.0 341.7h.7M86.5 346.9h.7M89.6 345.7h.7M96.3 337.6h.7M97.0 343.3h.7M102.3 342.7h.7M89.3 343.3h.7M92.7 339.4h.7M111.2 348.9h.7M103.3 342.5h.7M87.6 332.5h.7M101.5 337.5h.7M99.9 335.5h.7M105.4 336.7h.7M111.0 348.1h.7M95.2 334.8h.7M93.0 345.1h.7M105.8 345.9h.7M105.0 343.1h.7M111.9 344.7h.7M99.0 348.4h.7M97.0 335.4h.7M93.8 335.1h.7M87.9 341.1h.7M91.8 345.6h.7M71.7 339.3h.7M111.8 339.1h.7M99.3 346.0h.7M97.8 338.1h.7M99.3 338.8h.7M102.1 343.0h.7M109.3 332.8h.7M90.3 341.5h.7M110.6 337.5h.7M105.3 340.0h.7M91.9 335.3h.7M85.0 340.9h.7M80.9 342.9h.7M84.1 342.4h.7M111.1 336.1h.7M98.7 349.3h.7M85.8 345.5h.7M106.8 340.8h.7M92.4 345.4h.7M93.5 337.9h.7M103.3 338.7h.7M99.0 340.9h.7M100.8 337.6h.7M96.9 337.8h.7M91.8 338.8h.7M98.1 347.3h.7M101.7 342.4h.7M94.4 345.7h.7M102.2 343.9h.7M97.3 345.2h.7M100.6 339.5h.7M106.4 345.1h.7M106.4 341.7h.7M81.6 339.5h.7M98.5 334.9h.7M101.0 336.0h.7M105.1 334.6h.7M81.8 338.7h.7M93.4 341.9h.7M108.8 341.6h.7M111.2 344.1h.7M98.7 343.4h.7M100.5 341.3h.7M89.5 338.2h.7M97.8 344.5h.7M107.5 333.5h.7M111.2 343.7h.7M88.2 344.8h.7M95.3 347.8h.7M88.9 340.1h.7M95.0 335.7h.7M100.9 343.0h.7M109.1 338.2h.7M101.7 337.2h.7M87.6 343.3h.7M91.7 341.5h.7M102.2 335.7h.7M105.5 340.3h.7M97.9 341.7h.7M93.9 350.8h.7M86.1 334.2h.7M82.0 340.5h.7M96.5 343.9h.7M108.9 344.8h.7M88.9 344.3h.7M101.1 346.8h.7M86.3 337.5h.7M109.3 347.5h.7M90.1 339.8h.7M96.2 340.4h.7M101.1 338.2h.7M103.6 342.1h.7M83.4 348.1h.7M92.2 344.9h.7M108.6 340.4h.7M100.9 340.0h.7M107.5 335.6h.7M92.6 343.2h.7M92.4 340.1h.7M104.9 344.5h.7M85.8 338.0h.7M84.2 344.6h.7M97.6 344.3h.7M89.9 333.7h.7M80.2 337.1h.7M78.9 340.7h.7M101.7 342.4h.7M104.5 344.1h.7M87.5 344.5h.7M99.8 349.0h.7M101.2 342.2h.7M100.8 340.3h.7M99.4 353.3h.7M107.5 348.0h.7M103.5 342.4h.7M78.5 336.9h.7M103.6 341.4h.7M99.1 337.6h.7M102.0 341.7h.7M100.9 337.2h.7M85.6 342.3h.7M92.1 336.9h.7M109.8 345.5h.7M107.1 339.4h.7M99.8 348.8h.7M99.1 339.5h.7M107.3 339.1h.7M90.5 344.1h.7M98.5 348.8h.7M102.9 341.2h.7M90.9 339.4h.7M98.9 338.4h.7M92.9 347.1h.7M96.1 335.6h.7M109.0 331.8h.7M98.0 347.6h.7M91.2 353.0h.7M89.1 341.5h.7M111.4 337.6h.7M87.9 342.4h.7M96.1 343.9h.7M93.5 343.7h.7M97.9 343.0h.7M106.3 344.9h.7M90.3 341.2h.7M105.0 341.2h.7M83.6 349.5h.7M79.8 339.4h.7M102.9 341.7h.7M86.7 337.5h.7M103.6 341.3h.7M93.3 340.4h.7M93.0 341.0h.7M95.7 344.5h.7M101.7 341.6h.7M100.6 337.4h.7M82.2 344.3h.7M104.2 339.3h.7M90.8 344.4h.7M98.8 341.1h.7M103.1 350.7h.7M87.0 332.6h.7M86.7 347.5h.7M108.7 342.0h.7M79.8 346.0h.7M103.9 339.6h.7M98.8 346.6h.7M81.3 344.2h.7M102.2 345.0h.7M101.2 341.4h.7M92.0 343.5h.7M104.0 334.5h.7M109.1 347.8h.7M102.2 341.9h.7M84.2 340.1h.7M92.8 341.4h.7M82.6 343.8h.7M94.3 338.1h.7M87.7 336.9h.7M89.2 340.9h.7M84.2 339.4h.7M100.9 346.7h.7M94.5 338.4h.7M87.5 343.3h.7M88.9 337.7h.7M109.4 337.0h.7M91.5 336.6h.7M81.0 343.5h.7M110.7 352.4h.7M93.6 347.3h.7M102.8 340.7h.7M89.3 336.6h.7M93.6 338.4h.7M107.4 344.3h.7M86.1 333.5h.7M98.4 339.7h.7M104.6 343.7h.7M84.7 334.3h.7M86.8 342.3h.7M109.8 335.8h.7M97.7 340.5h.7M93.7 344.3h.7M96.1 339.0h.7M98.5 346.8h.7M101.1 340.9h.7M100.3 345.8h.7M106.1 341.3h.7M89.7 346.6h.7M95.2 341.6h.7M89.5 341.7h.7M96.2 343.5h.7M94.0 335.0h.7M83.8 335.4h.7M91.4 337.9h.7M81.4 341.6h.7M87.3 341.1h.7M93.3 348.2h.7M89.9 348.5h.7M106.3 342.5h.7M74.3 351.1h.7M103.6 339.3h.7M102.9 341.9h.7M87.5 338.7h.7M83.3 341.4h.7M104.2 343.7h.7M96.6 338.8h.7M105.2 344.1h.7M93.6 334.4h.7M102.2 339.8h.7M102.3 344.3h.7M97.0 339.5h.7M95.8 337.6h.7M104.2 338.6h.7M87.2 342.8h.7M86.6 348.9h.7M96.1 341.0h.7M109.6 341.3h.7M95.8 337.2h.7M104.4 344.2h.7M97.8 345.0h.7M93.4 346.6h.7M90.0 336.0h.7M87.5 349.4h.7M82.0 341.1h.7M85.7 338.0h.7M96.9 351.9h.7M105.7 344.3h.7M108.3 345.8h.7M104.2 342.7h.7M110.9 348.1h.7M102.5 343.6h.7M96.0 346.0h.7M93.7 349.1h.7M88.4 343.0h.7M92.7 340.0h.7M97.4 338.0h.7M94.6 338.6h.7M90.3 339.5h.7M101.7 342.7h.7M105.5 333.8h.7M100.3 335.9h.7M93.7 337.7h.7M98.1 337.7h.7M88.1 346.7h.7M89.6 344.1h.7M94.3 338.4h.7M103.6 341.1h.7M100.7 341.4h.7M96.5 334.7h.7M103.5 347.3h.7M89.5 345.4h.7M88.9 338.5h.7M89.5 343.5h.7M99.0 347.5h.7M96.7 339.7h.7M109.5 339.3h.7M104.0 336.3h.7M107.3 340.5h.7M104.5 351.6h.7M88.3 345.2h.7M92.7 337.0h.7M103.7 339.6h.7M98.5 346.4h.7M104.6 349.6h.7M105.1 341.9h.7M99.6 338.0h.7M104.0 339.3h.7M86.8 348.2h.7M93.4 337.2h.7M86.8 345.5h.7M95.0 339.1h.7M97.7 347.7h.7M101.6 344.0h.7M97.2 346.6h.7M84.4 342.3h.7M98.8 345.7h.7M96.3 338.3h.7M96.6 342.0h.7M75.2 347.2h.7M106.4 339.8h.7M90.7 344.9h.7M100.5 338.2h.7M84.9 341.6h.7M94.4 342.2h.7M111.3 330.9h.7M85.7 345.3h.7M111.1 339.2h.7M96.3 336.6h.7M104.9 339.0h.7M83.1 341.2h.7M104.0 341.0h.7M108.9 340.2h.7M86.4 337.1h.7M86.5 345.9h.7M90.3 337.6h.7M104.3 343.9h.7M93.9 340.1h.7M71.7 341.8h.7M105.0 344.6h.7M100.5 337.0h.7M92.1 338.5h.7M94.3 339.6h.7M91.4 343.1h.7M89.6 332.2h.7M96.9 338.9h.7M105.7 339.5h.7M97.0 339.1h.7M110.2 340.4h.7M84.0 332.5h.7M94.8 345.9h.7M81.2 334.0h.7M100.2 339.4h.7M93.1 342.2h.7M79.7 338.3h.7M97.2 341.0h.7M87.6 337.5h.7M91.4 337.8h.7M84.7 339.2h.7M94.5 337.4h.7M103.3 334.3h.7M92.4 347.1h.7M99.5 341.1h.7M99.9 336.5h.7M80.4 334.5h.7M89.0 337.0h.7M95.9 341.7h.7M91.8 342.3h.7M99.2 332.8h.7M94.5 345.2h.7M96.5 338.6h.7M108.7 349.1h.7M93.7 347.0h.7M90.4 341.0h.7M92.0 338.1h.7M98.7 346.1h.7M94.6 341.2h.7M106.2 343.6h.7M89.2 339.9h.7M93.1 345.1h.7M103.4 337.4h.7M81.3 339.1h.7M96.6 346.7h.7M91.0 343.8h.7M103.8 334.0h.7M105.0 333.8h.7M97.9 347.2h.7M101.0 338.4h.7M95.3 335.3h.7M90.3 333.8h.7M101.7 339.3h.7M90.2 345.4h.7M79.2 339.8h.7M111.0 342.8h.7M101.3 342.2h.7M91.0 349.9h.7M92.0 339.5h.7M72.9 331.7h.7M87.3 342.4h.7M96.8 342.7h.7M95.7 343.2h.7M104.8 336.0h.7M99.9 349.2h.7M91.3 341.5h.7M105.5 338.9h.7M106.9 333.1h.7M104.5 346.0h.7M90.9 342.9h.7M105.5 341.3h.7M101.0 351.4h.7M102.7 337.2h.7M87.1 342.4h.7M101.5 336.8h.7M105.9 340.1h.7M82.8 337.9h.7M100.1 341.7h.7M93.3 341.5h.7M106.3 340.5h.7M90.0 338.1h.7M95.0 345.2h.7M85.4 339.9h.7M101.8 347.7h.7M84.2 344.6h.7M89.6 334.0h.7M94.8 343.4h.7M102.9 343.1h.7M87.9 346.1h.7M98.5 346.4h.7M87.9 338.6h.7M86.2 340.5h.7M83.2 346.8h.7M101.5 343.2h.7M95.4 339.9h.7M91.3 342.0h.7M79.7 340.0h.7M84.4 353.3h.7M86.0 343.2h.7M103.9 339.6h.7M94.2 335.7h.7M108.3 338.9h.7M95.2 342.1h.7M84.9 333.0h.7M102.2 333.0h.7M84.6 344.9h.7M83.1 338.7h.7M98.0 337.6h.7M97.4 332.5h.7M97.7 344.9h.7M110.1 331.8h.7M94.0 344.9h.7M105.6 346.4h.7M98.2 341.9h.7M78.4 346.9h.7M108.4 337.9h.7M94.4 348.3h.7M97.8 344.4h.7M99.6 344.5h.7M86.5 340.2h.7M109.2 347.1h.7M95.1 345.9h.7M88.5 339.7h.7M99.7 340.2h.7M97.5 341.2h.7M108.2 345.9h.7M106.7 347.0h.7M89.3 338.8h.7M98.3 337.2h.7M92.5 347.8h.7M100.9 346.2h.7M105.8 339.1h.7M103.1 348.0h.7M97.2 344.5h.7M99.5 345.9h.7M89.6 342.8h.7M86.8 341.4h.7M98.5 335.2h.7M104.0 342.3h.7M74.1 331.5h.7M107.6 340.1h.7M105.1 337.3h.7M101.6 340.7h.7M97.2 336.6h.7M100.0 342.1h.7M94.9 340.4h.7M95.1 343.8h.7M89.9 341.5h.7M85.5 334.0h.7M108.4 339.9h.7M100.2 338.2h.7M97.2 341.8h.7M75.7 335.6h.7M74.9 338.6h.7M95.3 339.6h.7M86.3 337.0h.7M99.3 338.1h.7M109.8 334.4h.7M95.9 345.2h.7M91.6 348.9h.7M100.9 336.0h.7M91.8 338.6h.7M97.0 343.8h.7M91.0 344.2h.7M98.5 331.8h.7M91.1 335.7h.7M77.5 348.9h.7M97.6 344.8h.7M95.0 338.6h.7M98.2 340.5h.7M88.1 336.5h.7M98.0 339.1h.7M93.3 338.6h.7M104.8 333.5h.7M95.5 347.8h.7M87.8 338.8h.7M105.1 348.0h.7M110.8 335.2h.7M108.3 345.3h.7M83.4 349.7h.7M97.9 340.9h.7M86.4 342.5h.7M101.0 335.4h.7M91.3 341.3h.7M110.6 339.2h.7M104.9 341.5h.7M81.6 343.3h.7M102.8 334.2h.7M93.9 343.9h.7M100.5 342.4h.7M105.0 345.6h.7M92.3 347.8h.7M106.4 341.6h.7M92.0 338.2h.7M110.0 341.8h.7M75.7 347.8h.7M103.2 348.4h.7M91.3 347.7h.7M106.7 341.7h.7M94.5 342.1h.7M100.6 345.4h.7M98.5 352.8h.7M107.9 337.8h.7M80.8 341.3h.7M78.8 342.1h.7M108.3 339.6h.7M106.2 340.9h.7M89.9 339.1h.7M83.8 338.1h.7M100.6 349.4h.7M95.6 346.8h.7M95.8 342.6h.7M101.7 343.5h.7M84.8 334.1h.7M84.6 332.9h.7M98.9 340.0h.7M90.3 346.3h.7M85.1 337.3h.7M99.6 339.6h.7M94.7 342.1h.7M90.1 331.5h.7M108.6 343.0h.7M100.7 338.2h.7M86.0 337.2h.7M90.0 339.3h.7M101.8 349.3h.7M111.7 338.7h.7M94.5 340.3h.7M100.6 336.6h.7M105.4 337.0h.7M95.4 337.6h.7M101.6 341.0h.7M98.9 338.4h.7M98.6 342.6h.7M94.7 349.6h.7M101.6 335.7h.7M93.9 337.4h.7M105.6 343.5h.7M104.7 337.9h.7M91.1 336.2h.7M104.2 333.7h.7M106.9 337.2h.7M92.7 340.7h.7M87.2 341.8h.7M84.1 346.8h.7M83.3 339.3h.7M100.4 339.8h.7M94.4 336.6h.7M77.5 339.0h.7M94.2 334.7h.7M97.2 339.4h.7M100.8 334.2h.7M90.5 347.3h.7M102.0 345.0h.7M93.0 343.4h.7M104.3 340.3h.7M110.3 340.8h.7M110.6 344.3h.7M99.6 333.0h.7M101.3 349.6h.7M91.2 339.8h.7M94.9 345.8h.7M87.0 344.5h.7M92.1 342.9h.7M93.4 339.7h.7M84.9 346.6h.7M96.1 343.0h.7M105.9 336.0h.7M78.5 341.9h.7M109.7 337.7h.7M98.7 345.8h.7M94.7 339.8h.7M103.7 341.8h.7M97.8 340.8h.7M92.2 335.0h.7M97.6 345.5h.7M99.6 344.4h.7M88.7 348.8h.7M105.8 345.5h.7M107.3 339.5h.7M104.4 346.5h.7M93.1 334.9h.7M99.3 344.0h.7M110.5 333.9h.7M84.9 340.5h.7M82.5 344.4h.7M99.1 340.6h.7M97.2 350.7h.7M98.3 340.9h.7M96.9 335.9h.7M97.8 338.5h.7M92.1 334.0h.7M86.6 334.9h.7M98.3 341.4h.7M93.3 338.7h.7M98.8 338.3h.7M93.7 342.7h.7M106.0 337.6h.7M95.2 345.2h.7M93.4 335.8h.7M83.3 355.0h.7M79.7 335.1h.7M90.6 346.0h.7M92.4 347.2h.7M92.1 347.9h.7M83.8 338.6h.7M77.7 349.5h.7M102.9 330.3h.7M107.0 333.1h.7M93.1 345.6h.7M78.1 335.5h.7M81.9 340.8h.7M103.9 343.9h.7M86.1 339.3h.7M88.1 334.5h.7M99.0 343.8h.7M88.7 347.5h.7M83.8 335.2h.7M75.5 347.3h.7M91.2 352.6h.7M95.2 349.8h.7M98.2 348.7h.7M75.2 329.7h.7M94.0 356.9h.7M72.4 347.6h.7M102.8 340.6h.7M97.3 333.1h.7M88.1 336.3h.7M99.2 333.8h.7M96.3 356.2h.7M78.1 339.3h.7M73.6 353.1h.7M77.9 348.4h.7M101.2 353.0h.7M84.4 342.1h.7M96.3 341.1h.7M93.6 350.0h.7M74.9 336.9h.7M109.7 332.0h.7M106.0 346.3h.7M93.7 342.0h.7M80.3 347.3h.7M95.9 345.5h.7M88.2 341.7h.7M111.1 329.8h.7M103.9 335.2h.7M72.6 337.8h.7M87.6 343.4h.7M104.6 332.4h.7M88.1 341.5h.7M76.4 334.7h.7M88.9 336.8h.7M80.2 338.0h.7M93.8 349.0h.7M93.9 342.4h.7M104.7 337.8h.7M85.0 345.3h.7M103.4 337.6h.7M96.1 345.8h.7M76.4 337.7h.7M90.2 339.9h.7M80.4 343.4h.7M72.0 338.5h.7M111.9 346.8h.7M84.7 350.9h.7M88.1 349.0h.7M95.6 347.0h.7M81.0 330.7h.7M105.5 350.4h.7M99.4 334.1h.7M76.4 345.5h.7M91.1 340.4h.7M96.0 338.2h.7M88.6 344.6h.7M91.9 346.0h.7M73.7 335.7h.7M103.0 341.2h.7M104.2 330.9h.7M103.3 353.2h.7M100.2 340.3h.7M98.2 336.3h.7M88.5 353.8h.7M88.8 353.9h.7M108.0 347.4h.7M94.5 348.2h.7M101.7 339.0h.7M85.7 337.4h.7M101.6 336.1h.7M84.6 357.0h.7M103.6 356.7h.7M93.7 342.6h.7M98.4 345.1h.7M74.9 348.0h.7M94.5 337.4h.7M97.8 338.7h.7M97.6 352.6h.7M106.9 333.6h.7M106.6 345.0h.7M96.0 331.1h.7M99.4 333.3h.7M74.6 342.5h.7M106.6 340.4h.7M86.1 347.2h.7M94.5 352.5h.7M88.5 355.5h.7M85.2 339.7h.7M91.8 340.0h.7M97.5 341.8h.7M87.7 346.4h.7M84.1 333.0h.7M81.3 334.8h.7M83.9 346.1h.7M80.6 355.7h.7M108.1 348.7h.7M95.6 353.7h.7M82.3 341.1h.7M92.0 349.0h.7M92.4 340.6h.7M75.4 339.0h.7M105.4 345.3h.7M87.5 339.1h.7M89.5 347.9h.7M89.3 350.5h.7M88.5 350.5h.7M96.2 339.6h.7M89.4 343.7h.7M72.0 346.1h.7M95.4 349.3h.7M73.1 339.4h.7M81.9 348.2h.7M97.6 340.0h.7M94.6 336.0h.7M99.5 344.4h.7M93.0 352.9h.7M87.8 340.9h.7M85.6 350.0h.7M100.2 350.3h.7M73.0 335.1h.7M75.5 345.9h.7M91.0 347.4h.7M89.9 341.1h.7M105.4 331.5h.7M95.5 341.2h.7M83.9 343.1h.7M105.2 352.1h.7M89.8 331.9h.7M104.7 355.5h.7M105.1 355.1h.7M95.6 348.8h.7M93.4 335.1h.7M107.1 345.7h.7M91.4 356.8h.7M97.3 338.3h.7M73.4 346.2h.7M96.4 351.9h.7M96.3 343.1h.7M94.8 343.7h.7M100.1 353.7h.7M86.3 342.7h.7M94.6 346.5h.7M73.9 340.3h.7M97.3 343.2h.7M83.0 346.4h.7M99.4 349.5h.7M86.0 344.4h.7M95.0 329.7h.7M89.4 345.9h.7M104.8 347.1h.7M101.5 330.1h.7M86.9 341.1h.7M74.6 342.5h.7M91.4 341.9h.7M84.6 341.1h.7M88.2 353.7h.7M99.2 334.6h.7M86.0 351.3h.7M80.1 337.0h.7M104.9 342.1h.7M80.9 344.7h.7M88.5 350.1h.7M81.5 348.3h.7M100.9 344.2h.7M83.7 344.8h.7M100.1 343.3h.7M104.4 343.2h.7M80.5 336.7h.7M93.0 344.3h.7M83.6 344.9h.7M98.3 343.7h.7M99.7 353.6h.7M100.3 341.3h.7M75.1 349.6h.7M88.0 348.4h.7M72.9 337.5h.7M109.8 337.5h.7M110.2 343.6h.7M94.2 337.1h.7M92.5 350.7h.7M79.6 332.6h.7M89.8 346.1h.7M109.6 350.2h.7M83.1 344.9h.7M104.7 343.0h.7M86.5 348.0h.7M83.9 348.8h.7M111.7 349.7h.7M102.3 336.7h.7M75.7 333.0h.7M78.5 348.3h.7M101.1 345.6h.7M91.7 342.4h.7M91.7 337.7h.7M89.6 336.7h.7M84.9 343.4h.7M91.9 333.8h.7M90.8 352.9h.7M86.7 355.1h.7M101.3 349.4h.7M89.5 353.9h.7M99.4 344.5h.7M85.4 337.8h.7M87.3 337.1h.7M71.4 342.5h.7M96.0 338.7h.7M75.8 342.4h.7M91.0 341.2h.7M104.2 333.3h.7M100.7 340.4h.7M89.7 331.5h.7M89.7 343.2h.7M112.0 337.7h.7M108.0 354.6h.7M89.9 336.0h.7M92.6 339.1h.7M74.5 345.2h.7M83.9 345.7h.7M110.4 330.9h.7M79.7 336.1h.7M75.4 335.9h.7M94.4 345.9h.7M89.6 354.0h.7M97.7 339.5h.7M89.6 341.8h.7M92.5 339.8h.7M92.4 342.5h.7M96.0 341.5h.7M93.7 341.7h.7M76.6 350.3h.7M93.7 342.7h.7M77.9 334.1h.7M89.2 349.1h.7M105.2 341.7h.7M85.7 347.3h.7M76.8 331.5h.7M86.0 338.2h.7M108.1 332.6h.7M82.8 335.4h.7M74.0 348.1h.7M78.7 338.7h.7M89.2 336.6h.7M100.1 347.1h.7M85.8 347.5h.7M85.8 356.0h.7M72.5 351.3h.7M90.3 343.6h.7M82.0 335.2h.7M100.5 336.8h.7M104.1 330.5h.7M102.5 356.8h.7M107.5 342.9h.7M87.9 348.7h.7M92.1 347.3h.7M84.9 329.4h.7M93.6 345.2h.7M94.1 344.8h.7M91.1 329.1h.7M87.8 348.5h.7M86.5 342.7h.7M83.7 349.7h.7M111.8 332.8h.7M101.8 342.8h.7M100.8 335.1h.7M89.6 346.2h.7M92.8 334.7h.7M77.8 354.6h.7M76.3 335.6h.7M104.9 352.5h.7M88.4 345.4h.7M98.7 340.5h.7M94.8 340.2h.7M104.0 346.5h.7M107.2 340.9h.7M80.6 344.9h.7M92.6 333.7h.7M93.4 335.7h.7M86.7 349.8h.7M83.2 338.7h.7M104.2 336.8h.7M79.5 356.7h.7M78.1 353.7h.7M84.5 336.9h.7M90.8 344.6h.7M94.8 338.5h.7M83.2 343.0h.7M101.2 333.8h.7M97.1 342.2h.7M99.7 345.1h.7M77.6 353.1h.7M101.3 330.8h.7M94.2 339.2h.7M90.5 348.7h.7M78.7 343.6h.7M95.1 335.6h.7M94.8 349.4h.7M111.7 351.5h.7M81.4 337.4h.7M96.7 338.4h.7M76.3 352.3h.7M84.9 339.6h.7M87.7 341.2h.7M95.0 340.4h.7M72.4 333.1h.7M93.4 332.7h.7M105.8 349.9h.7M73.7 350.6h.7M88.1 339.4h.7M86.7 339.7h.7M105.9 347.5h.7M105.8 337.7h.7M80.6 339.9h.7M106.7 336.7h.7M75.2 335.9h.7M100.3 342.1h.7M110.4 345.4h.7M95.2 338.1h.7M84.5 343.7h.7M108.9 338.8h.7M102.7 343.7h.7M84.1 350.0h.7M87.5 342.9h.7M98.1 332.8h.7M86.5 339.0h.7M91.5 343.5h.7M79.2 351.1h.7M94.2 342.1h.7M77.2 352.6h.7M92.6 348.7h.7M82.6 351.2h.7M76.1 337.2h.7M90.6 351.0h.7M80.5 341.0h.7M82.9 350.3h.7M97.5 343.8h.7M85.2 341.7h.7M76.3 345.6h.7M83.1 349.3h.7M103.7 346.1h.7M95.6 343.9h.7M82.0 343.2h.7M95.9 333.4h.7M100.8 339.5h.7M108.5 347.9h.7M95.7 339.9h.7M85.4 341.3h.7M106.6 342.1h.7M86.2 339.7h.7M78.5 340.4h.7M84.5 345.6h.7M73.8 342.7h.7M95.8 351.3h.7M99.9 349.6h.7M103.4 337.1h.7M89.1 352.8h.7M76.1 341.5h.7M98.2 351.1h.7M86.5 337.4h.7M104.6 353.4h.7M86.1 348.1h.7M109.6 336.9h.7M78.0 350.3h.7M103.9 335.2h.7M95.5 344.2h.7M95.6 336.2h.7M94.1 345.6h.7M80.6 330.4h.7M81.6 352.2h.7M103.3 341.0h.7M90.7 342.5h.7M105.2 343.1h.7M95.0 339.3h.7M89.6 333.1h.7M98.0 339.4h.7M72.4 349.5h.7M81.6 350.2h.7M104.3 340.2h.7M92.9 340.5h.7M102.9 335.3h.7M101.6 339.3h.7M104.5 340.8h.7M82.8 341.4h.7M103.5 350.1h.7M107.9 351.3h.7M95.2 334.6h.7M110.8 347.6h.7M100.2 344.3h.7M109.7 338.6h.7M97.2 340.7h.7M100.8 341.0h.7M110.6 347.2h.7M89.5 343.1h.7M73.9 342.5h.7M89.7 341.0h.7M88.1 340.3h.7M90.2 353.1h.7M101.1 334.1h.7M105.3 340.6h.7M86.6 342.7h.7M102.1 345.8h.7M105.8 337.1h.7M91.0 352.9h.7M95.7 341.2h.7M103.4 346.3h.7M78.3 338.1h.7M92.8 352.9h.7M94.9 352.4h.7M87.1 336.2h.7M76.5 350.8h.7M84.8 338.7h.7M83.7 338.0h.7M107.0 336.9h.7M95.3 347.4h.7M90.2 334.4h.7M74.4 341.2h.7M72.9 329.5h.7M86.2 348.2h.7M77.9 348.2h.7M87.2 342.4h.7M83.3 350.4h.7M93.3 336.8h.7M104.5 346.5h.7M103.3 335.6h.7M82.6 332.3h.7M72.2 346.9h.7M101.8 347.1h.7M98.5 342.8h.7M93.3 334.6h.7M107.0 352.9h.7M101.3 332.8h.7M75.7 338.8h.7M102.2 335.6h.7M91.9 345.8h.7M111.8 339.7h.7M101.9 340.7h.7M110.3 349.5h.7M94.9 339.1h.7M83.5 333.8h.7M97.0 342.1h.7M89.9 349.1h.7M84.4 339.3h.7M74.5 336.7h.7M94.3 351.9h.7M91.7 344.2h.7M101.1 339.0h.7M100.9 347.5h.7M77.8 344.9h.7M74.1 337.3h.7M105.0 338.8h.7M78.6 341.2h.7M93.5 355.9h.7M104.1 338.7h.7M80.7 338.4h.7M98.7 348.6h.7M79.6 349.8h.7M96.3 344.5h.7M88.9 343.4h.7M94.6 355.1h.7M86.5 352.6h.7M89.7 343.6h.7M102.5 344.5h.7M101.9 344.9h.7M101.8 341.4h.7M76.0 344.2h.7M94.4 351.0h.7M104.5 347.4h.7M86.2 332.7h.7M96.6 349.3h.7M105.2 347.6h.7M90.6 337.0h.7M85.3 344.6h.7M102.6 338.0h.7M90.3 337.5h.7M103.5 347.9h.7M80.9 348.2h.7M92.1 335.9h.7M78.8 333.3h.7M95.3 355.2h.7M91.3 352.2h.7M87.5 339.1h.7M74.5 343.2h.7M79.0 341.0h.7M81.4 345.4h.7M96.5 333.3h.7M82.1 350.6h.7M109.9 335.4h.7M89.2 346.4h.7M84.5 352.6h.7M93.8 337.1h.7M79.4 350.1h.7M91.4 333.0h.7M88.9 349.3h.7M76.1 346.5h.7M102.9 343.5h.7M104.7 346.1h.7M75.1 347.2h.7M87.5 338.4h.7M105.0 353.8h.7M77.6 343.0h.7M82.7 357.0h.7M109.6 343.1h.7M97.6 339.8h.7M90.5 339.8h.7M95.8 335.7h.7M106.4 342.5h.7M77.4 348.6h.7M100.3 335.5h.7M92.3 344.8h.7M86.1 355.8h.7M82.0 335.9h.7M109.4 352.1h.7M94.4 334.2h.7M92.5 335.9h.7M88.3 350.0h.7M102.8 344.9h.7M105.6 345.2h.7M100.7 353.2h.7M76.0 329.1h.7M84.6 337.3h.7M88.3 350.1h.7M75.8 355.7h.7M71.6 354.9h.7M86.6 346.8h.7M100.5 339.1h.7M108.7 342.1h.7M95.2 338.6h.7M96.9 350.8h.7M99.0 341.8h.7M98.1 334.2h.7M75.0 348.3h.7M104.8 336.2h.7M100.8 339.1h.7M86.5 338.5h.7M79.9 343.4h.7M100.3 340.8h.7M92.0 350.3h.7M72.7 344.5h.7M85.7 355.4h.7M89.6 345.9h.7M95.7 347.1h.7M89.4 340.8h.7M80.5 343.7h.7M105.4 343.7h.7M77.0 337.8h.7M94.4 335.0h.7M82.7 340.0h.7M96.5 343.2h.7M87.3 355.2h.7M99.7 343.9h.7M79.4 343.2h.7M92.4 349.4h.7M86.1 347.2h.7M87.3 352.1h.7M99.5 344.1h.7M112.2 338.1h.7M84.5 350.6h.7M111.8 345.7h.7M75.5 346.1h.7M84.5 355.6h.7M85.1 338.5h.7M83.2 343.9h.7M96.2 348.2h.7M89.8 342.1h.7M73.2 348.0h.7M72.8 341.6h.7M86.2 331.8h.7M103.7 343.5h.7M81.5 344.1h.7M84.5 339.6h.7M90.8 346.9h.7M94.9 346.6h.7M107.6 355.0h.7M101.2 348.9h.7M72.3 357.0h.7M94.9 351.9h.7M85.4 341.3h.7M103.7 343.3h.7M112.0 337.5h.7M92.9 344.2h.7M82.1 351.5h.7M84.2 335.2h.7M107.8 351.2h.7M88.3 346.9h.7M98.5 352.2h.7M89.6 346.2h.7M86.2 348.0h.7M76.7 330.7h.7M87.7 353.3h.7M97.3 338.6h.7M88.8 345.0h.7M109.5 342.2h.7M86.2 333.0h.7M96.1 354.5h.7M94.3 336.3h.7M96.3 344.1h.7M84.5 344.6h.7M96.1 330.2h.7M71.5 334.1h.7M88.5 345.3h.7M80.0 350.6h.7M75.7 343.7h.7M85.5 345.4h.7M77.3 345.5h.7M79.5 330.4h.7M100.9 347.1h.7M91.2 354.1h.7M88.0 355.0h.7M96.7 342.8h.7M75.5 346.3h.7M79.7 346.5h.7M104.7 353.2h.7M101.9 334.3h.7M110.3 349.2h.7M97.9 344.5h.7M98.9 332.8h.7M90.2 345.7h.7M82.5 341.5h.7M97.8 344.4h.7M87.3 351.4h.7M88.7 332.1h.7M78.1 342.3h.7M101.2 337.6h.7M105.8 344.8h.7M102.1 356.5h.7M97.8 337.2h.7M98.9 346.0h.7M84.6 348.1h.7M98.9 341.2h.7M98.8 351.6h.7M92.2 350.7h.7M91.2 336.5h.7M79.1 332.9h.7M85.3 339.3h.7M84.1 344.2h.7M109.0 352.4h.7M84.8 355.8h.7M99.8 356.6h.7M102.2 341.9h.7M102.3 341.3h.7M71.6 351.9h.7M76.8 349.9h.7M79.4 355.6h.7M75.8 357.0h.7M80.8 341.3h.7M86.1 347.9h.7M99.3 356.8h.7M76.4 336.1h.7M77.2 357.1h.7M99.3 353.5h.7M86.3 355.3h.7M94.9 353.4h.7M97.9 332.4h.7M78.9 342.0h.7M107.1 352.3h.7M92.1 347.4h.7M95.9 345.1h.7M72.2 350.0h.7M98.9 349.6h.7M84.4 343.8h.7M79.4 353.8h.7M98.4 346.7h.7M78.8 346.3h.7M79.9 347.7h.7M109.4 336.1h.7M80.2 343.8h.7M109.4 349.9h.7M93.3 334.0h.7M104.1 339.7h.7M75.4 340.0h.7M105.2 346.7h.7M97.6 357.2h.7M97.3 346.0h.7M111.2 344.8h.7M106.1 349.0h.7M84.2 355.5h.7M94.6 352.7h.7M94.9 344.0h.7M81.3 354.9h.7M104.5 355.9h.7M90.4 348.8h.7M93.7 346.6h.7M91.2 338.8h.7M91.4 337.9h.7M111.0 334.6h.7M94.5 356.0h.7M99.0 340.0h.7M97.9 342.5h.7M103.5 337.1h.7M94.5 353.8h.7M81.7 342.4h.7M98.5 337.7h.7M109.1 336.4h.7M86.8 349.6h.7M76.3 350.0h.7M103.9 354.4h.7M72.5 340.4h.7M83.1 341.5h.7M80.4 342.7h.7M73.7 338.5h.7M73.9 332.7h.7M79.7 338.2h.7M78.5 338.4h.7M84.0 335.4h.7M73.7 336.8h.7M85.6 337.3h.7M79.0 350.4h.7M75.8 342.7h.7M75.7 347.5h.7M72.5 356.4h.7M98.8 335.2h.7M78.4 347.7h.7M83.3 344.9h.7M76.8 340.9h.7M97.7 341.6h.7M107.0 344.7h.7M87.8 350.8h.7M99.9 345.8h.7M108.2 347.0h.7M100.1 353.7h.7M83.9 355.6h.7M97.0 345.5h.7M101.9 341.8h.7M85.3 340.1h.7M88.4 348.3h.7M80.0 350.9h.7M81.5 337.9h.7M96.8 354.3h.7M88.4 343.9h.7M111.4 340.1h.7M99.7 356.5h.7M100.6 344.4h.7M110.7 350.3h.7M82.9 352.9h.7M86.5 348.6h.7M96.9 346.1h.7M86.0 342.3h.7M97.7 354.2h.7M83.9 351.8h.7M103.6 332.2h.7M92.5 348.6h.7M111.0 352.7h.7M86.5 351.4h.7M92.2 354.6h.7M106.2 350.7h.7M74.8 343.2h.7M72.3 333.6h.7M109.7 353.7h.7M110.3 355.1h.7M77.9 333.7h.7M104.1 345.3h.7M85.6 352.4h.7M85.8 348.2h.7M87.3 342.2h.7M76.5 356.1h.7M76.0 332.4h.7M93.8 337.9h.7M104.8 350.1h.7M107.4 332.0h.7M106.9 349.3h.7M82.7 340.5h.7M106.6 352.0h.7M93.7 344.9h.7M106.1 355.2h.7M94.6 333.4h.7M76.9 338.9h.7M98.9 356.6h.7M104.3 349.7h.7M108.0 335.5h.7M104.3 353.1h.7M91.7 355.4h.7M71.6 350.2h.7M105.7 347.6h.7M101.6 333.4h.7M107.5 348.5h.7M74.5 352.5h.7M110.9 336.2h.7M84.1 345.0h.7M83.6 346.9h.7M111.6 352.6h.7M106.4 333.4h.7M102.3 342.5h.7M106.9 349.6h.7M109.0 347.8h.7M85.8 339.9h.7M73.8 340.7h.7M104.4 347.7h.7M84.9 350.5h.7M81.3 332.5h.7M75.3 341.3h.7M103.0 336.6h.7M91.8 345.9h.7M108.8 336.5h.7M74.3 354.7h.7M105.0 349.4h.7M109.1 332.1h.7M79.2 338.3h.7M102.0 337.3h.7M99.8 337.3h.7M80.8 332.4h.7M90.2 341.3h.7M82.6 345.6h.7M89.8 351.8h.7M77.6 345.7h.7M104.5 348.5h.7M73.3 343.6h.7M92.3 337.3h.7M71.5 349.7h.7M88.6 336.4h.7M107.9 356.9h.7M91.2 332.9h.7M107.9 341.9h.7M82.4 333.8h.7M84.5 348.4h.7M89.7 342.1h.7M92.6 339.6h.7M89.9 338.0h.7M95.3 351.5h.7M84.4 349.7h.7M86.8 356.5h.7M77.9 349.3h.7M78.8 346.9h.7M81.8 335.7h.7M98.7 332.8h.7M101.6 344.3h.7M91.1 346.1h.7M109.1 336.2h.7M81.1 337.9h.7M87.8 355.7h.7M79.0 334.5h.7M92.8 342.1h.7M74.0 353.9h.7M121.6 309.6h.7M124.9 302.8h.7M128.8 301.9h.7M125.2 307.3h.7M135.4 303.3h.7M124.0 305.4h.7M116.3 305.2h.7M123.6 313.9h.7M121.1 307.6h.7M126.3 309.5h.7M126.5 307.2h.7M126.4 308.5h.7M120.8 305.4h.7M132.5 310.5h.7M134.7 311.9h.7M122.8 299.6h.7M126.1 302.8h.7M128.6 307.5h.7M114.8 307.7h.7M128.2 300.4h.7M127.9 304.4h.7M123.4 307.2h.7M128.9 303.9h.7M128.4 306.8h.7M120.8 303.4h.7M131.0 316.1h.7M126.9 303.8h.7M129.7 308.7h.7M140.0 311.1h.7M133.5 305.1h.7M132.5 303.0h.7M111.3 303.0h.7M121.0 307.1h.7M121.4 299.4h.7M131.1 308.8h.7M125.4 307.4h.7M123.0 306.1h.7M123.5 306.2h.7M126.9 310.7h.7M128.2 304.0h.7M123.7 304.8h.7M123.1 305.4h.7M127.3 304.9h.7M122.4 307.0h.7M124.0 309.4h.7M129.5 302.3h.7M125.6 305.1h.7M134.2 307.6h.7M123.2 307.9h.7M123.5 307.0h.7M132.3 307.5h.7M120.9 313.9h.7M131.1 311.0h.7M128.5 300.1h.7M122.5 307.0h.7M128.6 304.7h.7M128.1 309.2h.7M121.7 306.5h.7M120.5 305.9h.7M121.9 308.9h.7M125.2 310.2h.7M132.3 305.7h.7M133.2 307.1h.7M123.2 303.4h.7M121.6 308.5h.7M123.5 307.6h.7M128.2 306.2h.7M127.5 307.9h.7M124.5 306.8h.7M126.1 304.0h.7M114.2 305.4h.7M127.8 306.2h.7M121.4 306.9h.7M123.1 303.5h.7M125.6 302.6h.7M113.3 309.7h.7M124.0 305.5h.7M122.0 314.8h.7M130.8 301.5h.7M123.2 311.1h.7M126.5 307.6h.7M116.9 308.5h.7M124.7 306.7h.7M123.9 309.5h.7M125.0 306.4h.7M117.1 298.9h.7M125.7 304.5h.7M121.7 309.1h.7M133.8 307.1h.7M130.6 304.0h.7M130.7 310.7h.7M129.3 311.9h.7M118.2 308.7h.7M128.1 307.4h.7M128.9 307.1h.7M126.0 305.8h.7M123.9 317.5h.7M125.5 311.1h.7M127.1 312.5h.7M118.5 307.8h.7M88.5 325.3h.7M80.4 307.6h.7M101.5 294.0h.7M117.4 300.2h.7M102.5 303.4h.7M97.7 313.5h.7M120.6 321.5h.7M89.4 311.5h.7M134.2 301.6h.7M127.6 318.7h.7M76.6 320.6h.7M118.7 296.7h.7M97.4 293.6h.7M74.9 311.1h.7M88.1 311.7h.7M110.1 303.5h.7M109.6 316.7h.7M108.9 301.3h.7M95.4 315.0h.7M107.5 300.6h.7M96.2 311.9h.7M82.9 308.3h.7M101.4 304.4h.7M99.5 311.9h.7M78.0 314.5h.7M101.0 318.3h.7M95.1 321.5h.7M91.9 306.5h.7M90.0 309.9h.7M91.3 309.5h.7M114.5 294.5h.7M113.9 317.0h.7M106.4 304.2h.7M78.4 318.0h.7M99.9 321.2h.7M111.4 324.1h.7M120.6 311.6h.7M83.7 303.2h.7M107.0 311.4h.7M91.0 299.2h.7M88.5 314.5h.7M92.6 319.8h.7M101.5 302.5h.7M74.1 299.3h.7M86.3 294.7h.7M111.6 319.8h.7M89.6 315.1h.7M111.3 311.2h.7M82.9 316.8h.7M109.3 313.9h.7M81.1 308.2h.7M107.5 312.7h.7M97.6 325.0h.7M113.9 304.6h.7M120.8 297.4h.7M104.0 320.7h.7M105.6 320.4h.7M98.8 312.3h.7M87.5 294.6h.7M101.4 310.7h.7M134.4 309.8h.7M112.3 311.7h.7M106.6 313.7h.7M91.7 293.3h.7M89.3 313.5h.7M105.5 301.5h.7M82.7 316.8h.7M94.0 317.6h.7M96.0 307.4h.7M97.2 324.2h.7M93.2 320.6h.7M104.6 304.4h.7M121.5 299.3h.7M129.3 312.8h.7M124.9 322.4h.7M78.8 313.4h.7M92.0 301.5h.7M110.6 321.5h.7M116.6 314.7h.7M113.9 305.5h.7M111.1 317.1h.7M106.1 312.9h.7M137.9 309.7h.7M95.9 305.1h.7M98.7 316.9h.7M111.6 316.1h.7M101.7 309.9h.7M107.8 300.0h.7M98.6 303.2h.7M96.2 296.1h.7M99.1 311.1h.7M93.9 324.5h.7M87.3 300.3h.7M108.8 312.4h.7M95.9 317.9h.7M110.3 298.7h.7M109.6 308.8h.7M100.6 293.2h.7M103.7 315.3h.7M93.9 304.1h.7M109.9 294.1h.7M79.7 308.9h.7M108.9 309.5h.7M92.6 315.4h.7M119.6 303.3h.7M83.1 322.0h.7M90.0 316.4h.7M129.3 308.4h.7M87.3 317.5h.7M99.2 325.6h.7M121.2 310.3h.7M118.4 319.0h.7M104.8 306.5h.7M98.2 311.9h.7M106.2 314.3h.7M113.3 314.6h.7M105.6 304.2h.7M134.2 298.6h.7M78.4 317.9h.7M100.4 313.8h.7M95.0 301.6h.7M88.3 310.3h.7M119.9 299.1h.7M116.9 322.4h.7M95.1 320.6h.7M107.4 313.0h.7M90.7 325.5h.7M81.7 319.6h.7M95.0 297.0h.7M91.5 309.7h.7M107.2 319.6h.7M106.7 320.7h.7M97.4 309.6h.7M106.6 319.7h.7M105.8 311.0h.7M113.8 317.2h.7M112.9 297.9h.7M84.7 313.8h.7M102.7 321.0h.7M85.1 294.8h.7M95.9 311.5h.7M91.7 318.4h.7M100.3 315.3h.7M84.4 307.8h.7M100.4 308.8h.7M95.0 302.0h.7M100.7 308.5h.7M112.9 311.9h.7M96.8 316.0h.7M114.3 312.2h.7M112.5 305.7h.7M107.1 309.4h.7M112.3 322.3h.7M112.5 318.1h.7M90.2 303.8h.7M90.3 318.7h.7M120.1 310.3h.7M105.5 322.0h.7M117.1 298.3h.7M81.6 316.0h.7M84.0 314.6h.7M114.2 313.0h.7M93.5 318.5h.7M94.4 306.1h.7M102.5 304.4h.7M119.1 320.8h.7M101.2 322.3h.7M115.9 302.0h.7M97.0 322.7h.7M104.1 311.0h.7M85.5 301.9h.7M76.6 315.6h.7M101.1 292.4h.7M94.7 322.4h.7M104.1 325.6h.7M104.2 299.4h.7M99.7 293.8h.7M82.4 317.3h.7M86.2 318.8h.7M99.4 296.7h.7M109.8 313.9h.7M99.0 294.2h.7M91.4 305.9h.7M105.5 324.3h.7M79.7 294.5h.7M97.7 303.3h.7M74.5 313.8h.7M95.5 320.5h.7M97.0 324.0h.7M95.7 316.5h.7M79.7 294.8h.7M90.4 317.6h.7M83.4 297.4h.7M90.9 293.1h.7M91.8 324.6h.7M88.3 301.0h.7M102.1 300.6h.7M92.5 303.3h.7M76.8 308.2h.7M75.5 323.4h.7M114.5 333.9h.7M114.6 335.6h.7M114.0 333.3h.7M115.0 340.5h.7M121.3 337.3h.7M119.8 344.0h.7M114.3 333.4h.7M114.8 346.6h.7M118.5 336.9h.7M117.5 334.4h.7M114.0 337.8h.7M119.6 354.2h.7M121.0 332.3h.7M114.1 339.6h.7M117.2 348.0h.7M120.7 342.5h.7M118.6 334.6h.7M116.8 342.2h.7M117.7 333.4h.7M117.9 343.2h.7M115.6 329.0h.7M115.2 342.1h.7M119.3 332.9h.7M117.8 339.1h.7M121.3 342.1h.7M118.8 337.8h.7M114.9 344.1h.7M118.4 342.7h.7M119.7 336.0h.7M116.4 344.4h.7M116.0 336.9h.7M119.0 342.4h.7M118.1 330.8h.7M116.8 343.7h.7M114.2 345.3h.7M118.5 337.2h.7M116.8 328.6h.7M120.1 340.3h.7M115.1 340.2h.7M115.7 333.6h.7M118.8 332.4h.7M117.5 338.4h.7M117.0 344.7h.7M119.8 332.9h.7M114.6 351.9h.7M118.9 330.4h.7M117.3 344.0h.7M116.6 336.3h.7M116.2 329.3h.7M114.0 331.8h.7M115.0 340.8h.7M117.3 340.9h.7M115.3 330.1h.7M118.4 332.3h.7M114.3 343.6h.7M115.4 331.4h.7M116.4 330.9h.7M119.5 335.0h.7M114.3 340.9h.7M114.5 329.1h.7M120.9 350.9h.7M114.6 334.1h.7M117.2 343.0h.7M116.8 337.6h.7M116.5 342.3h.7M117.3 340.4h.7M114.3 345.7h.7M114.2 335.2h.7M115.1 343.0h.7M116.7 348.1h.7" stroke="#000" stroke-width="0.7" stroke-opacity="0.66" fill="none"/>
<rect x="70.5" y="291" width="75.9" height="67.3" fill="none" stroke="#111" stroke-width="1.1"/>
<line x1="112.9" y1="291" x2="112.9" y2="358.3" stroke="#111" stroke-width="1"/>
<line x1="70.5" y1="327.2" x2="146.4" y2="327.2" stroke="#111" stroke-width="1"/>
<text x="108.2" y="324.3" font-size="13.6" textLength="38.2" lengthAdjust="spacingAndGlyphs">3.52%</text>
<defs><radialGradient id="g4"><stop offset="0" stop-color="#000" stop-opacity="0.36"/><stop offset="0.55" stop-color="#000" stop-opacity="0.31"/><stop offset="1" stop-color="#000" stop-opacity="0"/></radialGradient><clipPath id="cg4"><rect x="150.5" y="334" width="31.5" height="24.3"/></clipPath></defs>
<ellipse cx="164.5" cy="342.5" rx="18" ry="9.5" fill="url(#g4)" clip-path="url(#cg4)"/>
<path d="M176.1 346.5h.7M163.5 345.5h.7M159.8 348.6h.7M151.4 346.8h.7M169.5 344.2h.7M171.8 339.5h.7M163.4 350.3h.7M160.8 340.1h.7M171.5 347.7h.7M170.7 344.9h.7M170.1 343.6h.7M174.1 341.4h.7M174.7 341.7h.7M162.7 339.9h.7M153.1 338.5h.7M166.3 343.9h.7M172.6 338.1h.7M168.1 346.7h.7M167.9 350.1h.7M160.1 342.0h.7M166.2 340.2h.7M164.1 343.1h.7M164.2 339.7h.7M160.4 341.7h.7M154.3 340.9h.7M154.4 342.5h.7M161.0 340.8h.7M157.6 342.5h.7M169.3 343.0h.7M160.9 336.3h.7M179.2 342.9h.7M173.9 340.3h.7M157.4 346.9h.7M171.4 340.7h.7M162.5 344.8h.7M157.1 338.3h.7M164.1 346.6h.7M172.5 342.9h.7M177.0 341.3h.7M160.0 352.6h.7M160.0 344.7h.7M169.7 342.6h.7M166.7 345.2h.7M169.7 339.4h.7M164.6 348.3h.7M171.3 340.1h.7M165.2 337.6h.7M152.6 339.7h.7M179.4 339.3h.7M158.2 345.4h.7M176.1 340.6h.7M165.7 338.0h.7M175.8 338.8h.7M164.9 352.7h.7M156.0 342.8h.7M164.1 344.1h.7M169.0 348.7h.7M169.2 344.8h.7M153.2 343.9h.7M152.3 347.5h.7M164.1 346.4h.7M160.1 343.1h.7M165.4 344.5h.7M163.7 339.4h.7M161.2 339.2h.7M156.1 336.6h.7M157.8 337.1h.7M173.8 343.3h.7M163.4 347.2h.7M177.8 344.6h.7M175.4 339.7h.7M180.2 347.3h.7M177.1 335.9h.7M167.7 341.3h.7M166.7 338.2h.7M170.6 345.4h.7M163.7 341.8h.7M152.9 342.2h.7M157.2 353.8h.7M164.7 349.0h.7M164.3 341.9h.7M171.5 341.9h.7M179.7 336.7h.7M156.2 345.0h.7M151.9 350.9h.7M169.6 342.5h.7M181.1 339.7h.7M173.7 344.1h.7M151.8 345.3h.7M174.2 341.0h.7M165.2 343.1h.7M171.5 338.0h.7M155.7 345.6h.7M169.4 344.2h.7M165.2 345.5h.7M169.0 339.3h.7M180.6 347.0h.7M162.4 341.6h.7M157.9 335.8h.7M158.5 343.5h.7M162.8 339.2h.7M154.4 347.1h.7M154.8 346.1h.7M158.0 346.4h.7M168.4 338.5h.7M170.6 347.8h.7M177.1 348.7h.7M161.3 351.8h.7M159.1 341.4h.7M172.3 349.3h.7M175.7 342.8h.7M169.1 343.0h.7M161.0 346.4h.7M151.7 342.9h.7M159.3 345.5h.7M171.8 337.3h.7M154.0 348.8h.7M174.6 342.0h.7M172.6 342.4h.7M169.2 340.3h.7M169.8 349.7h.7M178.4 347.9h.7M165.9 346.5h.7M160.7 340.7h.7M166.1 337.1h.7M180.1 346.0h.7M167.5 338.9h.7M159.1 340.3h.7M156.1 346.0h.7M177.3 348.7h.7M152.0 335.8h.7M178.2 345.7h.7M174.7 345.2h.7M167.0 351.8h.7M172.9 345.2h.7M155.3 342.8h.7M177.4 344.7h.7M173.4 341.2h.7M171.5 339.5h.7M163.0 347.0h.7M180.8 340.6h.7M162.7 341.0h.7M162.9 342.2h.7M173.0 343.7h.7M164.7 344.2h.7M159.2 343.3h.7M174.2 340.9h.7M154.7 349.2h.7M177.5 351.0h.7M162.3 345.3h.7M162.8 344.7h.7M169.1 341.4h.7M165.1 348.5h.7M166.4 345.1h.7M164.4 345.4h.7M180.1 342.5h.7M160.1 338.7h.7M174.3 338.5h.7M169.1 353.7h.7M166.7 350.3h.7M164.8 341.7h.7M170.2 338.1h.7M157.8 343.0h.7M162.8 344.2h.7M163.0 341.1h.7M172.8 341.3h.7M157.5 343.7h.7M159.3 347.1h.7M165.0 341.3h.7M160.6 344.9h.7M174.4 340.7h.7M157.4 345.0h.7M158.9 344.0h.7M162.3 338.4h.7M152.2 341.6h.7M162.2 337.1h.7M152.5 349.0h.7M157.6 344.8h.7M179.8 342.8h.7M161.8 347.2h.7M177.7 339.7h.7M166.8 352.5h.7M173.7 343.6h.7M180.9 338.0h.7M165.7 343.2h.7M158.2 352.2h.7M172.7 343.0h.7M158.1 341.8h.7M167.6 340.4h.7M171.2 342.2h.7M158.2 347.1h.7M168.9 336.0h.7M165.3 341.3h.7M162.6 341.8h.7M165.8 341.2h.7M172.8 344.7h.7M163.3 341.5h.7M161.7 340.3h.7M163.3 343.2h.7M165.5 338.0h.7M164.5 353.8h.7M156.9 342.0h.7M161.8 342.2h.7M160.5 338.3h.7M171.6 349.4h.7M156.3 341.4h.7M153.8 344.6h.7M173.4 342.0h.7M175.8 341.6h.7M166.8 342.0h.7M167.9 342.2h.7M178.7 345.5h.7M180.5 341.4h.7M157.1 339.2h.7M160.8 343.6h.7M160.6 343.4h.7M168.8 336.7h.7M158.5 350.9h.7M161.8 335.7h.7M153.4 338.3h.7M165.2 352.5h.7M174.5 337.6h.7M179.8 348.1h.7M158.3 344.9h.7M168.4 341.4h.7M160.3 339.4h.7M169.0 339.7h.7M173.1 345.3h.7M163.0 345.8h.7M161.2 347.6h.7M172.7 346.3h.7M170.7 335.7h.7M164.1 347.3h.7M173.4 344.9h.7M164.5 341.8h.7M163.0 346.0h.7M162.2 339.6h.7M162.9 348.3h.7M158.8 341.7h.7M168.0 347.1h.7M168.8 339.7h.7M159.8 336.8h.7M162.8 346.7h.7M166.4 340.1h.7M154.1 340.5h.7M172.1 345.0h.7M169.1 346.1h.7M176.6 343.1h.7M171.1 340.6h.7M167.3 337.9h.7M162.2 336.9h.7M164.1 337.4h.7M174.8 340.7h.7M166.3 339.2h.7M163.6 338.9h.7M156.7 344.4h.7M158.2 336.8h.7M161.0 352.6h.7M175.0 343.3h.7M167.6 343.6h.7M168.9 352.9h.7M179.5 343.0h.7M167.4 340.1h.7M169.2 340.8h.7M169.6 344.3h.7M160.6 336.3h.7M162.0 339.0h.7M156.2 342.6h.7M176.5 340.6h.7M161.2 337.2h.7M167.7 343.4h.7M166.9 349.4h.7M167.7 347.0h.7M161.8 344.1h.7M156.9 345.9h.7M178.8 338.0h.7M157.2 343.5h.7M165.1 346.3h.7M170.0 343.4h.7M154.7 345.6h.7M166.3 342.4h.7M162.8 341.7h.7M170.8 335.9h.7M165.2 343.8h.7M154.4 344.8h.7M162.0 339.9h.7M162.5 338.3h.7M180.5 339.2h.7M164.9 340.6h.7M166.8 342.4h.7M162.1 342.4h.7M166.5 343.2h.7M175.1 341.8h.7M164.1 344.6h.7M163.7 344.2h.7M166.0 340.3h.7M151.5 346.9h.7M176.0 342.4h.7M164.1 337.1h.7M167.4 338.5h.7M163.8 339.2h.7M153.3 337.2h.7M156.2 339.1h.7M168.9 337.8h.7M169.4 343.1h.7M174.2 348.5h.7M161.3 341.2h.7M165.7 347.9h.7M165.1 344.5h.7M165.6 345.1h.7M168.0 345.4h.7M170.6 340.9h.7M165.8 343.4h.7M163.3 339.9h.7M162.7 347.1h.7M168.1 337.0h.7M155.9 351.3h.7M171.5 342.0h.7M166.0 340.9h.7M168.5 338.2h.7M166.7 341.9h.7M167.0 346.5h.7M166.7 343.2h.7M164.7 344.1h.7M175.3 340.2h.7M167.0 345.9h.7M163.6 347.0h.7M158.7 347.8h.7M167.6 348.8h.7M178.1 338.0h.7M174.0 344.6h.7M166.0 340.4h.7M168.8 341.2h.7M165.5 342.4h.7M165.9 341.2h.7M152.0 343.1h.7M163.8 341.8h.7M160.1 343.6h.7M169.8 339.9h.7M159.2 337.7h.7M153.6 344.2h.7M164.1 348.6h.7M166.2 340.1h.7M168.0 338.3h.7M176.7 341.0h.7M168.3 347.3h.7M153.6 340.5h.7M155.0 346.0h.7M158.7 346.2h.7M180.2 342.5h.7M152.2 341.3h.7M155.3 345.8h.7M169.0 343.6h.7M156.7 341.2h.7M153.4 341.9h.7M178.1 341.1h.7M178.4 342.8h.7M162.0 344.7h.7M167.2 337.1h.7M171.8 337.7h.7M173.4 347.8h.7M173.9 336.7h.7M161.5 347.0h.7M169.4 344.5h.7M162.5 336.8h.7M157.4 342.6h.7M152.7 342.3h.7M159.6 344.2h.7M152.6 338.7h.7M165.1 344.4h.7M163.0 337.5h.7M155.3 339.5h.7M169.1 341.7h.7M169.5 341.9h.7M160.3 347.6h.7M164.7 338.1h.7M176.7 343.7h.7M166.6 347.0h.7M179.3 349.5h.7M165.7 347.5h.7M173.0 349.5h.7M171.6 345.0h.7M171.6 344.5h.7M160.0 343.6h.7M160.3 338.7h.7M167.9 343.5h.7M167.4 338.7h.7M158.7 340.9h.7M163.2 340.2h.7M154.4 342.9h.7M158.0 341.8h.7M165.4 343.7h.7M163.0 346.1h.7M166.1 341.1h.7M175.8 343.5h.7M158.1 342.6h.7M160.7 337.8h.7M171.0 341.4h.7M159.6 341.6h.7M176.4 337.0h.7M165.4 344.9h.7M166.0 345.6h.7M155.5 345.3h.7M163.4 346.3h.7M164.3 347.9h.7M174.9 346.0h.7M160.2 340.0h.7M171.7 336.7h.7M171.8 341.2h.7M174.0 348.5h.7M164.5 338.7h.7M159.0 343.0h.7M163.7 346.3h.7M152.5 341.5h.7M154.8 339.9h.7M173.1 336.5h.7M168.9 341.9h.7M163.7 342.5h.7M151.4 352.5h.7M165.0 337.8h.7M166.9 340.4h.7M163.6 336.2h.7M172.4 341.7h.7M159.4 345.5h.7M154.7 343.9h.7M168.2 346.7h.7M177.1 344.1h.7M168.8 338.5h.7M172.0 336.0h.7M151.5 343.0h.7M171.2 339.1h.7M151.9 344.9h.7M158.1 344.1h.7M157.2 341.6h.7M174.8 344.4h.7M180.5 337.0h.7M164.2 337.2h.7M160.4 347.3h.7M160.4 344.3h.7M157.8 342.2h.7M164.2 344.8h.7M171.4 351.7h.7M156.0 349.5h.7M173.2 341.9h.7M167.0 340.2h.7M178.2 343.9h.7M162.0 345.1h.7M153.3 344.1h.7M164.7 340.0h.7M161.9 341.9h.7M165.9 344.3h.7M173.7 351.4h.7M175.4 342.6h.7M165.7 342.3h.7M174.6 339.6h.7M172.9 337.0h.7M171.0 342.1h.7M167.9 346.3h.7M159.3 336.6h.7M164.2 340.6h.7M165.1 348.9h.7M172.6 342.0h.7M168.9 343.0h.7M163.0 337.5h.7M166.1 341.3h.7M154.9 347.2h.7M176.1 335.9h.7M159.9 346.5h.7M166.1 336.4h.7M164.0 349.1h.7M156.4 347.1h.7M168.2 336.9h.7M151.8 338.6h.7M166.5 342.1h.7M177.7 340.4h.7M171.1 344.2h.7M169.7 345.1h.7M174.2 347.7h.7M170.6 346.1h.7M173.4 343.6h.7M163.8 347.7h.7M163.9 345.2h.7M170.1 341.8h.7M164.3 340.4h.7M158.1 349.4h.7M154.2 342.2h.7M177.7 344.1h.7M158.7 338.6h.7M169.0 344.8h.7M165.9 340.1h.7M164.5 337.6h.7M162.0 339.1h.7M162.6 348.5h.7M173.2 345.6h.7M163.4 340.8h.7M181.2 344.3h.7M178.5 347.7h.7M153.5 339.6h.7M168.4 346.0h.7M165.2 342.9h.7M163.2 340.0h.7M178.7 346.2h.7M166.6 340.1h.7M159.4 342.9h.7M158.7 346.3h.7M162.7 346.1h.7M166.2 344.7h.7M156.8 342.9h.7M165.0 344.7h.7M174.8 346.5h.7M161.3 342.6h.7M173.5 345.4h.7M163.5 340.2h.7M161.1 343.5h.7M165.9 348.1h.7M164.6 346.4h.7M167.7 345.8h.7M165.4 342.6h.7M154.8 337.1h.7M158.8 342.6h.7M164.3 344.1h.7M160.0 340.3h.7M163.4 341.1h.7M163.5 338.6h.7M170.0 346.3h.7M167.5 349.9h.7M158.6 337.8h.7M158.7 338.0h.7M154.9 340.3h.7M152.9 335.8h.7M168.1 342.3h.7M156.8 345.8h.7M154.4 343.6h.7M158.2 336.3h.7M167.3 347.1h.7M170.6 337.9h.7M156.9 342.9h.7M156.6 344.5h.7M169.4 347.8h.7M171.0 343.4h.7M156.1 343.9h.7M175.1 336.3h.7M164.7 348.5h.7M163.1 346.3h.7M173.7 345.2h.7M159.9 339.3h.7M159.9 344.7h.7M174.4 335.9h.7M167.5 337.6h.7M157.2 351.0h.7M179.5 341.0h.7M164.4 343.7h.7M162.0 340.6h.7M168.1 339.7h.7M163.7 344.2h.7M165.5 339.2h.7M168.8 345.8h.7M167.1 343.2h.7M173.0 339.6h.7M164.6 344.8h.7M164.3 340.8h.7M154.4 341.6h.7M155.9 341.0h.7M167.2 341.2h.7M164.8 339.4h.7M168.6 342.7h.7M162.9 347.2h.7M165.0 344.8h.7M176.2 348.2h.7M170.8 339.8h.7M158.3 340.5h.7M155.1 345.2h.7M171.8 343.6h.7M176.6 346.5h.7M165.0 344.7h.7M161.8 348.2h.7M161.6 337.8h.7M162.7 342.8h.7M151.7 339.9h.7M171.9 337.9h.7M168.0 339.8h.7M173.0 350.9h.7M160.3 346.0h.7M173.7 346.1h.7M163.8 340.2h.7M163.7 343.4h.7M158.4 343.5h.7M152.3 338.4h.7M154.7 344.4h.7M178.5 340.9h.7M177.7 346.8h.7M171.2 346.1h.7M181.1 340.8h.7M173.7 336.8h.7M179.0 344.7h.7M160.6 342.1h.7M178.9 350.0h.7M171.2 342.1h.7M166.9 354.2h.7M156.5 338.8h.7M154.0 342.2h.7M160.0 341.1h.7M168.7 337.8h.7M160.5 344.2h.7M168.8 347.8h.7M169.6 340.6h.7M175.4 338.1h.7M166.2 337.0h.7M171.8 345.3h.7M157.7 342.8h.7M166.9 346.7h.7M173.6 349.7h.7M161.8 346.5h.7M175.1 337.4h.7M167.6 340.4h.7M157.9 342.3h.7M164.3 340.8h.7M157.5 337.0h.7M170.5 342.0h.7M158.6 341.2h.7M162.1 348.5h.7M156.1 339.4h.7M173.5 344.8h.7M151.6 339.7h.7M159.1 339.4h.7M152.2 338.7h.7M159.2 350.4h.7M174.2 342.3h.7M177.2 346.0h.7M151.4 338.3h.7M164.2 341.3h.7M158.8 339.6h.7M175.8 340.2h.7M175.3 338.4h.7M176.2 341.4h.7M164.5 342.8h.7M170.0 344.3h.7M157.7 351.7h.7M169.6 344.8h.7M154.8 339.8h.7M162.3 342.4h.7M169.9 344.8h.7M173.1 336.9h.7M165.6 339.4h.7M156.2 342.6h.7M163.7 339.4h.7M162.7 339.2h.7M176.6 339.1h.7M158.4 336.7h.7M167.0 349.7h.7M168.4 337.3h.7M172.2 342.6h.7M153.0 338.3h.7M165.4 341.5h.7M160.2 339.0h.7M160.5 349.3h.7M155.2 344.4h.7M172.8 341.1h.7M159.5 342.5h.7M161.8 348.1h.7M156.4 342.8h.7M161.0 346.3h.7M159.8 340.0h.7M158.0 343.7h.7M155.1 345.7h.7M157.9 344.2h.7M167.0 345.0h.7M159.7 342.0h.7M167.6 351.1h.7M173.0 350.1h.7M156.8 340.6h.7M160.7 343.7h.7M166.1 338.4h.7M156.6 339.6h.7M154.2 341.7h.7M159.6 340.9h.7M167.0 336.0h.7M167.6 344.2h.7M163.3 342.4h.7M167.2 341.8h.7M175.7 341.1h.7M169.4 340.0h.7M152.7 340.8h.7M174.9 347.4h.7M174.9 341.0h.7M155.5 342.2h.7M156.8 340.7h.7M162.4 344.3h.7M164.3 340.6h.7M167.3 343.1h.7M161.2 341.1h.7M171.5 347.1h.7M172.6 337.7h.7M160.6 340.1h.7M165.6 338.3h.7M164.1 339.2h.7M180.5 340.4h.7M168.4 343.6h.7M158.9 338.8h.7M170.5 340.8h.7M159.1 339.5h.7M163.1 344.2h.7M157.4 338.9h.7M162.2 347.7h.7M158.6 337.7h.7M152.3 349.2h.7M152.4 336.9h.7M163.8 340.5h.7M168.7 339.2h.7M180.3 341.7h.7M159.5 340.2h.7M161.7 348.1h.7M167.7 337.7h.7M153.6 337.9h.7M162.5 336.0h.7M169.5 347.5h.7M163.3 344.6h.7M167.1 337.8h.7M163.1 339.5h.7M164.9 342.8h.7M178.0 340.9h.7M159.0 347.7h.7M167.1 343.0h.7M172.0 345.8h.7M168.3 347.8h.7M165.0 338.8h.7M170.9 345.6h.7M165.0 340.6h.7M161.2 342.4h.7M161.8 341.5h.7M162.1 342.3h.7M163.8 345.7h.7M154.7 342.0h.7M166.0 344.2h.7M160.0 346.5h.7M171.9 347.6h.7M166.9 344.7h.7M165.2 343.8h.7M159.8 337.2h.7M169.7 341.4h.7M161.9 344.4h.7M161.1 342.9h.7M157.3 345.8h.7M173.6 343.0h.7M165.2 343.9h.7M161.1 345.2h.7M173.6 338.2h.7M170.7 340.7h.7M175.5 342.8h.7M157.3 340.6h.7M165.2 342.5h.7M178.4 344.2h.7M170.7 339.3h.7M168.0 339.1h.7M173.0 343.8h.7M154.8 341.1h.7M162.0 342.3h.7M171.3 343.8h.7M176.1 337.8h.7M156.3 344.9h.7M180.5 347.3h.7M168.7 338.5h.7M153.0 340.0h.7M170.4 346.2h.7M158.8 349.9h.7M162.0 344.6h.7M167.8 339.6h.7M164.4 343.8h.7M156.2 350.7h.7M164.8 337.9h.7M167.6 342.8h.7M180.0 339.5h.7M170.6 341.2h.7M170.9 342.9h.7M167.6 344.4h.7M164.1 337.9h.7M165.6 346.7h.7M169.3 343.3h.7M164.9 349.0h.7M179.9 342.1h.7M173.3 349.3h.7M156.2 344.0h.7M158.1 346.9h.7M162.7 342.4h.7M161.7 339.6h.7M164.3 340.0h.7M164.5 341.3h.7M168.3 343.8h.7M161.5 336.8h.7M169.9 349.6h.7M168.1 345.9h.7M158.2 338.7h.7M153.0 338.5h.7M168.1 340.2h.7M155.2 343.9h.7M172.7 340.0h.7M170.5 342.0h.7M176.2 349.7h.7M160.0 345.8h.7M160.1 350.3h.7M172.8 344.7h.7M168.0 336.7h.7M163.4 342.4h.7M156.0 343.6h.7M171.6 352.9h.7M158.6 346.0h.7M177.1 340.1h.7M177.2 347.0h.7M166.1 343.3h.7M161.6 345.3h.7M173.6 336.2h.7M174.9 342.0h.7M175.9 339.3h.7M168.9 342.7h.7M169.1 342.1h.7M166.9 336.9h.7M164.4 343.3h.7M155.0 339.1h.7M158.9 340.3h.7M179.6 341.1h.7M171.4 342.9h.7M164.9 343.0h.7M156.6 344.6h.7M158.9 347.0h.7M159.9 337.6h.7M171.6 338.9h.7M163.1 339.3h.7M159.2 349.1h.7M180.5 338.7h.7M177.4 343.7h.7M161.1 343.8h.7M151.3 337.5h.7M155.9 342.3h.7M158.8 340.4h.7M161.2 349.3h.7M167.6 338.2h.7M164.2 337.6h.7M164.1 346.1h.7M154.6 342.0h.7M170.9 342.3h.7M177.7 344.6h.7M173.7 339.8h.7M169.5 336.7h.7M158.7 343.9h.7M162.4 341.0h.7M177.0 343.5h.7M162.8 345.0h.7M170.0 339.2h.7M157.2 338.2h.7M156.9 337.5h.7M165.7 342.8h.7M168.9 339.9h.7M156.5 338.1h.7M169.2 339.9h.7M172.8 339.2h.7M152.4 338.1h.7M165.9 342.6h.7M180.9 347.3h.7M159.7 339.3h.7M161.4 347.2h.7M168.0 344.7h.7M172.1 341.4h.7M173.9 345.1h.7M155.0 345.2h.7M161.6 345.1h.7M158.6 342.0h.7M175.6 340.9h.7M176.3 342.4h.7M173.4 344.4h.7M157.8 343.5h.7M156.7 352.9h.7M155.8 342.6h.7M157.6 342.2h.7M162.6 351.4h.7M165.3 344.5h.7M152.9 341.3h.7M165.0 337.9h.7M161.1 346.5h.7M168.0 345.6h.7M159.1 341.0h.7M159.3 345.7h.7M154.2 339.8h.7M159.7 345.9h.7M174.3 340.4h.7M178.2 342.7h.7M161.5 341.7h.7M163.1 341.8h.7M173.6 336.4h.7M157.9 339.2h.7M172.5 343.2h.7M155.0 336.9h.7M160.0 347.1h.7M159.2 346.7h.7M158.7 345.4h.7M160.8 343.2h.7M155.1 343.4h.7M167.8 342.7h.7M162.8 344.6h.7M162.8 344.5h.7M154.7 347.7h.7M164.3 335.9h.7M157.6 341.7h.7M173.2 341.1h.7M163.0 339.1h.7M165.2 348.6h.7M163.8 341.2h.7M164.1 337.7h.7M166.2 342.4h.7M163.9 344.2h.7M174.7 353.3h.7M178.1 342.9h.7M169.2 337.2h.7M170.5 339.9h.7M157.9 340.9h.7M154.4 345.9h.7M168.8 340.4h.7M174.2 337.9h.7M169.8 342.4h.7M154.9 342.5h.7M168.3 335.8h.7M179.3 336.6h.7M157.3 349.2h.7M166.2 338.7h.7M176.0 341.0h.7M173.1 350.2h.7M177.2 341.9h.7M176.7 341.7h.7M166.1 341.5h.7M168.2 337.9h.7M155.5 342.2h.7M167.3 338.6h.7M165.8 335.7h.7M158.9 344.6h.7M164.6 339.6h.7M156.3 344.8h.7M175.5 350.1h.7M167.6 348.9h.7M164.2 339.2h.7M158.1 341.5h.7M170.4 341.3h.7M162.8 344.2h.7M175.0 340.1h.7M161.8 352.3h.7M162.0 343.8h.7M170.1 336.3h.7M166.7 340.0h.7M176.8 346.6h.7M167.3 343.9h.7M163.5 341.2h.7M167.2 336.1h.7M155.9 351.5h.7M152.1 352.7h.7M165.4 346.7h.7M163.0 341.6h.7M159.0 338.1h.7M166.4 347.0h.7M174.0 341.7h.7M158.0 350.6h.7M178.9 350.6h.7M166.3 346.9h.7M179.3 342.8h.7M182.4 348.2h.7M157.0 343.8h.7M160.9 339.2h.7M182.0 332.7h.7M169.2 354.3h.7M165.6 347.7h.7M152.8 337.4h.7M163.3 336.7h.7M161.3 336.9h.7M162.6 342.1h.7M161.7 335.0h.7M158.1 345.2h.7M166.7 354.1h.7M172.3 337.4h.7M173.3 348.8h.7M181.7 337.7h.7M180.1 353.6h.7M170.1 348.8h.7M175.4 335.6h.7M166.7 348.7h.7M162.9 351.8h.7M157.3 347.5h.7M174.6 342.4h.7M154.8 343.4h.7M169.1 350.2h.7M157.6 346.0h.7M177.7 336.4h.7M161.3 337.7h.7M156.6 344.0h.7M177.2 344.5h.7M181.7 335.4h.7M158.9 344.6h.7M172.0 351.8h.7M156.5 341.6h.7M176.2 347.5h.7M171.7 336.7h.7M180.3 332.5h.7M161.4 339.9h.7M160.6 334.9h.7M168.8 332.9h.7M178.4 338.9h.7M159.4 340.4h.7M152.9 354.4h.7M157.6 349.6h.7M169.2 351.8h.7M163.8 336.2h.7M169.9 338.1h.7M165.8 346.5h.7M170.7 347.3h.7M177.7 340.5h.7M169.8 338.8h.7M160.0 344.9h.7M175.5 342.9h.7M186.5 332.6h.7M181.0 344.7h.7M158.8 342.0h.7M161.1 345.4h.7M178.0 343.6h.7M168.4 343.6h.7M162.5 353.9h.7M160.9 347.2h.7M169.7 348.3h.7M163.7 336.7h.7M179.4 332.6h.7M173.4 349.5h.7M184.8 343.0h.7M151.6 344.6h.7M155.7 346.7h.7M163.7 347.8h.7M172.5 336.5h.7M167.7 341.6h.7M156.7 344.8h.7M175.0 343.0h.7M163.9 340.1h.7M161.1 354.5h.7M167.2 343.4h.7M176.0 335.8h.7M154.7 345.1h.7M170.6 351.4h.7M160.3 340.1h.7M176.1 348.1h.7M160.1 349.8h.7M178.0 352.1h.7M171.4 345.0h.7M169.0 347.3h.7M173.4 337.6h.7M158.2 345.9h.7M176.2 337.5h.7M164.9 344.5h.7M174.8 347.1h.7M163.4 339.4h.7M160.8 353.9h.7M160.5 336.7h.7M172.9 350.1h.7M154.9 350.7h.7M184.2 348.3h.7M163.1 343.1h.7M170.8 338.7h.7M156.1 335.9h.7M181.0 345.4h.7M166.0 352.6h.7M174.6 349.5h.7M153.3 340.4h.7M160.1 350.8h.7M184.0 341.3h.7M174.8 352.4h.7M165.9 334.3h.7M187.0 352.2h.7M152.1 344.8h.7M163.9 351.9h.7M162.7 342.5h.7M165.9 335.8h.7M173.3 335.4h.7M160.6 351.2h.7M158.2 345.5h.7M169.8 348.3h.7M165.6 346.7h.7M151.9 336.8h.7M174.5 339.8h.7M163.0 343.8h.7M154.9 339.7h.7M155.2 343.8h.7M183.0 344.1h.7M152.2 338.4h.7M171.8 341.6h.7M174.3 339.9h.7M161.4 341.9h.7M155.3 342.4h.7M173.8 345.4h.7M178.5 339.1h.7M174.5 341.7h.7M166.3 352.4h.7M164.4 343.1h.7M171.0 341.8h.7M165.6 354.2h.7M157.5 347.6h.7M176.6 350.8h.7M172.5 355.0h.7M159.2 341.2h.7M172.5 340.4h.7M171.8 350.4h.7M160.3 355.6h.7M178.6 346.9h.7M169.9 352.2h.7M157.7 349.6h.7M180.7 350.8h.7M164.8 351.8h.7M151.6 348.6h.7M185.1 339.2h.7M177.5 345.9h.7M157.0 356.3h.7M184.1 342.3h.7M176.3 349.2h.7M157.9 342.3h.7M165.1 349.9h.7M159.8 351.3h.7M157.2 341.7h.7M178.8 343.0h.7M163.3 344.4h.7M162.8 340.7h.7M156.5 356.6h.7M169.9 350.8h.7M165.9 346.5h.7M169.0 340.9h.7M154.2 351.4h.7M164.9 354.5h.7M170.9 343.3h.7M172.5 343.5h.7M181.5 349.4h.7M165.1 339.6h.7M170.2 344.8h.7M155.0 356.6h.7M175.2 345.9h.7M160.1 336.3h.7M170.5 340.5h.7M176.4 347.5h.7M172.0 334.8h.7M182.8 335.7h.7M160.8 339.3h.7M154.8 341.9h.7M162.0 348.0h.7M182.5 356.4h.7M162.7 345.1h.7M163.8 347.7h.7M160.1 343.5h.7M166.6 352.2h.7M175.9 352.2h.7M166.4 342.6h.7M163.2 343.9h.7M169.3 343.8h.7M175.0 350.7h.7M170.0 337.0h.7M171.5 345.9h.7M168.6 343.8h.7M180.2 336.3h.7M186.9 350.7h.7M170.7 349.4h.7M163.7 353.0h.7M169.8 355.5h.7M165.0 342.7h.7M169.4 349.5h.7M170.5 355.0h.7M180.5 340.5h.7M175.5 347.6h.7M162.9 351.8h.7M167.2 336.7h.7M174.3 350.3h.7M162.9 332.6h.7M164.7 332.9h.7M182.1 354.1h.7M161.4 349.6h.7M171.4 336.2h.7M169.7 339.7h.7M164.8 339.4h.7M171.6 349.0h.7M163.7 341.8h.7M169.0 345.6h.7M177.0 333.3h.7M161.3 348.3h.7M156.5 354.3h.7M154.2 344.3h.7M162.0 337.3h.7M179.5 338.8h.7M174.0 337.9h.7M159.5 333.4h.7M158.1 343.3h.7M157.4 342.2h.7M168.7 340.3h.7M165.0 339.5h.7M180.6 337.5h.7M155.8 353.7h.7M177.0 356.1h.7M161.2 350.9h.7M170.4 344.2h.7M165.9 353.9h.7M157.4 342.4h.7M161.6 347.3h.7M169.6 335.1h.7M160.2 352.5h.7M162.0 336.1h.7M155.4 349.1h.7M165.0 341.7h.7M165.6 338.5h.7M174.0 337.0h.7M180.9 347.0h.7M181.0 351.0h.7M171.4 344.2h.7M182.2 351.5h.7M179.2 333.5h.7M153.4 345.9h.7M174.1 353.4h.7M167.0 350.3h.7M163.3 351.1h.7M156.3 352.1h.7M164.4 355.6h.7M162.0 347.7h.7M175.9 353.1h.7M176.7 341.1h.7M153.3 353.7h.7M166.1 355.9h.7M175.6 346.7h.7M164.0 344.5h.7M166.8 338.8h.7M175.2 342.6h.7M162.6 352.2h.7M153.0 338.1h.7M173.9 346.5h.7M151.9 340.1h.7M165.8 346.1h.7M176.1 353.1h.7M170.2 345.5h.7M173.4 353.2h.7M157.3 353.1h.7M161.4 343.0h.7M171.8 342.5h.7M165.8 355.6h.7M162.7 355.0h.7M169.8 355.3h.7M166.8 351.9h.7M174.9 353.1h.7M165.0 354.0h.7M170.5 340.6h.7M171.2 338.5h.7M173.2 350.2h.7M159.5 341.2h.7M162.9 348.8h.7M160.6 344.2h.7M161.9 346.1h.7M167.1 341.8h.7M176.2 344.4h.7M173.4 347.6h.7M155.2 354.5h.7M164.5 344.8h.7M173.9 339.6h.7M154.8 356.7h.7M176.6 340.5h.7M173.9 355.9h.7M168.7 354.2h.7M171.0 348.2h.7M168.1 339.6h.7M172.6 346.5h.7M165.8 356.4h.7M166.3 339.7h.7M171.2 344.3h.7M173.8 345.4h.7M163.5 346.3h.7M153.3 350.2h.7M166.7 340.2h.7M161.0 340.6h.7M153.7 343.7h.7M170.2 346.2h.7M172.8 346.7h.7M165.5 346.3h.7M157.2 355.8h.7M169.7 356.5h.7M168.6 340.8h.7M155.4 354.3h.7M173.4 338.9h.7M170.5 350.7h.7M152.3 339.6h.7M169.1 356.8h.7M165.7 352.8h.7M158.3 347.5h.7M168.1 355.6h.7M169.3 353.7h.7M154.4 344.2h.7M171.1 338.5h.7M160.5 354.6h.7M176.8 356.0h.7M167.3 351.6h.7M176.2 355.6h.7M168.4 351.1h.7M166.9 346.1h.7M166.6 350.3h.7M157.4 351.0h.7M151.7 356.7h.7M157.3 342.1h.7M151.7 344.7h.7M174.7 348.7h.7M153.6 342.7h.7M157.1 340.1h.7M160.7 343.1h.7M174.2 351.2h.7M170.3 354.1h.7M160.7 354.7h.7M162.7 355.3h.7M156.8 350.5h.7M170.6 344.7h.7M163.7 342.9h.7M164.4 356.7h.7M164.5 338.2h.7M172.6 341.9h.7M176.9 340.2h.7M174.9 349.7h.7M166.4 356.6h.7M166.7 354.4h.7M164.2 356.1h.7M154.5 339.1h.7M164.8 341.4h.7M163.4 354.0h.7M174.8 353.2h.7M174.9 346.9h.7M165.7 342.1h.7M164.4 345.2h.7M175.2 347.5h.7M170.5 351.2h.7M161.7 348.3h.7M159.6 342.8h.7M158.5 355.6h.7M156.4 350.0h.7M174.5 339.1h.7M162.4 338.6h.7M161.8 355.5h.7M175.8 338.8h.7M175.5 338.4h.7M153.2 352.6h.7M162.4 350.9h.7M164.3 349.7h.7M167.6 352.9h.7M157.7 341.0h.7M171.2 345.7h.7M163.1 345.5h.7M152.4 341.5h.7M171.2 343.1h.7M167.5 353.0h.7M168.8 351.8h.7M170.8 345.9h.7M153.6 356.9h.7M172.5 355.6h.7M182.4 343.2h.7M189.3 339.8h.7M188.4 330.3h.7M191.0 329.2h.7M193.6 334.9h.7M188.4 339.5h.7M187.2 334.7h.7M196.3 342.9h.7M187.3 341.8h.7M195.0 344.6h.7M183.0 338.2h.7M185.4 335.3h.7M186.6 335.6h.7M196.2 347.6h.7M182.0 332.5h.7M185.0 337.7h.7M185.7 335.4h.7M182.8 342.4h.7M188.6 336.9h.7M189.3 329.3h.7M181.2 346.2h.7M187.9 334.5h.7M182.6 335.0h.7M191.2 336.1h.7M192.1 346.3h.7M195.0 338.6h.7M191.0 329.6h.7M184.9 349.3h.7M185.9 334.5h.7M182.5 338.6h.7M185.1 335.7h.7M182.6 337.9h.7M192.0 350.3h.7M194.9 339.5h.7M185.2 339.3h.7M191.3 336.8h.7M188.9 344.6h.7M185.6 334.5h.7M187.9 339.1h.7M182.8 337.3h.7M182.6 329.3h.7M183.2 341.5h.7M189.6 337.2h.7M189.2 341.1h.7M190.3 342.2h.7M181.0 342.3h.7M199.0 341.3h.7M183.8 346.7h.7M181.5 343.6h.7M190.1 341.1h.7M188.1 337.3h.7M183.3 339.5h.7M186.2 343.3h.7M183.8 343.2h.7M189.7 339.5h.7M188.5 341.6h.7M188.5 341.9h.7M195.2 337.0h.7M188.5 340.4h.7M185.6 340.1h.7M184.3 339.7h.7M186.3 342.2h.7M182.4 338.5h.7M183.9 342.0h.7M181.7 345.6h.7M189.7 335.8h.7M191.5 335.0h.7M191.9 335.7h.7M188.8 340.6h.7M192.7 334.4h.7M183.2 341.4h.7M187.4 343.9h.7M184.9 344.4h.7M180.7 337.5h.7M186.9 346.9h.7M183.2 337.9h.7M184.7 343.9h.7M183.6 338.3h.7M181.3 344.5h.7M183.1 338.4h.7M182.6 340.7h.7M180.8 336.5h.7M182.9 346.3h.7M182.4 342.5h.7M184.8 343.3h.7M182.6 345.2h.7M183.3 343.0h.7M182.6 343.6h.7M181.9 341.6h.7M181.9 334.5h.7M182.3 337.8h.7M181.3 335.8h.7M181.4 340.4h.7M181.7 340.4h.7M183.4 343.0h.7M184.7 340.6h.7M182.1 342.1h.7M184.9 342.7h.7M186.4 342.6h.7M183.2 332.4h.7M181.1 342.1h.7M180.7 336.8h.7M180.7 334.4h.7M182.1 348.9h.7M181.8 339.1h.7M182.3 344.2h.7M180.9 341.9h.7M186.4 344.8h.7M181.4 342.8h.7M181.0 340.5h.7M208.3 301.3h.7M203.7 302.8h.7M194.8 302.7h.7M197.9 303.5h.7M199.6 299.0h.7M202.8 307.3h.7M198.4 302.6h.7M203.6 313.3h.7M199.7 307.3h.7M197.7 309.3h.7M191.6 304.2h.7M207.4 308.4h.7M197.6 302.3h.7M207.7 305.3h.7M212.9 304.7h.7M201.3 310.0h.7M206.0 308.1h.7M217.7 300.6h.7M206.3 308.5h.7M198.2 305.7h.7M205.0 306.1h.7M196.5 300.0h.7M206.2 317.2h.7M199.0 305.0h.7M203.5 311.4h.7M199.6 303.3h.7M184.8 306.7h.7M214.7 306.8h.7M200.0 312.3h.7M210.3 313.8h.7M198.9 317.1h.7M191.7 309.5h.7M204.2 309.3h.7M197.4 311.1h.7M197.2 311.6h.7M210.1 304.0h.7M197.6 306.1h.7M191.4 305.7h.7M201.0 303.9h.7M212.1 311.7h.7M196.7 305.7h.7M202.0 318.1h.7M203.8 304.1h.7M206.1 302.8h.7M199.4 309.2h.7M193.4 309.7h.7M194.4 303.6h.7M206.6 307.0h.7M203.3 313.0h.7M200.0 309.4h.7M208.7 312.4h.7M189.0 308.9h.7M190.3 316.4h.7M213.3 304.6h.7M200.4 309.5h.7M156.8 320.7h.7M158.4 304.2h.7M165.2 319.9h.7M155.4 317.0h.7M159.2 303.6h.7M171.1 304.5h.7M158.7 307.6h.7M157.7 312.7h.7M165.8 305.3h.7M172.5 306.5h.7M165.6 312.4h.7M154.0 298.4h.7M168.2 309.9h.7M156.9 309.3h.7M173.6 306.2h.7M162.1 306.2h.7M165.4 312.8h.7M166.2 306.8h.7M166.4 322.8h.7M172.4 311.2h.7M164.6 317.3h.7M168.5 320.9h.7M168.0 309.6h.7M169.6 303.2h.7M165.4 307.4h.7M171.8 309.0h.7M161.7 315.6h.7M167.4 321.1h.7M159.4 310.7h.7M163.8 309.0h.7M177.8 310.6h.7M165.9 308.3h.7M161.6 313.6h.7M174.2 315.6h.7M162.4 311.5h.7" stroke="#000" stroke-width="0.7" stroke-opacity="0.66" fill="none"/>
<rect x="150.5" y="291" width="73" height="67.3" fill="none" stroke="#111" stroke-width="1.1"/>
<line x1="179.5" y1="291" x2="179.5" y2="358.3" stroke="#111" stroke-width="1"/>
<line x1="150.5" y1="326.5" x2="223.5" y2="326.5" stroke="#111" stroke-width="1"/>
<text x="182.4" y="324.7" font-size="13.6" textLength="37.6" lengthAdjust="spacingAndGlyphs">1.58%</text>
<text x="278.8" y="213.5" font-size="15.6" font-weight="bold">D</text>
<text x="337.3" y="359.0" font-size="10.2" transform="rotate(-90 337.3 359.0)" textLength="135.2" lengthAdjust="spacingAndGlyphs">7AAD<tspan font-size="6.2" dy="-3.4">+</tspan><tspan dy="3.4">/Annexin V</tspan><tspan font-size="6.2" dy="-3.4">+</tspan><tspan dy="3.4"> Cells (%)</tspan></text>
<line x1="380.25" y1="234.5" x2="380.25" y2="241" stroke="#000" stroke-width="1.4"/>
<line x1="374.6" y1="234.5" x2="385.9" y2="234.5" stroke="#000" stroke-width="1.3"/>
<rect x="372.65" y="240.75" width="15.6" height="101.45" fill="#fff" stroke="#000" stroke-width="1.5"/>
<line x1="403.3" y1="238.8" x2="403.3" y2="241.6" stroke="#000" stroke-width="1.4"/>
<line x1="396.4" y1="238.8" x2="410.2" y2="238.8" stroke="#000" stroke-width="1.3"/>
<rect x="393.9" y="240.6" width="18.7" height="101.6" fill="#000" stroke="none" stroke-width="0"/>
<line x1="430.05" y1="280.7" x2="430.05" y2="288.2" stroke="#000" stroke-width="1.4"/>
<line x1="423.3" y1="280.7" x2="436.8" y2="280.7" stroke="#000" stroke-width="1.3"/>
<rect x="421.55" y="287.95" width="17.8" height="54.25" fill="#fff" stroke="#000" stroke-width="1.5"/>
<line x1="453.55" y1="283.9" x2="453.55" y2="293.2" stroke="#000" stroke-width="1.4"/>
<line x1="446.9" y1="283.9" x2="460.2" y2="283.9" stroke="#000" stroke-width="1.3"/>
<rect x="443.9" y="292.2" width="18.8" height="50" fill="#000" stroke="none" stroke-width="0"/>
<line x1="361.4" y1="231.6" x2="361.4" y2="343.1" stroke="#000" stroke-width="1.6"/>
<line x1="354.6" y1="342.2" x2="469.5" y2="342.2" stroke="#000" stroke-width="1.9"/>
<line x1="354.6" y1="232.5" x2="361.4" y2="232.5" stroke="#000" stroke-width="1.5"/>
<text x="352.8" y="236.5" font-size="11.3" text-anchor="end">4</text>
<line x1="354.6" y1="260" x2="361.4" y2="260" stroke="#000" stroke-width="1.5"/>
<text x="352.8" y="264" font-size="11.3" text-anchor="end">3</text>
<line x1="354.6" y1="287.3" x2="361.4" y2="287.3" stroke="#000" stroke-width="1.5"/>
<text x="352.8" y="291.3" font-size="11.3" text-anchor="end">2</text>
<line x1="354.6" y1="314.8" x2="361.4" y2="314.8" stroke="#000" stroke-width="1.5"/>
<text x="352.8" y="318.8" font-size="11.3" text-anchor="end">1</text>
<text x="352.8" y="346.2" font-size="11.3" text-anchor="end">0</text>
<text x="371.9" y="358.7" font-size="11">WT</text>
<text x="395.6" y="358.7" font-size="11">KO</text>
<text x="422.1" y="358.7" font-size="11">WT</text>
<text x="445.4" y="358.7" font-size="11">KO</text>
<line x1="370.2" y1="362.4" x2="414.2" y2="362.4" stroke="#000" stroke-width="1.3"/>
<line x1="420.4" y1="362.4" x2="464.7" y2="362.4" stroke="#000" stroke-width="1.3"/>
<text x="378.8" y="377.8" font-size="11.6">CD4</text>
<text x="429" y="377.8" font-size="11.6">CD8</text>
</svg>
</body>
</html>
